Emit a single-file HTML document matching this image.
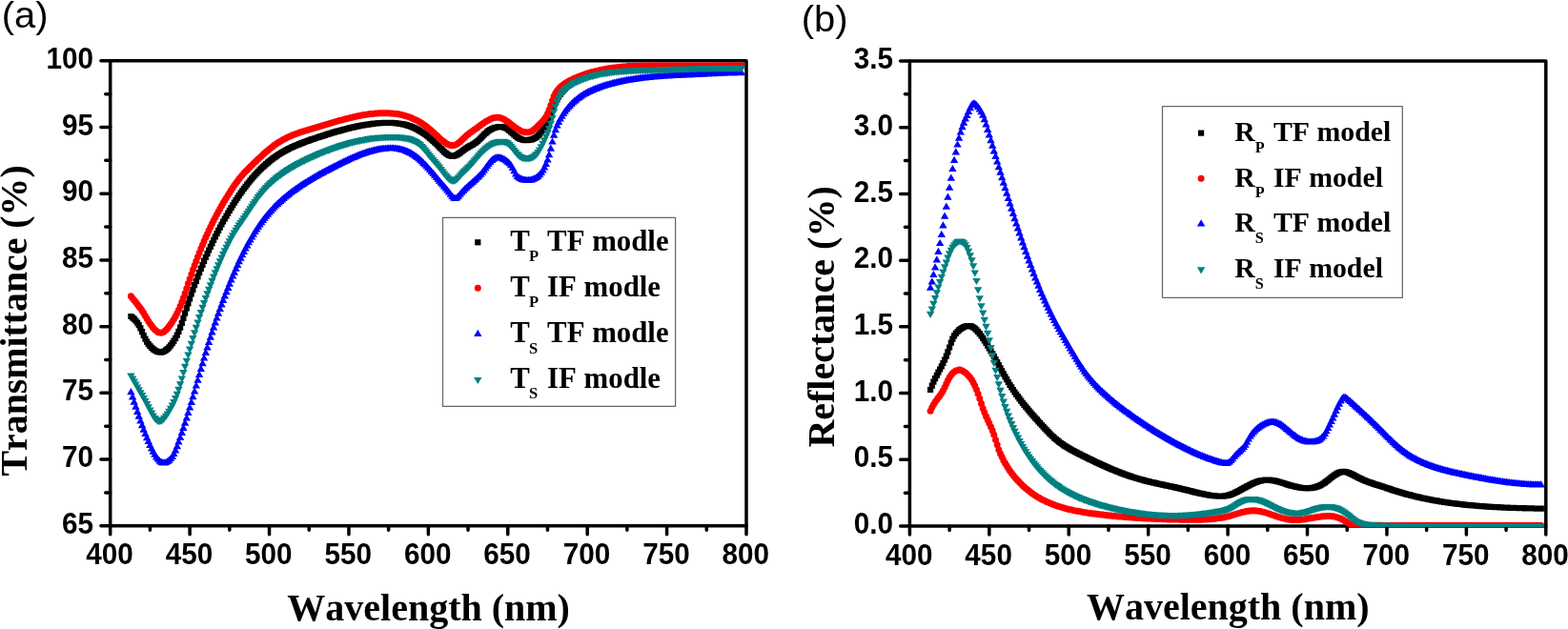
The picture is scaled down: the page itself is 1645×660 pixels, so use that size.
<!DOCTYPE html>
<html><head><meta charset="utf-8"><title>Transmittance and Reflectance spectra</title><style>html,body{margin:0;padding:0;background:#fff;overflow:hidden}svg{display:block;font-kerning:none}.tick text{font-family:"Liberation Sans",Arial,sans-serif;font-weight:bold;font-size:29.7px;fill:#000}.ttl{font-family:"Liberation Serif","Times New Roman",serif;font-weight:bold;font-size:40px;fill:#000}.lg{font-family:"Liberation Serif","Times New Roman",serif;font-weight:bold;font-size:30.8px;fill:#000}.pl{font-family:"Liberation Sans",Arial,sans-serif;font-size:40px;fill:#000}</style></head><body>
<svg width="1645" height="660" viewBox="0 0 1645 660">
<rect width="1645" height="660" fill="#fff"/>
<defs><clipPath id="ca"><rect x="117.45" y="65.55" width="663.8" height="487.99999999999994"/></clipPath><clipPath id="cb"><rect x="956.15" y="65.75" width="663.9" height="487.25"/></clipPath></defs>
<path d="M115.70 551.80V560.70M199.11 551.80V560.70M282.52 551.80V560.70M365.94 551.80V560.70M449.35 551.80V560.70M532.76 551.80V560.70M616.18 551.80V560.70M699.59 551.80V560.70M783.00 551.80V560.70M157.41 551.80V556.20M240.82 551.80V556.20M324.23 551.80V556.20M407.64 551.80V556.20M491.06 551.80V556.20M574.47 551.80V556.20M657.88 551.80V556.20M741.29 551.80V556.20M115.70 551.80H105.90M115.70 482.09H105.90M115.70 412.37H105.90M115.70 342.66H105.90M115.70 272.94H105.90M115.70 203.23H105.90M115.70 133.51H105.90M115.70 63.80H105.90M115.70 516.94H110.70M115.70 447.23H110.70M115.70 377.51H110.70M115.70 307.80H110.70M115.70 238.09H110.70M115.70 168.37H110.70M115.70 98.66H110.70" fill="none" stroke="#000" stroke-width="3.5" stroke-linecap="round"/>
<rect x="115.70" y="63.80" width="667.30" height="488.00" fill="none" stroke="#000" stroke-width="3.5" stroke-linejoin="round"/>
<g class="tick"><text transform="translate(115.00 591.5) scale(1 1.06)" text-anchor="middle">400</text><text transform="translate(198.41 591.5) scale(1 1.06)" text-anchor="middle">450</text><text transform="translate(281.82 591.5) scale(1 1.06)" text-anchor="middle">500</text><text transform="translate(365.24 591.5) scale(1 1.06)" text-anchor="middle">550</text><text transform="translate(448.65 591.5) scale(1 1.06)" text-anchor="middle">600</text><text transform="translate(532.06 591.5) scale(1 1.06)" text-anchor="middle">650</text><text transform="translate(615.48 591.5) scale(1 1.06)" text-anchor="middle">700</text><text transform="translate(698.89 591.5) scale(1 1.06)" text-anchor="middle">750</text><text transform="translate(782.30 591.5) scale(1 1.06)" text-anchor="middle">800</text><text transform="translate(98.1 559.90) scale(1 1.06)" text-anchor="end">65</text><text transform="translate(98.1 490.19) scale(1 1.06)" text-anchor="end">70</text><text transform="translate(98.1 420.47) scale(1 1.06)" text-anchor="end">75</text><text transform="translate(98.1 350.76) scale(1 1.06)" text-anchor="end">80</text><text transform="translate(98.1 281.04) scale(1 1.06)" text-anchor="end">85</text><text transform="translate(98.1 211.33) scale(1 1.06)" text-anchor="end">90</text><text transform="translate(98.1 141.61) scale(1 1.06)" text-anchor="end">95</text><text transform="translate(98.1 71.90) scale(1 1.06)" text-anchor="end">100</text></g>
<path d="M954.40 552.00V560.90M1037.83 552.00V560.90M1121.25 552.00V560.90M1204.67 552.00V560.90M1288.10 552.00V560.90M1371.53 552.00V560.90M1454.95 552.00V560.90M1538.38 552.00V560.90M1621.80 552.00V560.90M996.11 552.00V556.40M1079.54 552.00V556.40M1162.96 552.00V556.40M1246.39 552.00V556.40M1329.81 552.00V556.40M1413.24 552.00V556.40M1496.66 552.00V556.40M1580.09 552.00V556.40M954.40 552.00H944.60M954.40 482.29H944.60M954.40 412.57H944.60M954.40 342.86H944.60M954.40 273.14H944.60M954.40 203.43H944.60M954.40 133.71H944.60M954.40 64.00H944.60M954.40 517.14H949.40M954.40 447.43H949.40M954.40 377.71H949.40M954.40 308.00H949.40M954.40 238.29H949.40M954.40 168.57H949.40M954.40 98.86H949.40" fill="none" stroke="#000" stroke-width="3.5" stroke-linecap="round"/>
<rect x="954.40" y="64.00" width="667.40" height="488.00" fill="none" stroke="#000" stroke-width="3.5" stroke-linejoin="round"/>
<g class="tick"><text transform="translate(953.70 593.0) scale(1 1.06)" text-anchor="middle">400</text><text transform="translate(1037.12 593.0) scale(1 1.06)" text-anchor="middle">450</text><text transform="translate(1120.55 593.0) scale(1 1.06)" text-anchor="middle">500</text><text transform="translate(1203.97 593.0) scale(1 1.06)" text-anchor="middle">550</text><text transform="translate(1287.40 593.0) scale(1 1.06)" text-anchor="middle">600</text><text transform="translate(1370.83 593.0) scale(1 1.06)" text-anchor="middle">650</text><text transform="translate(1454.25 593.0) scale(1 1.06)" text-anchor="middle">700</text><text transform="translate(1537.67 593.0) scale(1 1.06)" text-anchor="middle">750</text><text transform="translate(1621.10 593.0) scale(1 1.06)" text-anchor="middle">800</text><text transform="translate(936.9 560.10) scale(1 1.06)" text-anchor="end">0.0</text><text transform="translate(936.9 490.39) scale(1 1.06)" text-anchor="end">0.5</text><text transform="translate(936.9 420.67) scale(1 1.06)" text-anchor="end">1.0</text><text transform="translate(936.9 350.96) scale(1 1.06)" text-anchor="end">1.5</text><text transform="translate(936.9 281.24) scale(1 1.06)" text-anchor="end">2.0</text><text transform="translate(936.9 211.53) scale(1 1.06)" text-anchor="end">2.5</text><text transform="translate(936.9 141.81) scale(1 1.06)" text-anchor="end">3.0</text><text transform="translate(936.9 72.10) scale(1 1.06)" text-anchor="end">3.5</text></g>
<g clip-path="url(#ca)"><path fill="#000000" d="M134.3 328.9h6.2v6.2h-6.2zM136.0 330.2h6.2v6.2h-6.2zM137.6 331.6h6.2v6.2h-6.2zM139.3 333.4h6.2v6.2h-6.2zM141.0 335.5h6.2v6.2h-6.2zM142.6 338.1h6.2v6.2h-6.2zM144.3 341.3h6.2v6.2h-6.2zM146.0 345.1h6.2v6.2h-6.2zM147.6 348.9h6.2v6.2h-6.2zM149.3 352.5h6.2v6.2h-6.2zM151.0 355.5h6.2v6.2h-6.2zM152.6 358.0h6.2v6.2h-6.2zM154.3 360.0h6.2v6.2h-6.2zM156.0 361.8h6.2v6.2h-6.2zM157.6 363.2h6.2v6.2h-6.2zM159.3 364.4h6.2v6.2h-6.2zM161.0 365.4h6.2v6.2h-6.2zM162.6 366.1h6.2v6.2h-6.2zM164.3 366.4h6.2v6.2h-6.2zM166.0 366.5h6.2v6.2h-6.2zM167.7 366.1h6.2v6.2h-6.2zM169.3 365.4h6.2v6.2h-6.2zM171.0 364.3h6.2v6.2h-6.2zM172.7 363.0h6.2v6.2h-6.2zM174.3 361.3h6.2v6.2h-6.2zM176.0 359.3h6.2v6.2h-6.2zM177.7 357.0h6.2v6.2h-6.2zM179.3 354.5h6.2v6.2h-6.2zM181.0 351.7h6.2v6.2h-6.2zM182.7 348.5h6.2v6.2h-6.2zM184.3 344.8h6.2v6.2h-6.2zM186.0 340.6h6.2v6.2h-6.2zM187.7 335.9h6.2v6.2h-6.2zM189.3 330.8h6.2v6.2h-6.2zM191.0 325.5h6.2v6.2h-6.2zM192.7 320.3h6.2v6.2h-6.2zM194.3 315.2h6.2v6.2h-6.2zM196.0 310.3h6.2v6.2h-6.2zM197.7 305.4h6.2v6.2h-6.2zM199.3 300.7h6.2v6.2h-6.2zM201.0 296.1h6.2v6.2h-6.2zM202.7 291.7h6.2v6.2h-6.2zM204.4 287.3h6.2v6.2h-6.2zM206.0 283.0h6.2v6.2h-6.2zM207.7 278.8h6.2v6.2h-6.2zM209.4 274.8h6.2v6.2h-6.2zM211.0 270.8h6.2v6.2h-6.2zM212.7 266.9h6.2v6.2h-6.2zM214.4 263.1h6.2v6.2h-6.2zM216.0 259.4h6.2v6.2h-6.2zM217.7 255.7h6.2v6.2h-6.2zM219.4 252.2h6.2v6.2h-6.2zM221.0 248.7h6.2v6.2h-6.2zM222.7 245.3h6.2v6.2h-6.2zM224.4 242.0h6.2v6.2h-6.2zM226.0 238.7h6.2v6.2h-6.2zM227.7 235.6h6.2v6.2h-6.2zM229.4 232.4h6.2v6.2h-6.2zM231.0 229.4h6.2v6.2h-6.2zM232.7 226.4h6.2v6.2h-6.2zM234.4 223.5h6.2v6.2h-6.2zM236.1 220.6h6.2v6.2h-6.2zM237.7 217.8h6.2v6.2h-6.2zM239.4 215.0h6.2v6.2h-6.2zM241.1 212.3h6.2v6.2h-6.2zM242.7 209.6h6.2v6.2h-6.2zM244.4 207.0h6.2v6.2h-6.2zM246.1 204.5h6.2v6.2h-6.2zM247.7 202.0h6.2v6.2h-6.2zM249.4 199.6h6.2v6.2h-6.2zM251.1 197.2h6.2v6.2h-6.2zM252.7 194.9h6.2v6.2h-6.2zM254.4 192.7h6.2v6.2h-6.2zM256.1 190.5h6.2v6.2h-6.2zM257.7 188.4h6.2v6.2h-6.2zM259.4 186.3h6.2v6.2h-6.2zM261.1 184.3h6.2v6.2h-6.2zM262.7 182.4h6.2v6.2h-6.2zM264.4 180.5h6.2v6.2h-6.2zM266.1 178.7h6.2v6.2h-6.2zM267.7 176.9h6.2v6.2h-6.2zM269.4 175.2h6.2v6.2h-6.2zM271.1 173.6h6.2v6.2h-6.2zM272.8 172.0h6.2v6.2h-6.2zM274.4 170.5h6.2v6.2h-6.2zM276.1 169.0h6.2v6.2h-6.2zM277.8 167.6h6.2v6.2h-6.2zM279.4 166.2h6.2v6.2h-6.2zM281.1 164.8h6.2v6.2h-6.2zM282.8 163.6h6.2v6.2h-6.2zM284.4 162.3h6.2v6.2h-6.2zM286.1 161.2h6.2v6.2h-6.2zM287.8 160.0h6.2v6.2h-6.2zM289.4 158.9h6.2v6.2h-6.2zM291.1 157.9h6.2v6.2h-6.2zM292.8 156.9h6.2v6.2h-6.2zM294.4 155.9h6.2v6.2h-6.2zM296.1 155.0h6.2v6.2h-6.2zM297.8 154.1h6.2v6.2h-6.2zM299.4 153.3h6.2v6.2h-6.2zM301.1 152.4h6.2v6.2h-6.2zM302.8 151.6h6.2v6.2h-6.2zM304.4 150.9h6.2v6.2h-6.2zM306.1 150.1h6.2v6.2h-6.2zM307.8 149.4h6.2v6.2h-6.2zM309.5 148.7h6.2v6.2h-6.2zM311.1 148.0h6.2v6.2h-6.2zM312.8 147.3h6.2v6.2h-6.2zM314.5 146.7h6.2v6.2h-6.2zM316.1 146.1h6.2v6.2h-6.2zM317.8 145.4h6.2v6.2h-6.2zM319.5 144.8h6.2v6.2h-6.2zM321.1 144.2h6.2v6.2h-6.2zM322.8 143.6h6.2v6.2h-6.2zM324.5 143.1h6.2v6.2h-6.2zM326.1 142.5h6.2v6.2h-6.2zM327.8 141.9h6.2v6.2h-6.2zM329.5 141.4h6.2v6.2h-6.2zM331.1 140.8h6.2v6.2h-6.2zM332.8 140.3h6.2v6.2h-6.2zM334.5 139.7h6.2v6.2h-6.2zM336.1 139.2h6.2v6.2h-6.2zM337.8 138.7h6.2v6.2h-6.2zM339.5 138.1h6.2v6.2h-6.2zM341.2 137.6h6.2v6.2h-6.2zM342.8 137.1h6.2v6.2h-6.2zM344.5 136.6h6.2v6.2h-6.2zM346.2 136.1h6.2v6.2h-6.2zM347.8 135.6h6.2v6.2h-6.2zM349.5 135.1h6.2v6.2h-6.2zM351.2 134.6h6.2v6.2h-6.2zM352.8 134.2h6.2v6.2h-6.2zM354.5 133.7h6.2v6.2h-6.2zM356.2 133.2h6.2v6.2h-6.2zM357.8 132.8h6.2v6.2h-6.2zM359.5 132.4h6.2v6.2h-6.2zM361.2 131.9h6.2v6.2h-6.2zM362.8 131.5h6.2v6.2h-6.2zM364.5 131.1h6.2v6.2h-6.2zM366.2 130.7h6.2v6.2h-6.2zM367.8 130.3h6.2v6.2h-6.2zM369.5 130.0h6.2v6.2h-6.2zM371.2 129.6h6.2v6.2h-6.2zM372.8 129.3h6.2v6.2h-6.2zM374.5 128.9h6.2v6.2h-6.2zM376.2 128.6h6.2v6.2h-6.2zM377.9 128.3h6.2v6.2h-6.2zM379.5 128.0h6.2v6.2h-6.2zM381.2 127.7h6.2v6.2h-6.2zM382.9 127.5h6.2v6.2h-6.2zM384.5 127.2h6.2v6.2h-6.2zM386.2 127.0h6.2v6.2h-6.2zM387.9 126.8h6.2v6.2h-6.2zM389.5 126.6h6.2v6.2h-6.2zM391.2 126.4h6.2v6.2h-6.2zM392.9 126.2h6.2v6.2h-6.2zM394.5 126.1h6.2v6.2h-6.2zM396.2 126.0h6.2v6.2h-6.2zM397.9 125.9h6.2v6.2h-6.2zM399.5 125.8h6.2v6.2h-6.2zM401.2 125.7h6.2v6.2h-6.2zM402.9 125.7h6.2v6.2h-6.2zM404.5 125.7h6.2v6.2h-6.2zM406.2 125.8h6.2v6.2h-6.2zM407.9 125.8h6.2v6.2h-6.2zM409.5 125.9h6.2v6.2h-6.2zM411.2 126.1h6.2v6.2h-6.2zM412.9 126.2h6.2v6.2h-6.2zM414.6 126.4h6.2v6.2h-6.2zM416.2 126.7h6.2v6.2h-6.2zM417.9 126.9h6.2v6.2h-6.2zM419.6 127.3h6.2v6.2h-6.2zM421.2 127.6h6.2v6.2h-6.2zM422.9 128.0h6.2v6.2h-6.2zM424.6 128.5h6.2v6.2h-6.2zM426.2 129.0h6.2v6.2h-6.2zM427.9 129.6h6.2v6.2h-6.2zM429.6 130.2h6.2v6.2h-6.2zM431.2 131.0h6.2v6.2h-6.2zM432.9 131.7h6.2v6.2h-6.2zM434.6 132.6h6.2v6.2h-6.2zM436.2 133.5h6.2v6.2h-6.2zM437.9 134.5h6.2v6.2h-6.2zM439.6 135.5h6.2v6.2h-6.2zM441.2 136.6h6.2v6.2h-6.2zM442.9 137.8h6.2v6.2h-6.2zM444.6 139.1h6.2v6.2h-6.2zM446.2 140.4h6.2v6.2h-6.2zM447.9 141.8h6.2v6.2h-6.2zM449.6 143.2h6.2v6.2h-6.2zM451.3 144.7h6.2v6.2h-6.2zM452.9 146.3h6.2v6.2h-6.2zM454.6 147.9h6.2v6.2h-6.2zM456.3 149.6h6.2v6.2h-6.2zM457.9 151.2h6.2v6.2h-6.2zM459.6 152.9h6.2v6.2h-6.2zM461.3 154.6h6.2v6.2h-6.2zM462.9 156.2h6.2v6.2h-6.2zM464.6 157.6h6.2v6.2h-6.2zM466.3 158.8h6.2v6.2h-6.2zM467.9 159.8h6.2v6.2h-6.2zM469.6 160.4h6.2v6.2h-6.2zM471.3 160.7h6.2v6.2h-6.2zM472.9 160.6h6.2v6.2h-6.2zM474.6 160.1h6.2v6.2h-6.2zM476.3 159.3h6.2v6.2h-6.2zM477.9 158.3h6.2v6.2h-6.2zM479.6 157.2h6.2v6.2h-6.2zM481.3 155.9h6.2v6.2h-6.2zM483.0 154.6h6.2v6.2h-6.2zM484.6 153.4h6.2v6.2h-6.2zM486.3 152.3h6.2v6.2h-6.2zM488.0 151.3h6.2v6.2h-6.2zM489.6 150.3h6.2v6.2h-6.2zM491.3 149.4h6.2v6.2h-6.2zM493.0 148.5h6.2v6.2h-6.2zM494.6 147.4h6.2v6.2h-6.2zM496.3 146.3h6.2v6.2h-6.2zM498.0 145.0h6.2v6.2h-6.2zM499.6 143.4h6.2v6.2h-6.2zM501.3 141.8h6.2v6.2h-6.2zM503.0 140.0h6.2v6.2h-6.2zM504.6 138.3h6.2v6.2h-6.2zM506.3 136.7h6.2v6.2h-6.2zM508.0 135.3h6.2v6.2h-6.2zM509.6 134.1h6.2v6.2h-6.2zM511.3 133.0h6.2v6.2h-6.2zM513.0 132.1h6.2v6.2h-6.2zM514.6 131.4h6.2v6.2h-6.2zM516.3 130.8h6.2v6.2h-6.2zM518.0 130.4h6.2v6.2h-6.2zM519.7 130.1h6.2v6.2h-6.2zM521.3 129.9h6.2v6.2h-6.2zM523.0 130.0h6.2v6.2h-6.2zM524.7 130.2h6.2v6.2h-6.2zM526.3 130.7h6.2v6.2h-6.2zM528.0 131.4h6.2v6.2h-6.2zM529.7 132.5h6.2v6.2h-6.2zM531.3 133.7h6.2v6.2h-6.2zM533.0 135.2h6.2v6.2h-6.2zM534.7 136.7h6.2v6.2h-6.2zM536.3 138.3h6.2v6.2h-6.2zM538.0 139.7h6.2v6.2h-6.2zM539.7 141.0h6.2v6.2h-6.2zM541.3 142.0h6.2v6.2h-6.2zM543.0 142.8h6.2v6.2h-6.2zM544.7 143.4h6.2v6.2h-6.2zM546.3 143.8h6.2v6.2h-6.2zM548.0 144.0h6.2v6.2h-6.2zM549.7 144.0h6.2v6.2h-6.2zM551.3 143.9h6.2v6.2h-6.2zM553.0 143.6h6.2v6.2h-6.2zM554.7 143.2h6.2v6.2h-6.2zM556.4 142.6h6.2v6.2h-6.2zM558.0 141.8h6.2v6.2h-6.2zM559.7 140.7h6.2v6.2h-6.2zM561.4 139.3h6.2v6.2h-6.2zM563.0 137.6h6.2v6.2h-6.2zM564.7 135.6h6.2v6.2h-6.2zM566.4 133.2h6.2v6.2h-6.2zM568.0 130.4h6.2v6.2h-6.2zM569.7 127.3h6.2v6.2h-6.2zM571.4 123.8h6.2v6.2h-6.2zM573.0 120.0h6.2v6.2h-6.2zM574.7 116.0h6.2v6.2h-6.2zM576.4 112.0h6.2v6.2h-6.2zM578.0 108.2h6.2v6.2h-6.2zM579.7 104.6h6.2v6.2h-6.2zM581.4 101.3h6.2v6.2h-6.2zM583.0 98.4h6.2v6.2h-6.2zM584.7 95.8h6.2v6.2h-6.2zM586.4 93.5h6.2v6.2h-6.2zM588.1 91.5h6.2v6.2h-6.2zM589.7 89.7h6.2v6.2h-6.2zM591.4 88.0h6.2v6.2h-6.2zM593.1 86.6h6.2v6.2h-6.2zM594.7 85.2h6.2v6.2h-6.2zM596.4 84.0h6.2v6.2h-6.2zM598.1 82.8h6.2v6.2h-6.2zM599.7 81.8h6.2v6.2h-6.2zM601.4 80.8h6.2v6.2h-6.2zM603.1 79.9h6.2v6.2h-6.2zM604.7 79.1h6.2v6.2h-6.2zM606.4 78.3h6.2v6.2h-6.2zM608.1 77.6h6.2v6.2h-6.2zM609.7 76.9h6.2v6.2h-6.2zM611.4 76.3h6.2v6.2h-6.2zM613.1 75.7h6.2v6.2h-6.2zM614.7 75.2h6.2v6.2h-6.2zM616.4 74.7h6.2v6.2h-6.2zM618.1 74.2h6.2v6.2h-6.2zM619.7 73.8h6.2v6.2h-6.2zM621.4 73.4h6.2v6.2h-6.2zM623.1 73.0h6.2v6.2h-6.2zM624.8 72.7h6.2v6.2h-6.2zM626.4 72.3h6.2v6.2h-6.2zM628.1 72.0h6.2v6.2h-6.2zM629.8 71.7h6.2v6.2h-6.2zM631.4 71.4h6.2v6.2h-6.2zM633.1 71.2h6.2v6.2h-6.2zM634.8 70.9h6.2v6.2h-6.2zM636.4 70.7h6.2v6.2h-6.2zM638.1 70.5h6.2v6.2h-6.2zM639.8 70.3h6.2v6.2h-6.2zM641.4 70.1h6.2v6.2h-6.2zM643.1 69.9h6.2v6.2h-6.2zM644.8 69.7h6.2v6.2h-6.2zM646.4 69.5h6.2v6.2h-6.2zM648.1 69.4h6.2v6.2h-6.2zM649.8 69.2h6.2v6.2h-6.2zM651.4 69.1h6.2v6.2h-6.2zM653.1 68.9h6.2v6.2h-6.2zM654.8 68.8h6.2v6.2h-6.2zM656.4 68.7h6.2v6.2h-6.2zM658.1 68.6h6.2v6.2h-6.2zM659.8 68.5h6.2v6.2h-6.2zM661.5 68.4h6.2v6.2h-6.2zM663.1 68.3h6.2v6.2h-6.2zM664.8 68.2h6.2v6.2h-6.2zM666.5 68.1h6.2v6.2h-6.2zM668.1 68.0h6.2v6.2h-6.2zM669.8 67.9h6.2v6.2h-6.2zM671.5 67.9h6.2v6.2h-6.2zM673.1 67.8h6.2v6.2h-6.2zM674.8 67.7h6.2v6.2h-6.2zM676.5 67.7h6.2v6.2h-6.2zM678.1 67.6h6.2v6.2h-6.2zM679.8 67.5h6.2v6.2h-6.2zM681.5 67.5h6.2v6.2h-6.2zM683.1 67.4h6.2v6.2h-6.2zM684.8 67.4h6.2v6.2h-6.2zM686.5 67.3h6.2v6.2h-6.2zM688.1 67.3h6.2v6.2h-6.2zM689.8 67.2h6.2v6.2h-6.2zM691.5 67.2h6.2v6.2h-6.2zM693.2 67.1h6.2v6.2h-6.2zM694.8 67.1h6.2v6.2h-6.2zM696.5 67.0h6.2v6.2h-6.2zM698.2 67.0h6.2v6.2h-6.2zM699.8 66.9h6.2v6.2h-6.2zM701.5 66.9h6.2v6.2h-6.2zM703.2 66.8h6.2v6.2h-6.2zM704.8 66.8h6.2v6.2h-6.2zM706.5 66.7h6.2v6.2h-6.2zM708.2 66.7h6.2v6.2h-6.2zM709.8 66.6h6.2v6.2h-6.2zM711.5 66.6h6.2v6.2h-6.2zM713.2 66.5h6.2v6.2h-6.2zM714.8 66.5h6.2v6.2h-6.2zM716.5 66.5h6.2v6.2h-6.2zM718.2 66.4h6.2v6.2h-6.2zM719.8 66.4h6.2v6.2h-6.2zM721.5 66.3h6.2v6.2h-6.2zM723.2 66.3h6.2v6.2h-6.2zM724.8 66.3h6.2v6.2h-6.2zM726.5 66.2h6.2v6.2h-6.2zM728.2 66.2h6.2v6.2h-6.2zM729.9 66.1h6.2v6.2h-6.2zM731.5 66.1h6.2v6.2h-6.2zM733.2 66.1h6.2v6.2h-6.2zM734.9 66.0h6.2v6.2h-6.2zM736.5 66.0h6.2v6.2h-6.2zM738.2 66.0h6.2v6.2h-6.2zM739.9 65.9h6.2v6.2h-6.2zM741.5 65.9h6.2v6.2h-6.2zM743.2 65.9h6.2v6.2h-6.2zM744.9 65.9h6.2v6.2h-6.2zM746.5 65.8h6.2v6.2h-6.2zM748.2 65.8h6.2v6.2h-6.2zM749.9 65.8h6.2v6.2h-6.2zM751.5 65.8h6.2v6.2h-6.2zM753.2 65.7h6.2v6.2h-6.2zM754.9 65.7h6.2v6.2h-6.2zM756.5 65.7h6.2v6.2h-6.2zM758.2 65.7h6.2v6.2h-6.2zM759.9 65.6h6.2v6.2h-6.2zM761.5 65.6h6.2v6.2h-6.2zM763.2 65.6h6.2v6.2h-6.2zM764.9 65.6h6.2v6.2h-6.2zM766.6 65.6h6.2v6.2h-6.2zM768.2 65.6h6.2v6.2h-6.2zM769.9 65.5h6.2v6.2h-6.2zM771.6 65.5h6.2v6.2h-6.2zM773.2 65.5h6.2v6.2h-6.2zM774.9 65.5h6.2v6.2h-6.2z"/><path fill="#ff0000" d="M133.9 310.7a3.5 3.5 0 1 0 7.0 0a3.5 3.5 0 1 0 -7.0 0zM135.6 313.0a3.5 3.5 0 1 0 7.0 0a3.5 3.5 0 1 0 -7.0 0zM137.2 315.1a3.5 3.5 0 1 0 7.0 0a3.5 3.5 0 1 0 -7.0 0zM138.9 317.1a3.5 3.5 0 1 0 7.0 0a3.5 3.5 0 1 0 -7.0 0zM140.6 319.2a3.5 3.5 0 1 0 7.0 0a3.5 3.5 0 1 0 -7.0 0zM142.2 321.4a3.5 3.5 0 1 0 7.0 0a3.5 3.5 0 1 0 -7.0 0zM143.9 323.6a3.5 3.5 0 1 0 7.0 0a3.5 3.5 0 1 0 -7.0 0zM145.6 326.0a3.5 3.5 0 1 0 7.0 0a3.5 3.5 0 1 0 -7.0 0zM147.2 328.6a3.5 3.5 0 1 0 7.0 0a3.5 3.5 0 1 0 -7.0 0zM148.9 331.4a3.5 3.5 0 1 0 7.0 0a3.5 3.5 0 1 0 -7.0 0zM150.6 334.2a3.5 3.5 0 1 0 7.0 0a3.5 3.5 0 1 0 -7.0 0zM152.2 337.0a3.5 3.5 0 1 0 7.0 0a3.5 3.5 0 1 0 -7.0 0zM153.9 339.5a3.5 3.5 0 1 0 7.0 0a3.5 3.5 0 1 0 -7.0 0zM155.6 341.8a3.5 3.5 0 1 0 7.0 0a3.5 3.5 0 1 0 -7.0 0zM157.2 343.9a3.5 3.5 0 1 0 7.0 0a3.5 3.5 0 1 0 -7.0 0zM158.9 345.7a3.5 3.5 0 1 0 7.0 0a3.5 3.5 0 1 0 -7.0 0zM160.6 347.3a3.5 3.5 0 1 0 7.0 0a3.5 3.5 0 1 0 -7.0 0zM162.2 348.4a3.5 3.5 0 1 0 7.0 0a3.5 3.5 0 1 0 -7.0 0zM163.9 349.1a3.5 3.5 0 1 0 7.0 0a3.5 3.5 0 1 0 -7.0 0zM165.6 349.3a3.5 3.5 0 1 0 7.0 0a3.5 3.5 0 1 0 -7.0 0zM167.3 348.8a3.5 3.5 0 1 0 7.0 0a3.5 3.5 0 1 0 -7.0 0zM168.9 347.8a3.5 3.5 0 1 0 7.0 0a3.5 3.5 0 1 0 -7.0 0zM170.6 346.3a3.5 3.5 0 1 0 7.0 0a3.5 3.5 0 1 0 -7.0 0zM172.3 344.4a3.5 3.5 0 1 0 7.0 0a3.5 3.5 0 1 0 -7.0 0zM173.9 342.3a3.5 3.5 0 1 0 7.0 0a3.5 3.5 0 1 0 -7.0 0zM175.6 340.1a3.5 3.5 0 1 0 7.0 0a3.5 3.5 0 1 0 -7.0 0zM177.3 337.6a3.5 3.5 0 1 0 7.0 0a3.5 3.5 0 1 0 -7.0 0zM178.9 334.9a3.5 3.5 0 1 0 7.0 0a3.5 3.5 0 1 0 -7.0 0zM180.6 332.0a3.5 3.5 0 1 0 7.0 0a3.5 3.5 0 1 0 -7.0 0zM182.3 328.7a3.5 3.5 0 1 0 7.0 0a3.5 3.5 0 1 0 -7.0 0zM183.9 325.2a3.5 3.5 0 1 0 7.0 0a3.5 3.5 0 1 0 -7.0 0zM185.6 321.3a3.5 3.5 0 1 0 7.0 0a3.5 3.5 0 1 0 -7.0 0zM187.3 317.1a3.5 3.5 0 1 0 7.0 0a3.5 3.5 0 1 0 -7.0 0zM188.9 312.5a3.5 3.5 0 1 0 7.0 0a3.5 3.5 0 1 0 -7.0 0zM190.6 307.7a3.5 3.5 0 1 0 7.0 0a3.5 3.5 0 1 0 -7.0 0zM192.3 302.7a3.5 3.5 0 1 0 7.0 0a3.5 3.5 0 1 0 -7.0 0zM193.9 297.6a3.5 3.5 0 1 0 7.0 0a3.5 3.5 0 1 0 -7.0 0zM195.6 292.7a3.5 3.5 0 1 0 7.0 0a3.5 3.5 0 1 0 -7.0 0zM197.3 287.9a3.5 3.5 0 1 0 7.0 0a3.5 3.5 0 1 0 -7.0 0zM198.9 283.1a3.5 3.5 0 1 0 7.0 0a3.5 3.5 0 1 0 -7.0 0zM200.6 278.5a3.5 3.5 0 1 0 7.0 0a3.5 3.5 0 1 0 -7.0 0zM202.3 274.0a3.5 3.5 0 1 0 7.0 0a3.5 3.5 0 1 0 -7.0 0zM204.0 269.5a3.5 3.5 0 1 0 7.0 0a3.5 3.5 0 1 0 -7.0 0zM205.6 265.2a3.5 3.5 0 1 0 7.0 0a3.5 3.5 0 1 0 -7.0 0zM207.3 261.0a3.5 3.5 0 1 0 7.0 0a3.5 3.5 0 1 0 -7.0 0zM209.0 256.9a3.5 3.5 0 1 0 7.0 0a3.5 3.5 0 1 0 -7.0 0zM210.6 253.0a3.5 3.5 0 1 0 7.0 0a3.5 3.5 0 1 0 -7.0 0zM212.3 249.1a3.5 3.5 0 1 0 7.0 0a3.5 3.5 0 1 0 -7.0 0zM214.0 245.4a3.5 3.5 0 1 0 7.0 0a3.5 3.5 0 1 0 -7.0 0zM215.6 241.7a3.5 3.5 0 1 0 7.0 0a3.5 3.5 0 1 0 -7.0 0zM217.3 238.2a3.5 3.5 0 1 0 7.0 0a3.5 3.5 0 1 0 -7.0 0zM219.0 234.8a3.5 3.5 0 1 0 7.0 0a3.5 3.5 0 1 0 -7.0 0zM220.6 231.4a3.5 3.5 0 1 0 7.0 0a3.5 3.5 0 1 0 -7.0 0zM222.3 228.2a3.5 3.5 0 1 0 7.0 0a3.5 3.5 0 1 0 -7.0 0zM224.0 225.0a3.5 3.5 0 1 0 7.0 0a3.5 3.5 0 1 0 -7.0 0zM225.6 221.9a3.5 3.5 0 1 0 7.0 0a3.5 3.5 0 1 0 -7.0 0zM227.3 218.9a3.5 3.5 0 1 0 7.0 0a3.5 3.5 0 1 0 -7.0 0zM229.0 216.0a3.5 3.5 0 1 0 7.0 0a3.5 3.5 0 1 0 -7.0 0zM230.6 213.1a3.5 3.5 0 1 0 7.0 0a3.5 3.5 0 1 0 -7.0 0zM232.3 210.3a3.5 3.5 0 1 0 7.0 0a3.5 3.5 0 1 0 -7.0 0zM234.0 207.5a3.5 3.5 0 1 0 7.0 0a3.5 3.5 0 1 0 -7.0 0zM235.7 204.8a3.5 3.5 0 1 0 7.0 0a3.5 3.5 0 1 0 -7.0 0zM237.3 202.2a3.5 3.5 0 1 0 7.0 0a3.5 3.5 0 1 0 -7.0 0zM239.0 199.6a3.5 3.5 0 1 0 7.0 0a3.5 3.5 0 1 0 -7.0 0zM240.7 197.1a3.5 3.5 0 1 0 7.0 0a3.5 3.5 0 1 0 -7.0 0zM242.3 194.6a3.5 3.5 0 1 0 7.0 0a3.5 3.5 0 1 0 -7.0 0zM244.0 192.2a3.5 3.5 0 1 0 7.0 0a3.5 3.5 0 1 0 -7.0 0zM245.7 189.9a3.5 3.5 0 1 0 7.0 0a3.5 3.5 0 1 0 -7.0 0zM247.3 187.7a3.5 3.5 0 1 0 7.0 0a3.5 3.5 0 1 0 -7.0 0zM249.0 185.7a3.5 3.5 0 1 0 7.0 0a3.5 3.5 0 1 0 -7.0 0zM250.7 183.7a3.5 3.5 0 1 0 7.0 0a3.5 3.5 0 1 0 -7.0 0zM252.3 181.8a3.5 3.5 0 1 0 7.0 0a3.5 3.5 0 1 0 -7.0 0zM254.0 180.1a3.5 3.5 0 1 0 7.0 0a3.5 3.5 0 1 0 -7.0 0zM255.7 178.4a3.5 3.5 0 1 0 7.0 0a3.5 3.5 0 1 0 -7.0 0zM257.3 176.7a3.5 3.5 0 1 0 7.0 0a3.5 3.5 0 1 0 -7.0 0zM259.0 175.0a3.5 3.5 0 1 0 7.0 0a3.5 3.5 0 1 0 -7.0 0zM260.7 173.4a3.5 3.5 0 1 0 7.0 0a3.5 3.5 0 1 0 -7.0 0zM262.3 171.8a3.5 3.5 0 1 0 7.0 0a3.5 3.5 0 1 0 -7.0 0zM264.0 170.2a3.5 3.5 0 1 0 7.0 0a3.5 3.5 0 1 0 -7.0 0zM265.7 168.6a3.5 3.5 0 1 0 7.0 0a3.5 3.5 0 1 0 -7.0 0zM267.3 167.0a3.5 3.5 0 1 0 7.0 0a3.5 3.5 0 1 0 -7.0 0zM269.0 165.4a3.5 3.5 0 1 0 7.0 0a3.5 3.5 0 1 0 -7.0 0zM270.7 163.9a3.5 3.5 0 1 0 7.0 0a3.5 3.5 0 1 0 -7.0 0zM272.4 162.3a3.5 3.5 0 1 0 7.0 0a3.5 3.5 0 1 0 -7.0 0zM274.0 160.8a3.5 3.5 0 1 0 7.0 0a3.5 3.5 0 1 0 -7.0 0zM275.7 159.3a3.5 3.5 0 1 0 7.0 0a3.5 3.5 0 1 0 -7.0 0zM277.4 157.9a3.5 3.5 0 1 0 7.0 0a3.5 3.5 0 1 0 -7.0 0zM279.0 156.5a3.5 3.5 0 1 0 7.0 0a3.5 3.5 0 1 0 -7.0 0zM280.7 155.2a3.5 3.5 0 1 0 7.0 0a3.5 3.5 0 1 0 -7.0 0zM282.4 153.9a3.5 3.5 0 1 0 7.0 0a3.5 3.5 0 1 0 -7.0 0zM284.0 152.6a3.5 3.5 0 1 0 7.0 0a3.5 3.5 0 1 0 -7.0 0zM285.7 151.4a3.5 3.5 0 1 0 7.0 0a3.5 3.5 0 1 0 -7.0 0zM287.4 150.3a3.5 3.5 0 1 0 7.0 0a3.5 3.5 0 1 0 -7.0 0zM289.0 149.2a3.5 3.5 0 1 0 7.0 0a3.5 3.5 0 1 0 -7.0 0zM290.7 148.2a3.5 3.5 0 1 0 7.0 0a3.5 3.5 0 1 0 -7.0 0zM292.4 147.2a3.5 3.5 0 1 0 7.0 0a3.5 3.5 0 1 0 -7.0 0zM294.0 146.3a3.5 3.5 0 1 0 7.0 0a3.5 3.5 0 1 0 -7.0 0zM295.7 145.4a3.5 3.5 0 1 0 7.0 0a3.5 3.5 0 1 0 -7.0 0zM297.4 144.6a3.5 3.5 0 1 0 7.0 0a3.5 3.5 0 1 0 -7.0 0zM299.0 143.8a3.5 3.5 0 1 0 7.0 0a3.5 3.5 0 1 0 -7.0 0zM300.7 143.0a3.5 3.5 0 1 0 7.0 0a3.5 3.5 0 1 0 -7.0 0zM302.4 142.3a3.5 3.5 0 1 0 7.0 0a3.5 3.5 0 1 0 -7.0 0zM304.0 141.6a3.5 3.5 0 1 0 7.0 0a3.5 3.5 0 1 0 -7.0 0zM305.7 141.0a3.5 3.5 0 1 0 7.0 0a3.5 3.5 0 1 0 -7.0 0zM307.4 140.3a3.5 3.5 0 1 0 7.0 0a3.5 3.5 0 1 0 -7.0 0zM309.1 139.7a3.5 3.5 0 1 0 7.0 0a3.5 3.5 0 1 0 -7.0 0zM310.7 139.1a3.5 3.5 0 1 0 7.0 0a3.5 3.5 0 1 0 -7.0 0zM312.4 138.5a3.5 3.5 0 1 0 7.0 0a3.5 3.5 0 1 0 -7.0 0zM314.1 138.0a3.5 3.5 0 1 0 7.0 0a3.5 3.5 0 1 0 -7.0 0zM315.7 137.5a3.5 3.5 0 1 0 7.0 0a3.5 3.5 0 1 0 -7.0 0zM317.4 136.9a3.5 3.5 0 1 0 7.0 0a3.5 3.5 0 1 0 -7.0 0zM319.1 136.4a3.5 3.5 0 1 0 7.0 0a3.5 3.5 0 1 0 -7.0 0zM320.7 135.9a3.5 3.5 0 1 0 7.0 0a3.5 3.5 0 1 0 -7.0 0zM322.4 135.4a3.5 3.5 0 1 0 7.0 0a3.5 3.5 0 1 0 -7.0 0zM324.1 134.9a3.5 3.5 0 1 0 7.0 0a3.5 3.5 0 1 0 -7.0 0zM325.7 134.4a3.5 3.5 0 1 0 7.0 0a3.5 3.5 0 1 0 -7.0 0zM327.4 134.0a3.5 3.5 0 1 0 7.0 0a3.5 3.5 0 1 0 -7.0 0zM329.1 133.5a3.5 3.5 0 1 0 7.0 0a3.5 3.5 0 1 0 -7.0 0zM330.7 133.0a3.5 3.5 0 1 0 7.0 0a3.5 3.5 0 1 0 -7.0 0zM332.4 132.5a3.5 3.5 0 1 0 7.0 0a3.5 3.5 0 1 0 -7.0 0zM334.1 132.0a3.5 3.5 0 1 0 7.0 0a3.5 3.5 0 1 0 -7.0 0zM335.7 131.5a3.5 3.5 0 1 0 7.0 0a3.5 3.5 0 1 0 -7.0 0zM337.4 131.0a3.5 3.5 0 1 0 7.0 0a3.5 3.5 0 1 0 -7.0 0zM339.1 130.5a3.5 3.5 0 1 0 7.0 0a3.5 3.5 0 1 0 -7.0 0zM340.8 130.0a3.5 3.5 0 1 0 7.0 0a3.5 3.5 0 1 0 -7.0 0zM342.4 129.5a3.5 3.5 0 1 0 7.0 0a3.5 3.5 0 1 0 -7.0 0zM344.1 129.1a3.5 3.5 0 1 0 7.0 0a3.5 3.5 0 1 0 -7.0 0zM345.8 128.6a3.5 3.5 0 1 0 7.0 0a3.5 3.5 0 1 0 -7.0 0zM347.4 128.1a3.5 3.5 0 1 0 7.0 0a3.5 3.5 0 1 0 -7.0 0zM349.1 127.6a3.5 3.5 0 1 0 7.0 0a3.5 3.5 0 1 0 -7.0 0zM350.8 127.1a3.5 3.5 0 1 0 7.0 0a3.5 3.5 0 1 0 -7.0 0zM352.4 126.6a3.5 3.5 0 1 0 7.0 0a3.5 3.5 0 1 0 -7.0 0zM354.1 126.2a3.5 3.5 0 1 0 7.0 0a3.5 3.5 0 1 0 -7.0 0zM355.8 125.7a3.5 3.5 0 1 0 7.0 0a3.5 3.5 0 1 0 -7.0 0zM357.4 125.3a3.5 3.5 0 1 0 7.0 0a3.5 3.5 0 1 0 -7.0 0zM359.1 124.8a3.5 3.5 0 1 0 7.0 0a3.5 3.5 0 1 0 -7.0 0zM360.8 124.4a3.5 3.5 0 1 0 7.0 0a3.5 3.5 0 1 0 -7.0 0zM362.4 124.0a3.5 3.5 0 1 0 7.0 0a3.5 3.5 0 1 0 -7.0 0zM364.1 123.6a3.5 3.5 0 1 0 7.0 0a3.5 3.5 0 1 0 -7.0 0zM365.8 123.2a3.5 3.5 0 1 0 7.0 0a3.5 3.5 0 1 0 -7.0 0zM367.4 122.8a3.5 3.5 0 1 0 7.0 0a3.5 3.5 0 1 0 -7.0 0zM369.1 122.4a3.5 3.5 0 1 0 7.0 0a3.5 3.5 0 1 0 -7.0 0zM370.8 122.0a3.5 3.5 0 1 0 7.0 0a3.5 3.5 0 1 0 -7.0 0zM372.4 121.7a3.5 3.5 0 1 0 7.0 0a3.5 3.5 0 1 0 -7.0 0zM374.1 121.4a3.5 3.5 0 1 0 7.0 0a3.5 3.5 0 1 0 -7.0 0zM375.8 121.1a3.5 3.5 0 1 0 7.0 0a3.5 3.5 0 1 0 -7.0 0zM377.5 120.8a3.5 3.5 0 1 0 7.0 0a3.5 3.5 0 1 0 -7.0 0zM379.1 120.5a3.5 3.5 0 1 0 7.0 0a3.5 3.5 0 1 0 -7.0 0zM380.8 120.2a3.5 3.5 0 1 0 7.0 0a3.5 3.5 0 1 0 -7.0 0zM382.5 120.0a3.5 3.5 0 1 0 7.0 0a3.5 3.5 0 1 0 -7.0 0zM384.1 119.8a3.5 3.5 0 1 0 7.0 0a3.5 3.5 0 1 0 -7.0 0zM385.8 119.6a3.5 3.5 0 1 0 7.0 0a3.5 3.5 0 1 0 -7.0 0zM387.5 119.4a3.5 3.5 0 1 0 7.0 0a3.5 3.5 0 1 0 -7.0 0zM389.1 119.2a3.5 3.5 0 1 0 7.0 0a3.5 3.5 0 1 0 -7.0 0zM390.8 119.1a3.5 3.5 0 1 0 7.0 0a3.5 3.5 0 1 0 -7.0 0zM392.5 118.9a3.5 3.5 0 1 0 7.0 0a3.5 3.5 0 1 0 -7.0 0zM394.1 118.8a3.5 3.5 0 1 0 7.0 0a3.5 3.5 0 1 0 -7.0 0zM395.8 118.8a3.5 3.5 0 1 0 7.0 0a3.5 3.5 0 1 0 -7.0 0zM397.5 118.7a3.5 3.5 0 1 0 7.0 0a3.5 3.5 0 1 0 -7.0 0zM399.1 118.7a3.5 3.5 0 1 0 7.0 0a3.5 3.5 0 1 0 -7.0 0zM400.8 118.7a3.5 3.5 0 1 0 7.0 0a3.5 3.5 0 1 0 -7.0 0zM402.5 118.7a3.5 3.5 0 1 0 7.0 0a3.5 3.5 0 1 0 -7.0 0zM404.1 118.8a3.5 3.5 0 1 0 7.0 0a3.5 3.5 0 1 0 -7.0 0zM405.8 118.9a3.5 3.5 0 1 0 7.0 0a3.5 3.5 0 1 0 -7.0 0zM407.5 119.0a3.5 3.5 0 1 0 7.0 0a3.5 3.5 0 1 0 -7.0 0zM409.1 119.2a3.5 3.5 0 1 0 7.0 0a3.5 3.5 0 1 0 -7.0 0zM410.8 119.3a3.5 3.5 0 1 0 7.0 0a3.5 3.5 0 1 0 -7.0 0zM412.5 119.6a3.5 3.5 0 1 0 7.0 0a3.5 3.5 0 1 0 -7.0 0zM414.2 119.8a3.5 3.5 0 1 0 7.0 0a3.5 3.5 0 1 0 -7.0 0zM415.8 120.1a3.5 3.5 0 1 0 7.0 0a3.5 3.5 0 1 0 -7.0 0zM417.5 120.5a3.5 3.5 0 1 0 7.0 0a3.5 3.5 0 1 0 -7.0 0zM419.2 120.8a3.5 3.5 0 1 0 7.0 0a3.5 3.5 0 1 0 -7.0 0zM420.8 121.3a3.5 3.5 0 1 0 7.0 0a3.5 3.5 0 1 0 -7.0 0zM422.5 121.7a3.5 3.5 0 1 0 7.0 0a3.5 3.5 0 1 0 -7.0 0zM424.2 122.3a3.5 3.5 0 1 0 7.0 0a3.5 3.5 0 1 0 -7.0 0zM425.8 122.8a3.5 3.5 0 1 0 7.0 0a3.5 3.5 0 1 0 -7.0 0zM427.5 123.5a3.5 3.5 0 1 0 7.0 0a3.5 3.5 0 1 0 -7.0 0zM429.2 124.2a3.5 3.5 0 1 0 7.0 0a3.5 3.5 0 1 0 -7.0 0zM430.8 124.9a3.5 3.5 0 1 0 7.0 0a3.5 3.5 0 1 0 -7.0 0zM432.5 125.7a3.5 3.5 0 1 0 7.0 0a3.5 3.5 0 1 0 -7.0 0zM434.2 126.6a3.5 3.5 0 1 0 7.0 0a3.5 3.5 0 1 0 -7.0 0zM435.8 127.5a3.5 3.5 0 1 0 7.0 0a3.5 3.5 0 1 0 -7.0 0zM437.5 128.5a3.5 3.5 0 1 0 7.0 0a3.5 3.5 0 1 0 -7.0 0zM439.2 129.6a3.5 3.5 0 1 0 7.0 0a3.5 3.5 0 1 0 -7.0 0zM440.8 130.7a3.5 3.5 0 1 0 7.0 0a3.5 3.5 0 1 0 -7.0 0zM442.5 131.8a3.5 3.5 0 1 0 7.0 0a3.5 3.5 0 1 0 -7.0 0zM444.2 133.1a3.5 3.5 0 1 0 7.0 0a3.5 3.5 0 1 0 -7.0 0zM445.8 134.4a3.5 3.5 0 1 0 7.0 0a3.5 3.5 0 1 0 -7.0 0zM447.5 135.8a3.5 3.5 0 1 0 7.0 0a3.5 3.5 0 1 0 -7.0 0zM449.2 137.2a3.5 3.5 0 1 0 7.0 0a3.5 3.5 0 1 0 -7.0 0zM450.9 138.7a3.5 3.5 0 1 0 7.0 0a3.5 3.5 0 1 0 -7.0 0zM452.5 140.2a3.5 3.5 0 1 0 7.0 0a3.5 3.5 0 1 0 -7.0 0zM454.2 141.8a3.5 3.5 0 1 0 7.0 0a3.5 3.5 0 1 0 -7.0 0zM455.9 143.3a3.5 3.5 0 1 0 7.0 0a3.5 3.5 0 1 0 -7.0 0zM457.5 144.9a3.5 3.5 0 1 0 7.0 0a3.5 3.5 0 1 0 -7.0 0zM459.2 146.4a3.5 3.5 0 1 0 7.0 0a3.5 3.5 0 1 0 -7.0 0zM460.9 147.8a3.5 3.5 0 1 0 7.0 0a3.5 3.5 0 1 0 -7.0 0zM462.5 149.1a3.5 3.5 0 1 0 7.0 0a3.5 3.5 0 1 0 -7.0 0zM464.2 150.3a3.5 3.5 0 1 0 7.0 0a3.5 3.5 0 1 0 -7.0 0zM465.9 151.2a3.5 3.5 0 1 0 7.0 0a3.5 3.5 0 1 0 -7.0 0zM467.5 152.0a3.5 3.5 0 1 0 7.0 0a3.5 3.5 0 1 0 -7.0 0zM469.2 152.5a3.5 3.5 0 1 0 7.0 0a3.5 3.5 0 1 0 -7.0 0zM470.9 152.8a3.5 3.5 0 1 0 7.0 0a3.5 3.5 0 1 0 -7.0 0zM472.5 152.6a3.5 3.5 0 1 0 7.0 0a3.5 3.5 0 1 0 -7.0 0zM474.2 152.1a3.5 3.5 0 1 0 7.0 0a3.5 3.5 0 1 0 -7.0 0zM475.9 151.3a3.5 3.5 0 1 0 7.0 0a3.5 3.5 0 1 0 -7.0 0zM477.5 150.1a3.5 3.5 0 1 0 7.0 0a3.5 3.5 0 1 0 -7.0 0zM479.2 148.7a3.5 3.5 0 1 0 7.0 0a3.5 3.5 0 1 0 -7.0 0zM480.9 147.1a3.5 3.5 0 1 0 7.0 0a3.5 3.5 0 1 0 -7.0 0zM482.6 145.5a3.5 3.5 0 1 0 7.0 0a3.5 3.5 0 1 0 -7.0 0zM484.2 143.9a3.5 3.5 0 1 0 7.0 0a3.5 3.5 0 1 0 -7.0 0zM485.9 142.3a3.5 3.5 0 1 0 7.0 0a3.5 3.5 0 1 0 -7.0 0zM487.6 140.9a3.5 3.5 0 1 0 7.0 0a3.5 3.5 0 1 0 -7.0 0zM489.2 139.6a3.5 3.5 0 1 0 7.0 0a3.5 3.5 0 1 0 -7.0 0zM490.9 138.4a3.5 3.5 0 1 0 7.0 0a3.5 3.5 0 1 0 -7.0 0zM492.6 137.3a3.5 3.5 0 1 0 7.0 0a3.5 3.5 0 1 0 -7.0 0zM494.2 136.1a3.5 3.5 0 1 0 7.0 0a3.5 3.5 0 1 0 -7.0 0zM495.9 134.9a3.5 3.5 0 1 0 7.0 0a3.5 3.5 0 1 0 -7.0 0zM497.6 133.7a3.5 3.5 0 1 0 7.0 0a3.5 3.5 0 1 0 -7.0 0zM499.2 132.5a3.5 3.5 0 1 0 7.0 0a3.5 3.5 0 1 0 -7.0 0zM500.9 131.3a3.5 3.5 0 1 0 7.0 0a3.5 3.5 0 1 0 -7.0 0zM502.6 130.1a3.5 3.5 0 1 0 7.0 0a3.5 3.5 0 1 0 -7.0 0zM504.2 128.9a3.5 3.5 0 1 0 7.0 0a3.5 3.5 0 1 0 -7.0 0zM505.9 127.8a3.5 3.5 0 1 0 7.0 0a3.5 3.5 0 1 0 -7.0 0zM507.6 126.8a3.5 3.5 0 1 0 7.0 0a3.5 3.5 0 1 0 -7.0 0zM509.2 125.9a3.5 3.5 0 1 0 7.0 0a3.5 3.5 0 1 0 -7.0 0zM510.9 125.0a3.5 3.5 0 1 0 7.0 0a3.5 3.5 0 1 0 -7.0 0zM512.6 124.3a3.5 3.5 0 1 0 7.0 0a3.5 3.5 0 1 0 -7.0 0zM514.2 123.8a3.5 3.5 0 1 0 7.0 0a3.5 3.5 0 1 0 -7.0 0zM515.9 123.4a3.5 3.5 0 1 0 7.0 0a3.5 3.5 0 1 0 -7.0 0zM517.6 123.2a3.5 3.5 0 1 0 7.0 0a3.5 3.5 0 1 0 -7.0 0zM519.3 123.2a3.5 3.5 0 1 0 7.0 0a3.5 3.5 0 1 0 -7.0 0zM520.9 123.5a3.5 3.5 0 1 0 7.0 0a3.5 3.5 0 1 0 -7.0 0zM522.6 124.0a3.5 3.5 0 1 0 7.0 0a3.5 3.5 0 1 0 -7.0 0zM524.3 124.7a3.5 3.5 0 1 0 7.0 0a3.5 3.5 0 1 0 -7.0 0zM525.9 125.6a3.5 3.5 0 1 0 7.0 0a3.5 3.5 0 1 0 -7.0 0zM527.6 126.7a3.5 3.5 0 1 0 7.0 0a3.5 3.5 0 1 0 -7.0 0zM529.3 127.8a3.5 3.5 0 1 0 7.0 0a3.5 3.5 0 1 0 -7.0 0zM530.9 129.1a3.5 3.5 0 1 0 7.0 0a3.5 3.5 0 1 0 -7.0 0zM532.6 130.4a3.5 3.5 0 1 0 7.0 0a3.5 3.5 0 1 0 -7.0 0zM534.3 131.7a3.5 3.5 0 1 0 7.0 0a3.5 3.5 0 1 0 -7.0 0zM535.9 133.0a3.5 3.5 0 1 0 7.0 0a3.5 3.5 0 1 0 -7.0 0zM537.6 134.2a3.5 3.5 0 1 0 7.0 0a3.5 3.5 0 1 0 -7.0 0zM539.3 135.3a3.5 3.5 0 1 0 7.0 0a3.5 3.5 0 1 0 -7.0 0zM540.9 136.3a3.5 3.5 0 1 0 7.0 0a3.5 3.5 0 1 0 -7.0 0zM542.6 137.2a3.5 3.5 0 1 0 7.0 0a3.5 3.5 0 1 0 -7.0 0zM544.3 137.9a3.5 3.5 0 1 0 7.0 0a3.5 3.5 0 1 0 -7.0 0zM545.9 138.4a3.5 3.5 0 1 0 7.0 0a3.5 3.5 0 1 0 -7.0 0zM547.6 138.7a3.5 3.5 0 1 0 7.0 0a3.5 3.5 0 1 0 -7.0 0zM549.3 138.8a3.5 3.5 0 1 0 7.0 0a3.5 3.5 0 1 0 -7.0 0zM550.9 138.7a3.5 3.5 0 1 0 7.0 0a3.5 3.5 0 1 0 -7.0 0zM552.6 138.3a3.5 3.5 0 1 0 7.0 0a3.5 3.5 0 1 0 -7.0 0zM554.3 137.7a3.5 3.5 0 1 0 7.0 0a3.5 3.5 0 1 0 -7.0 0zM556.0 136.6a3.5 3.5 0 1 0 7.0 0a3.5 3.5 0 1 0 -7.0 0zM557.6 135.3a3.5 3.5 0 1 0 7.0 0a3.5 3.5 0 1 0 -7.0 0zM559.3 133.7a3.5 3.5 0 1 0 7.0 0a3.5 3.5 0 1 0 -7.0 0zM561.0 132.1a3.5 3.5 0 1 0 7.0 0a3.5 3.5 0 1 0 -7.0 0zM562.6 130.4a3.5 3.5 0 1 0 7.0 0a3.5 3.5 0 1 0 -7.0 0zM564.3 128.7a3.5 3.5 0 1 0 7.0 0a3.5 3.5 0 1 0 -7.0 0zM566.0 126.9a3.5 3.5 0 1 0 7.0 0a3.5 3.5 0 1 0 -7.0 0zM567.6 124.9a3.5 3.5 0 1 0 7.0 0a3.5 3.5 0 1 0 -7.0 0zM569.3 122.4a3.5 3.5 0 1 0 7.0 0a3.5 3.5 0 1 0 -7.0 0zM571.0 119.3a3.5 3.5 0 1 0 7.0 0a3.5 3.5 0 1 0 -7.0 0zM572.6 115.3a3.5 3.5 0 1 0 7.0 0a3.5 3.5 0 1 0 -7.0 0zM574.3 110.4a3.5 3.5 0 1 0 7.0 0a3.5 3.5 0 1 0 -7.0 0zM576.0 105.4a3.5 3.5 0 1 0 7.0 0a3.5 3.5 0 1 0 -7.0 0zM577.6 101.1a3.5 3.5 0 1 0 7.0 0a3.5 3.5 0 1 0 -7.0 0zM579.3 97.8a3.5 3.5 0 1 0 7.0 0a3.5 3.5 0 1 0 -7.0 0zM581.0 95.3a3.5 3.5 0 1 0 7.0 0a3.5 3.5 0 1 0 -7.0 0zM582.6 93.2a3.5 3.5 0 1 0 7.0 0a3.5 3.5 0 1 0 -7.0 0zM584.3 91.5a3.5 3.5 0 1 0 7.0 0a3.5 3.5 0 1 0 -7.0 0zM586.0 90.0a3.5 3.5 0 1 0 7.0 0a3.5 3.5 0 1 0 -7.0 0zM587.7 88.7a3.5 3.5 0 1 0 7.0 0a3.5 3.5 0 1 0 -7.0 0zM589.3 87.5a3.5 3.5 0 1 0 7.0 0a3.5 3.5 0 1 0 -7.0 0zM591.0 86.4a3.5 3.5 0 1 0 7.0 0a3.5 3.5 0 1 0 -7.0 0zM592.7 85.5a3.5 3.5 0 1 0 7.0 0a3.5 3.5 0 1 0 -7.0 0zM594.3 84.5a3.5 3.5 0 1 0 7.0 0a3.5 3.5 0 1 0 -7.0 0zM596.0 83.7a3.5 3.5 0 1 0 7.0 0a3.5 3.5 0 1 0 -7.0 0zM597.7 82.9a3.5 3.5 0 1 0 7.0 0a3.5 3.5 0 1 0 -7.0 0zM599.3 82.1a3.5 3.5 0 1 0 7.0 0a3.5 3.5 0 1 0 -7.0 0zM601.0 81.4a3.5 3.5 0 1 0 7.0 0a3.5 3.5 0 1 0 -7.0 0zM602.7 80.7a3.5 3.5 0 1 0 7.0 0a3.5 3.5 0 1 0 -7.0 0zM604.3 80.0a3.5 3.5 0 1 0 7.0 0a3.5 3.5 0 1 0 -7.0 0zM606.0 79.4a3.5 3.5 0 1 0 7.0 0a3.5 3.5 0 1 0 -7.0 0zM607.7 78.8a3.5 3.5 0 1 0 7.0 0a3.5 3.5 0 1 0 -7.0 0zM609.3 78.2a3.5 3.5 0 1 0 7.0 0a3.5 3.5 0 1 0 -7.0 0zM611.0 77.6a3.5 3.5 0 1 0 7.0 0a3.5 3.5 0 1 0 -7.0 0zM612.7 77.1a3.5 3.5 0 1 0 7.0 0a3.5 3.5 0 1 0 -7.0 0zM614.3 76.6a3.5 3.5 0 1 0 7.0 0a3.5 3.5 0 1 0 -7.0 0zM616.0 76.1a3.5 3.5 0 1 0 7.0 0a3.5 3.5 0 1 0 -7.0 0zM617.7 75.6a3.5 3.5 0 1 0 7.0 0a3.5 3.5 0 1 0 -7.0 0zM619.3 75.2a3.5 3.5 0 1 0 7.0 0a3.5 3.5 0 1 0 -7.0 0zM621.0 74.8a3.5 3.5 0 1 0 7.0 0a3.5 3.5 0 1 0 -7.0 0zM622.7 74.4a3.5 3.5 0 1 0 7.0 0a3.5 3.5 0 1 0 -7.0 0zM624.4 74.0a3.5 3.5 0 1 0 7.0 0a3.5 3.5 0 1 0 -7.0 0zM626.0 73.6a3.5 3.5 0 1 0 7.0 0a3.5 3.5 0 1 0 -7.0 0zM627.7 73.3a3.5 3.5 0 1 0 7.0 0a3.5 3.5 0 1 0 -7.0 0zM629.4 72.9a3.5 3.5 0 1 0 7.0 0a3.5 3.5 0 1 0 -7.0 0zM631.0 72.6a3.5 3.5 0 1 0 7.0 0a3.5 3.5 0 1 0 -7.0 0zM632.7 72.3a3.5 3.5 0 1 0 7.0 0a3.5 3.5 0 1 0 -7.0 0zM634.4 72.1a3.5 3.5 0 1 0 7.0 0a3.5 3.5 0 1 0 -7.0 0zM636.0 71.8a3.5 3.5 0 1 0 7.0 0a3.5 3.5 0 1 0 -7.0 0zM637.7 71.6a3.5 3.5 0 1 0 7.0 0a3.5 3.5 0 1 0 -7.0 0zM639.4 71.3a3.5 3.5 0 1 0 7.0 0a3.5 3.5 0 1 0 -7.0 0zM641.0 71.1a3.5 3.5 0 1 0 7.0 0a3.5 3.5 0 1 0 -7.0 0zM642.7 70.9a3.5 3.5 0 1 0 7.0 0a3.5 3.5 0 1 0 -7.0 0zM644.4 70.7a3.5 3.5 0 1 0 7.0 0a3.5 3.5 0 1 0 -7.0 0zM646.0 70.5a3.5 3.5 0 1 0 7.0 0a3.5 3.5 0 1 0 -7.0 0zM647.7 70.3a3.5 3.5 0 1 0 7.0 0a3.5 3.5 0 1 0 -7.0 0zM649.4 70.2a3.5 3.5 0 1 0 7.0 0a3.5 3.5 0 1 0 -7.0 0zM651.0 70.0a3.5 3.5 0 1 0 7.0 0a3.5 3.5 0 1 0 -7.0 0zM652.7 69.9a3.5 3.5 0 1 0 7.0 0a3.5 3.5 0 1 0 -7.0 0zM654.4 69.7a3.5 3.5 0 1 0 7.0 0a3.5 3.5 0 1 0 -7.0 0zM656.0 69.6a3.5 3.5 0 1 0 7.0 0a3.5 3.5 0 1 0 -7.0 0zM657.7 69.5a3.5 3.5 0 1 0 7.0 0a3.5 3.5 0 1 0 -7.0 0zM659.4 69.4a3.5 3.5 0 1 0 7.0 0a3.5 3.5 0 1 0 -7.0 0zM661.1 69.3a3.5 3.5 0 1 0 7.0 0a3.5 3.5 0 1 0 -7.0 0zM662.7 69.2a3.5 3.5 0 1 0 7.0 0a3.5 3.5 0 1 0 -7.0 0zM664.4 69.1a3.5 3.5 0 1 0 7.0 0a3.5 3.5 0 1 0 -7.0 0zM666.1 69.0a3.5 3.5 0 1 0 7.0 0a3.5 3.5 0 1 0 -7.0 0zM667.7 68.9a3.5 3.5 0 1 0 7.0 0a3.5 3.5 0 1 0 -7.0 0zM669.4 68.9a3.5 3.5 0 1 0 7.0 0a3.5 3.5 0 1 0 -7.0 0zM671.1 68.8a3.5 3.5 0 1 0 7.0 0a3.5 3.5 0 1 0 -7.0 0zM672.7 68.7a3.5 3.5 0 1 0 7.0 0a3.5 3.5 0 1 0 -7.0 0zM674.4 68.7a3.5 3.5 0 1 0 7.0 0a3.5 3.5 0 1 0 -7.0 0zM676.1 68.6a3.5 3.5 0 1 0 7.0 0a3.5 3.5 0 1 0 -7.0 0zM677.7 68.5a3.5 3.5 0 1 0 7.0 0a3.5 3.5 0 1 0 -7.0 0zM679.4 68.5a3.5 3.5 0 1 0 7.0 0a3.5 3.5 0 1 0 -7.0 0zM681.1 68.4a3.5 3.5 0 1 0 7.0 0a3.5 3.5 0 1 0 -7.0 0zM682.7 68.4a3.5 3.5 0 1 0 7.0 0a3.5 3.5 0 1 0 -7.0 0zM684.4 68.3a3.5 3.5 0 1 0 7.0 0a3.5 3.5 0 1 0 -7.0 0zM686.1 68.3a3.5 3.5 0 1 0 7.0 0a3.5 3.5 0 1 0 -7.0 0zM687.7 68.2a3.5 3.5 0 1 0 7.0 0a3.5 3.5 0 1 0 -7.0 0zM689.4 68.2a3.5 3.5 0 1 0 7.0 0a3.5 3.5 0 1 0 -7.0 0zM691.1 68.1a3.5 3.5 0 1 0 7.0 0a3.5 3.5 0 1 0 -7.0 0zM692.8 68.1a3.5 3.5 0 1 0 7.0 0a3.5 3.5 0 1 0 -7.0 0zM694.4 68.0a3.5 3.5 0 1 0 7.0 0a3.5 3.5 0 1 0 -7.0 0zM696.1 68.0a3.5 3.5 0 1 0 7.0 0a3.5 3.5 0 1 0 -7.0 0zM697.8 67.9a3.5 3.5 0 1 0 7.0 0a3.5 3.5 0 1 0 -7.0 0zM699.4 67.9a3.5 3.5 0 1 0 7.0 0a3.5 3.5 0 1 0 -7.0 0zM701.1 67.8a3.5 3.5 0 1 0 7.0 0a3.5 3.5 0 1 0 -7.0 0zM702.8 67.8a3.5 3.5 0 1 0 7.0 0a3.5 3.5 0 1 0 -7.0 0zM704.4 67.7a3.5 3.5 0 1 0 7.0 0a3.5 3.5 0 1 0 -7.0 0zM706.1 67.7a3.5 3.5 0 1 0 7.0 0a3.5 3.5 0 1 0 -7.0 0zM707.8 67.6a3.5 3.5 0 1 0 7.0 0a3.5 3.5 0 1 0 -7.0 0zM709.4 67.6a3.5 3.5 0 1 0 7.0 0a3.5 3.5 0 1 0 -7.0 0zM711.1 67.5a3.5 3.5 0 1 0 7.0 0a3.5 3.5 0 1 0 -7.0 0zM712.8 67.5a3.5 3.5 0 1 0 7.0 0a3.5 3.5 0 1 0 -7.0 0zM714.4 67.4a3.5 3.5 0 1 0 7.0 0a3.5 3.5 0 1 0 -7.0 0zM716.1 67.4a3.5 3.5 0 1 0 7.0 0a3.5 3.5 0 1 0 -7.0 0zM717.8 67.3a3.5 3.5 0 1 0 7.0 0a3.5 3.5 0 1 0 -7.0 0zM719.4 67.3a3.5 3.5 0 1 0 7.0 0a3.5 3.5 0 1 0 -7.0 0zM721.1 67.2a3.5 3.5 0 1 0 7.0 0a3.5 3.5 0 1 0 -7.0 0zM722.8 67.2a3.5 3.5 0 1 0 7.0 0a3.5 3.5 0 1 0 -7.0 0zM724.4 67.1a3.5 3.5 0 1 0 7.0 0a3.5 3.5 0 1 0 -7.0 0zM726.1 67.1a3.5 3.5 0 1 0 7.0 0a3.5 3.5 0 1 0 -7.0 0zM727.8 67.0a3.5 3.5 0 1 0 7.0 0a3.5 3.5 0 1 0 -7.0 0zM729.5 67.0a3.5 3.5 0 1 0 7.0 0a3.5 3.5 0 1 0 -7.0 0zM731.1 67.0a3.5 3.5 0 1 0 7.0 0a3.5 3.5 0 1 0 -7.0 0zM732.8 66.9a3.5 3.5 0 1 0 7.0 0a3.5 3.5 0 1 0 -7.0 0zM734.5 66.9a3.5 3.5 0 1 0 7.0 0a3.5 3.5 0 1 0 -7.0 0zM736.1 66.9a3.5 3.5 0 1 0 7.0 0a3.5 3.5 0 1 0 -7.0 0zM737.8 66.8a3.5 3.5 0 1 0 7.0 0a3.5 3.5 0 1 0 -7.0 0zM739.5 66.8a3.5 3.5 0 1 0 7.0 0a3.5 3.5 0 1 0 -7.0 0zM741.1 66.8a3.5 3.5 0 1 0 7.0 0a3.5 3.5 0 1 0 -7.0 0zM742.8 66.7a3.5 3.5 0 1 0 7.0 0a3.5 3.5 0 1 0 -7.0 0zM744.5 66.7a3.5 3.5 0 1 0 7.0 0a3.5 3.5 0 1 0 -7.0 0zM746.1 66.7a3.5 3.5 0 1 0 7.0 0a3.5 3.5 0 1 0 -7.0 0zM747.8 66.7a3.5 3.5 0 1 0 7.0 0a3.5 3.5 0 1 0 -7.0 0zM749.5 66.6a3.5 3.5 0 1 0 7.0 0a3.5 3.5 0 1 0 -7.0 0zM751.1 66.6a3.5 3.5 0 1 0 7.0 0a3.5 3.5 0 1 0 -7.0 0zM752.8 66.6a3.5 3.5 0 1 0 7.0 0a3.5 3.5 0 1 0 -7.0 0zM754.5 66.6a3.5 3.5 0 1 0 7.0 0a3.5 3.5 0 1 0 -7.0 0zM756.1 66.6a3.5 3.5 0 1 0 7.0 0a3.5 3.5 0 1 0 -7.0 0zM757.8 66.6a3.5 3.5 0 1 0 7.0 0a3.5 3.5 0 1 0 -7.0 0zM759.5 66.5a3.5 3.5 0 1 0 7.0 0a3.5 3.5 0 1 0 -7.0 0zM761.1 66.5a3.5 3.5 0 1 0 7.0 0a3.5 3.5 0 1 0 -7.0 0zM762.8 66.5a3.5 3.5 0 1 0 7.0 0a3.5 3.5 0 1 0 -7.0 0zM764.5 66.5a3.5 3.5 0 1 0 7.0 0a3.5 3.5 0 1 0 -7.0 0zM766.2 66.5a3.5 3.5 0 1 0 7.0 0a3.5 3.5 0 1 0 -7.0 0zM767.8 66.5a3.5 3.5 0 1 0 7.0 0a3.5 3.5 0 1 0 -7.0 0zM769.5 66.5a3.5 3.5 0 1 0 7.0 0a3.5 3.5 0 1 0 -7.0 0zM771.2 66.5a3.5 3.5 0 1 0 7.0 0a3.5 3.5 0 1 0 -7.0 0zM772.8 66.6a3.5 3.5 0 1 0 7.0 0a3.5 3.5 0 1 0 -7.0 0zM774.5 66.6a3.5 3.5 0 1 0 7.0 0a3.5 3.5 0 1 0 -7.0 0z"/><path fill="#0000ff" d="M137.4 407.1l4.2 7.2h-8.4zM139.1 412.3l4.2 7.2h-8.4zM140.7 417.5l4.2 7.2h-8.4zM142.4 422.6l4.2 7.2h-8.4zM144.1 427.7l4.2 7.2h-8.4zM145.7 432.6l4.2 7.2h-8.4zM147.4 437.4l4.2 7.2h-8.4zM149.1 442.1l4.2 7.2h-8.4zM150.7 446.6l4.2 7.2h-8.4zM152.4 450.9l4.2 7.2h-8.4zM154.1 455.0l4.2 7.2h-8.4zM155.7 458.9l4.2 7.2h-8.4zM157.4 462.7l4.2 7.2h-8.4zM159.1 466.3l4.2 7.2h-8.4zM160.7 469.6l4.2 7.2h-8.4zM162.4 472.6l4.2 7.2h-8.4zM164.1 475.2l4.2 7.2h-8.4zM165.7 477.4l4.2 7.2h-8.4zM167.4 479.2l4.2 7.2h-8.4zM169.1 480.5l4.2 7.2h-8.4zM170.8 481.2l4.2 7.2h-8.4zM172.4 481.3l4.2 7.2h-8.4zM174.1 480.9l4.2 7.2h-8.4zM175.8 479.9l4.2 7.2h-8.4zM177.4 478.6l4.2 7.2h-8.4zM179.1 476.9l4.2 7.2h-8.4zM180.8 474.7l4.2 7.2h-8.4zM182.4 471.9l4.2 7.2h-8.4zM184.1 468.3l4.2 7.2h-8.4zM185.8 464.0l4.2 7.2h-8.4zM187.4 459.4l4.2 7.2h-8.4zM189.1 454.7l4.2 7.2h-8.4zM190.8 449.8l4.2 7.2h-8.4zM192.4 444.8l4.2 7.2h-8.4zM194.1 439.6l4.2 7.2h-8.4zM195.8 434.3l4.2 7.2h-8.4zM197.4 428.9l4.2 7.2h-8.4zM199.1 423.4l4.2 7.2h-8.4zM200.8 417.7l4.2 7.2h-8.4zM202.4 412.0l4.2 7.2h-8.4zM204.1 406.2l4.2 7.2h-8.4zM205.8 400.4l4.2 7.2h-8.4zM207.5 394.5l4.2 7.2h-8.4zM209.1 388.7l4.2 7.2h-8.4zM210.8 382.8l4.2 7.2h-8.4zM212.5 377.1l4.2 7.2h-8.4zM214.1 371.4l4.2 7.2h-8.4zM215.8 365.8l4.2 7.2h-8.4zM217.5 360.3l4.2 7.2h-8.4zM219.1 354.9l4.2 7.2h-8.4zM220.8 349.6l4.2 7.2h-8.4zM222.5 344.4l4.2 7.2h-8.4zM224.1 339.3l4.2 7.2h-8.4zM225.8 334.3l4.2 7.2h-8.4zM227.5 329.4l4.2 7.2h-8.4zM229.1 324.6l4.2 7.2h-8.4zM230.8 319.9l4.2 7.2h-8.4zM232.5 315.3l4.2 7.2h-8.4zM234.1 310.7l4.2 7.2h-8.4zM235.8 306.3l4.2 7.2h-8.4zM237.5 302.0l4.2 7.2h-8.4zM239.2 297.7l4.2 7.2h-8.4zM240.8 293.5l4.2 7.2h-8.4zM242.5 289.4l4.2 7.2h-8.4zM244.2 285.4l4.2 7.2h-8.4zM245.8 281.5l4.2 7.2h-8.4zM247.5 277.6l4.2 7.2h-8.4zM249.2 273.8l4.2 7.2h-8.4zM250.8 270.1l4.2 7.2h-8.4zM252.5 266.5l4.2 7.2h-8.4zM254.2 263.1l4.2 7.2h-8.4zM255.8 259.7l4.2 7.2h-8.4zM257.5 256.4l4.2 7.2h-8.4zM259.2 253.2l4.2 7.2h-8.4zM260.8 250.1l4.2 7.2h-8.4zM262.5 247.2l4.2 7.2h-8.4zM264.2 244.3l4.2 7.2h-8.4zM265.8 241.5l4.2 7.2h-8.4zM267.5 238.8l4.2 7.2h-8.4zM269.2 236.2l4.2 7.2h-8.4zM270.8 233.7l4.2 7.2h-8.4zM272.5 231.3l4.2 7.2h-8.4zM274.2 229.0l4.2 7.2h-8.4zM275.9 226.8l4.2 7.2h-8.4zM277.5 224.6l4.2 7.2h-8.4zM279.2 222.5l4.2 7.2h-8.4zM280.9 220.5l4.2 7.2h-8.4zM282.5 218.5l4.2 7.2h-8.4zM284.2 216.7l4.2 7.2h-8.4zM285.9 214.9l4.2 7.2h-8.4zM287.5 213.1l4.2 7.2h-8.4zM289.2 211.4l4.2 7.2h-8.4zM290.9 209.8l4.2 7.2h-8.4zM292.5 208.2l4.2 7.2h-8.4zM294.2 206.7l4.2 7.2h-8.4zM295.9 205.2l4.2 7.2h-8.4zM297.5 203.8l4.2 7.2h-8.4zM299.2 202.4l4.2 7.2h-8.4zM300.9 201.0l4.2 7.2h-8.4zM302.5 199.7l4.2 7.2h-8.4zM304.2 198.4l4.2 7.2h-8.4zM305.9 197.1l4.2 7.2h-8.4zM307.5 195.9l4.2 7.2h-8.4zM309.2 194.7l4.2 7.2h-8.4zM310.9 193.5l4.2 7.2h-8.4zM312.6 192.4l4.2 7.2h-8.4zM314.2 191.2l4.2 7.2h-8.4zM315.9 190.1l4.2 7.2h-8.4zM317.6 189.0l4.2 7.2h-8.4zM319.2 188.0l4.2 7.2h-8.4zM320.9 186.9l4.2 7.2h-8.4zM322.6 185.9l4.2 7.2h-8.4zM324.2 184.9l4.2 7.2h-8.4zM325.9 183.9l4.2 7.2h-8.4zM327.6 182.9l4.2 7.2h-8.4zM329.2 181.9l4.2 7.2h-8.4zM330.9 180.9l4.2 7.2h-8.4zM332.6 180.0l4.2 7.2h-8.4zM334.2 179.1l4.2 7.2h-8.4zM335.9 178.1l4.2 7.2h-8.4zM337.6 177.2l4.2 7.2h-8.4zM339.2 176.3l4.2 7.2h-8.4zM340.9 175.4l4.2 7.2h-8.4zM342.6 174.6l4.2 7.2h-8.4zM344.3 173.7l4.2 7.2h-8.4zM345.9 172.8l4.2 7.2h-8.4zM347.6 172.0l4.2 7.2h-8.4zM349.3 171.1l4.2 7.2h-8.4zM350.9 170.2l4.2 7.2h-8.4zM352.6 169.4l4.2 7.2h-8.4zM354.3 168.6l4.2 7.2h-8.4zM355.9 167.7l4.2 7.2h-8.4zM357.6 166.9l4.2 7.2h-8.4zM359.3 166.1l4.2 7.2h-8.4zM360.9 165.3l4.2 7.2h-8.4zM362.6 164.5l4.2 7.2h-8.4zM364.3 163.7l4.2 7.2h-8.4zM365.9 162.9l4.2 7.2h-8.4zM367.6 162.1l4.2 7.2h-8.4zM369.3 161.4l4.2 7.2h-8.4zM370.9 160.7l4.2 7.2h-8.4zM372.6 160.0l4.2 7.2h-8.4zM374.3 159.3l4.2 7.2h-8.4zM375.9 158.6l4.2 7.2h-8.4zM377.6 157.9l4.2 7.2h-8.4zM379.3 157.3l4.2 7.2h-8.4zM381.0 156.7l4.2 7.2h-8.4zM382.6 156.2l4.2 7.2h-8.4zM384.3 155.6l4.2 7.2h-8.4zM386.0 155.1l4.2 7.2h-8.4zM387.6 154.6l4.2 7.2h-8.4zM389.3 154.2l4.2 7.2h-8.4zM391.0 153.7l4.2 7.2h-8.4zM392.6 153.3l4.2 7.2h-8.4zM394.3 153.0l4.2 7.2h-8.4zM396.0 152.6l4.2 7.2h-8.4zM397.6 152.3l4.2 7.2h-8.4zM399.3 152.1l4.2 7.2h-8.4zM401.0 151.8l4.2 7.2h-8.4zM402.6 151.7l4.2 7.2h-8.4zM404.3 151.5l4.2 7.2h-8.4zM406.0 151.4l4.2 7.2h-8.4zM407.6 151.3l4.2 7.2h-8.4zM409.3 151.3l4.2 7.2h-8.4zM411.0 151.3l4.2 7.2h-8.4zM412.6 151.3l4.2 7.2h-8.4zM414.3 151.4l4.2 7.2h-8.4zM416.0 151.6l4.2 7.2h-8.4zM417.7 151.8l4.2 7.2h-8.4zM419.3 152.1l4.2 7.2h-8.4zM421.0 152.5l4.2 7.2h-8.4zM422.7 152.9l4.2 7.2h-8.4zM424.3 153.4l4.2 7.2h-8.4zM426.0 154.0l4.2 7.2h-8.4zM427.7 154.7l4.2 7.2h-8.4zM429.3 155.5l4.2 7.2h-8.4zM431.0 156.3l4.2 7.2h-8.4zM432.7 157.3l4.2 7.2h-8.4zM434.3 158.4l4.2 7.2h-8.4zM436.0 159.5l4.2 7.2h-8.4zM437.7 160.8l4.2 7.2h-8.4zM439.3 162.1l4.2 7.2h-8.4zM441.0 163.6l4.2 7.2h-8.4zM442.7 165.1l4.2 7.2h-8.4zM444.3 166.7l4.2 7.2h-8.4zM446.0 168.3l4.2 7.2h-8.4zM447.7 170.1l4.2 7.2h-8.4zM449.3 171.9l4.2 7.2h-8.4zM451.0 173.8l4.2 7.2h-8.4zM452.7 175.7l4.2 7.2h-8.4zM454.4 177.6l4.2 7.2h-8.4zM456.0 179.6l4.2 7.2h-8.4zM457.7 181.6l4.2 7.2h-8.4zM459.4 183.6l4.2 7.2h-8.4zM461.0 185.6l4.2 7.2h-8.4zM462.7 187.5l4.2 7.2h-8.4zM464.4 189.4l4.2 7.2h-8.4zM466.0 191.3l4.2 7.2h-8.4zM467.7 193.2l4.2 7.2h-8.4zM469.4 195.2l4.2 7.2h-8.4zM471.0 197.3l4.2 7.2h-8.4zM472.7 199.6l4.2 7.2h-8.4zM474.4 201.7l4.2 7.2h-8.4zM476.0 203.2l4.2 7.2h-8.4zM477.7 203.8l4.2 7.2h-8.4zM479.4 203.1l4.2 7.2h-8.4zM481.0 201.6l4.2 7.2h-8.4zM482.7 199.6l4.2 7.2h-8.4zM484.4 197.6l4.2 7.2h-8.4zM486.1 195.8l4.2 7.2h-8.4zM487.7 194.1l4.2 7.2h-8.4zM489.4 192.5l4.2 7.2h-8.4zM491.1 190.9l4.2 7.2h-8.4zM492.7 189.4l4.2 7.2h-8.4zM494.4 188.0l4.2 7.2h-8.4zM496.1 186.5l4.2 7.2h-8.4zM497.7 185.0l4.2 7.2h-8.4zM499.4 183.5l4.2 7.2h-8.4zM501.1 181.9l4.2 7.2h-8.4zM502.7 180.3l4.2 7.2h-8.4zM504.4 178.5l4.2 7.2h-8.4zM506.1 176.5l4.2 7.2h-8.4zM507.7 174.4l4.2 7.2h-8.4zM509.4 172.1l4.2 7.2h-8.4zM511.1 169.7l4.2 7.2h-8.4zM512.7 167.5l4.2 7.2h-8.4zM514.4 165.5l4.2 7.2h-8.4zM516.1 163.8l4.2 7.2h-8.4zM517.7 162.5l4.2 7.2h-8.4zM519.4 161.6l4.2 7.2h-8.4zM521.1 161.1l4.2 7.2h-8.4zM522.8 160.9l4.2 7.2h-8.4zM524.4 161.1l4.2 7.2h-8.4zM526.1 161.5l4.2 7.2h-8.4zM527.8 162.2l4.2 7.2h-8.4zM529.4 163.0l4.2 7.2h-8.4zM531.1 164.2l4.2 7.2h-8.4zM532.8 165.5l4.2 7.2h-8.4zM534.4 167.1l4.2 7.2h-8.4zM536.1 169.1l4.2 7.2h-8.4zM537.8 171.7l4.2 7.2h-8.4zM539.4 175.1l4.2 7.2h-8.4zM541.1 178.4l4.2 7.2h-8.4zM542.8 180.7l4.2 7.2h-8.4zM544.4 182.1l4.2 7.2h-8.4zM546.1 183.0l4.2 7.2h-8.4zM547.8 183.7l4.2 7.2h-8.4zM549.4 184.2l4.2 7.2h-8.4zM551.1 184.5l4.2 7.2h-8.4zM552.8 184.7l4.2 7.2h-8.4zM554.4 184.7l4.2 7.2h-8.4zM556.1 184.5l4.2 7.2h-8.4zM557.8 184.2l4.2 7.2h-8.4zM559.5 183.6l4.2 7.2h-8.4zM561.1 182.9l4.2 7.2h-8.4zM562.8 181.9l4.2 7.2h-8.4zM564.5 180.5l4.2 7.2h-8.4zM566.1 178.9l4.2 7.2h-8.4zM567.8 176.9l4.2 7.2h-8.4zM569.5 174.4l4.2 7.2h-8.4zM571.1 171.4l4.2 7.2h-8.4zM572.8 167.8l4.2 7.2h-8.4zM574.5 163.4l4.2 7.2h-8.4zM576.1 158.0l4.2 7.2h-8.4zM577.8 151.6l4.2 7.2h-8.4zM579.5 144.4l4.2 7.2h-8.4zM581.1 137.6l4.2 7.2h-8.4zM582.8 132.0l4.2 7.2h-8.4zM584.5 127.4l4.2 7.2h-8.4zM586.1 123.7l4.2 7.2h-8.4zM587.8 120.4l4.2 7.2h-8.4zM589.5 117.5l4.2 7.2h-8.4zM591.2 114.9l4.2 7.2h-8.4zM592.8 112.6l4.2 7.2h-8.4zM594.5 110.4l4.2 7.2h-8.4zM596.2 108.3l4.2 7.2h-8.4zM597.8 106.5l4.2 7.2h-8.4zM599.5 104.7l4.2 7.2h-8.4zM601.2 103.1l4.2 7.2h-8.4zM602.8 101.6l4.2 7.2h-8.4zM604.5 100.2l4.2 7.2h-8.4zM606.2 98.9l4.2 7.2h-8.4zM607.8 97.7l4.2 7.2h-8.4zM609.5 96.5l4.2 7.2h-8.4zM611.2 95.4l4.2 7.2h-8.4zM612.8 94.4l4.2 7.2h-8.4zM614.5 93.5l4.2 7.2h-8.4zM616.2 92.6l4.2 7.2h-8.4zM617.8 91.8l4.2 7.2h-8.4zM619.5 91.0l4.2 7.2h-8.4zM621.2 90.2l4.2 7.2h-8.4zM622.8 89.5l4.2 7.2h-8.4zM624.5 88.8l4.2 7.2h-8.4zM626.2 88.2l4.2 7.2h-8.4zM627.9 87.6l4.2 7.2h-8.4zM629.5 87.0l4.2 7.2h-8.4zM631.2 86.4l4.2 7.2h-8.4zM632.9 85.9l4.2 7.2h-8.4zM634.5 85.3l4.2 7.2h-8.4zM636.2 84.8l4.2 7.2h-8.4zM637.9 84.4l4.2 7.2h-8.4zM639.5 83.9l4.2 7.2h-8.4zM641.2 83.5l4.2 7.2h-8.4zM642.9 83.0l4.2 7.2h-8.4zM644.5 82.6l4.2 7.2h-8.4zM646.2 82.2l4.2 7.2h-8.4zM647.9 81.8l4.2 7.2h-8.4zM649.5 81.5l4.2 7.2h-8.4zM651.2 81.1l4.2 7.2h-8.4zM652.9 80.8l4.2 7.2h-8.4zM654.5 80.4l4.2 7.2h-8.4zM656.2 80.1l4.2 7.2h-8.4zM657.9 79.8l4.2 7.2h-8.4zM659.5 79.5l4.2 7.2h-8.4zM661.2 79.3l4.2 7.2h-8.4zM662.9 79.0l4.2 7.2h-8.4zM664.6 78.7l4.2 7.2h-8.4zM666.2 78.5l4.2 7.2h-8.4zM667.9 78.3l4.2 7.2h-8.4zM669.6 78.0l4.2 7.2h-8.4zM671.2 77.8l4.2 7.2h-8.4zM672.9 77.6l4.2 7.2h-8.4zM674.6 77.4l4.2 7.2h-8.4zM676.2 77.2l4.2 7.2h-8.4zM677.9 77.0l4.2 7.2h-8.4zM679.6 76.9l4.2 7.2h-8.4zM681.2 76.7l4.2 7.2h-8.4zM682.9 76.5l4.2 7.2h-8.4zM684.6 76.4l4.2 7.2h-8.4zM686.2 76.2l4.2 7.2h-8.4zM687.9 76.1l4.2 7.2h-8.4zM689.6 76.0l4.2 7.2h-8.4zM691.2 75.8l4.2 7.2h-8.4zM692.9 75.7l4.2 7.2h-8.4zM694.6 75.6l4.2 7.2h-8.4zM696.3 75.5l4.2 7.2h-8.4zM697.9 75.4l4.2 7.2h-8.4zM699.6 75.3l4.2 7.2h-8.4zM701.3 75.2l4.2 7.2h-8.4zM702.9 75.1l4.2 7.2h-8.4zM704.6 75.0l4.2 7.2h-8.4zM706.3 74.9l4.2 7.2h-8.4zM707.9 74.8l4.2 7.2h-8.4zM709.6 74.8l4.2 7.2h-8.4zM711.3 74.7l4.2 7.2h-8.4zM712.9 74.6l4.2 7.2h-8.4zM714.6 74.5l4.2 7.2h-8.4zM716.3 74.5l4.2 7.2h-8.4zM717.9 74.4l4.2 7.2h-8.4zM719.6 74.3l4.2 7.2h-8.4zM721.3 74.2l4.2 7.2h-8.4zM722.9 74.2l4.2 7.2h-8.4zM724.6 74.1l4.2 7.2h-8.4zM726.3 74.0l4.2 7.2h-8.4zM727.9 73.9l4.2 7.2h-8.4zM729.6 73.9l4.2 7.2h-8.4zM731.3 73.8l4.2 7.2h-8.4zM733.0 73.7l4.2 7.2h-8.4zM734.6 73.6l4.2 7.2h-8.4zM736.3 73.5l4.2 7.2h-8.4zM738.0 73.5l4.2 7.2h-8.4zM739.6 73.4l4.2 7.2h-8.4zM741.3 73.3l4.2 7.2h-8.4zM743.0 73.2l4.2 7.2h-8.4zM744.6 73.1l4.2 7.2h-8.4zM746.3 73.1l4.2 7.2h-8.4zM748.0 73.0l4.2 7.2h-8.4zM749.6 72.9l4.2 7.2h-8.4zM751.3 72.8l4.2 7.2h-8.4zM753.0 72.8l4.2 7.2h-8.4zM754.6 72.7l4.2 7.2h-8.4zM756.3 72.6l4.2 7.2h-8.4zM758.0 72.5l4.2 7.2h-8.4zM759.6 72.5l4.2 7.2h-8.4zM761.3 72.4l4.2 7.2h-8.4zM763.0 72.4l4.2 7.2h-8.4zM764.6 72.3l4.2 7.2h-8.4zM766.3 72.2l4.2 7.2h-8.4zM768.0 72.2l4.2 7.2h-8.4zM769.7 72.2l4.2 7.2h-8.4zM771.3 72.1l4.2 7.2h-8.4zM773.0 72.1l4.2 7.2h-8.4zM774.7 72.0l4.2 7.2h-8.4zM776.3 72.0l4.2 7.2h-8.4zM778.0 72.0l4.2 7.2h-8.4z"/><path fill="#008080" d="M137.4 398.8l4.2 -7.2h-8.4zM139.1 401.8l4.2 -7.2h-8.4zM140.7 404.8l4.2 -7.2h-8.4zM142.4 407.7l4.2 -7.2h-8.4zM144.1 410.6l4.2 -7.2h-8.4zM145.7 413.5l4.2 -7.2h-8.4zM147.4 416.4l4.2 -7.2h-8.4zM149.1 419.3l4.2 -7.2h-8.4zM150.7 422.2l4.2 -7.2h-8.4zM152.4 425.2l4.2 -7.2h-8.4zM154.1 428.3l4.2 -7.2h-8.4zM155.7 431.4l4.2 -7.2h-8.4zM157.4 434.6l4.2 -7.2h-8.4zM159.1 437.8l4.2 -7.2h-8.4zM160.7 440.7l4.2 -7.2h-8.4zM162.4 443.1l4.2 -7.2h-8.4zM164.1 444.8l4.2 -7.2h-8.4zM165.7 445.9l4.2 -7.2h-8.4zM167.4 446.3l4.2 -7.2h-8.4zM169.1 445.9l4.2 -7.2h-8.4zM170.8 444.7l4.2 -7.2h-8.4zM172.4 443.0l4.2 -7.2h-8.4zM174.1 441.0l4.2 -7.2h-8.4zM175.8 438.6l4.2 -7.2h-8.4zM177.4 435.9l4.2 -7.2h-8.4zM179.1 433.0l4.2 -7.2h-8.4zM180.8 429.8l4.2 -7.2h-8.4zM182.4 426.2l4.2 -7.2h-8.4zM184.1 422.3l4.2 -7.2h-8.4zM185.8 417.9l4.2 -7.2h-8.4zM187.4 413.0l4.2 -7.2h-8.4zM189.1 407.5l4.2 -7.2h-8.4zM190.8 401.6l4.2 -7.2h-8.4zM192.4 395.3l4.2 -7.2h-8.4zM194.1 389.0l4.2 -7.2h-8.4zM195.8 382.9l4.2 -7.2h-8.4zM197.4 376.8l4.2 -7.2h-8.4zM199.1 370.8l4.2 -7.2h-8.4zM200.8 364.9l4.2 -7.2h-8.4zM202.4 359.2l4.2 -7.2h-8.4zM204.1 353.5l4.2 -7.2h-8.4zM205.8 348.0l4.2 -7.2h-8.4zM207.5 342.6l4.2 -7.2h-8.4zM209.1 337.3l4.2 -7.2h-8.4zM210.8 332.1l4.2 -7.2h-8.4zM212.5 327.0l4.2 -7.2h-8.4zM214.1 322.1l4.2 -7.2h-8.4zM215.8 317.3l4.2 -7.2h-8.4zM217.5 312.5l4.2 -7.2h-8.4zM219.1 307.9l4.2 -7.2h-8.4zM220.8 303.4l4.2 -7.2h-8.4zM222.5 299.0l4.2 -7.2h-8.4zM224.1 294.7l4.2 -7.2h-8.4zM225.8 290.5l4.2 -7.2h-8.4zM227.5 286.4l4.2 -7.2h-8.4zM229.1 282.4l4.2 -7.2h-8.4zM230.8 278.5l4.2 -7.2h-8.4zM232.5 274.7l4.2 -7.2h-8.4zM234.1 271.0l4.2 -7.2h-8.4zM235.8 267.5l4.2 -7.2h-8.4zM237.5 264.0l4.2 -7.2h-8.4zM239.2 260.7l4.2 -7.2h-8.4zM240.8 257.5l4.2 -7.2h-8.4zM242.5 254.4l4.2 -7.2h-8.4zM244.2 251.5l4.2 -7.2h-8.4zM245.8 248.7l4.2 -7.2h-8.4zM247.5 245.9l4.2 -7.2h-8.4zM249.2 243.3l4.2 -7.2h-8.4zM250.8 240.8l4.2 -7.2h-8.4zM252.5 238.3l4.2 -7.2h-8.4zM254.2 235.9l4.2 -7.2h-8.4zM255.8 233.4l4.2 -7.2h-8.4zM257.5 231.0l4.2 -7.2h-8.4zM259.2 228.5l4.2 -7.2h-8.4zM260.8 226.0l4.2 -7.2h-8.4zM262.5 223.5l4.2 -7.2h-8.4zM264.2 221.0l4.2 -7.2h-8.4zM265.8 218.5l4.2 -7.2h-8.4zM267.5 216.1l4.2 -7.2h-8.4zM269.2 213.7l4.2 -7.2h-8.4zM270.8 211.3l4.2 -7.2h-8.4zM272.5 209.1l4.2 -7.2h-8.4zM274.2 207.0l4.2 -7.2h-8.4zM275.9 205.0l4.2 -7.2h-8.4zM277.5 203.0l4.2 -7.2h-8.4zM279.2 201.2l4.2 -7.2h-8.4zM280.9 199.5l4.2 -7.2h-8.4zM282.5 197.8l4.2 -7.2h-8.4zM284.2 196.2l4.2 -7.2h-8.4zM285.9 194.7l4.2 -7.2h-8.4zM287.5 193.2l4.2 -7.2h-8.4zM289.2 191.8l4.2 -7.2h-8.4zM290.9 190.5l4.2 -7.2h-8.4zM292.5 189.2l4.2 -7.2h-8.4zM294.2 187.9l4.2 -7.2h-8.4zM295.9 186.7l4.2 -7.2h-8.4zM297.5 185.5l4.2 -7.2h-8.4zM299.2 184.4l4.2 -7.2h-8.4zM300.9 183.3l4.2 -7.2h-8.4zM302.5 182.2l4.2 -7.2h-8.4zM304.2 181.2l4.2 -7.2h-8.4zM305.9 180.1l4.2 -7.2h-8.4zM307.5 179.2l4.2 -7.2h-8.4zM309.2 178.2l4.2 -7.2h-8.4zM310.9 177.3l4.2 -7.2h-8.4zM312.6 176.3l4.2 -7.2h-8.4zM314.2 175.4l4.2 -7.2h-8.4zM315.9 174.6l4.2 -7.2h-8.4zM317.6 173.7l4.2 -7.2h-8.4zM319.2 172.9l4.2 -7.2h-8.4zM320.9 172.1l4.2 -7.2h-8.4zM322.6 171.3l4.2 -7.2h-8.4zM324.2 170.5l4.2 -7.2h-8.4zM325.9 169.7l4.2 -7.2h-8.4zM327.6 168.9l4.2 -7.2h-8.4zM329.2 168.2l4.2 -7.2h-8.4zM330.9 167.5l4.2 -7.2h-8.4zM332.6 166.7l4.2 -7.2h-8.4zM334.2 166.0l4.2 -7.2h-8.4zM335.9 165.3l4.2 -7.2h-8.4zM337.6 164.6l4.2 -7.2h-8.4zM339.2 164.0l4.2 -7.2h-8.4zM340.9 163.3l4.2 -7.2h-8.4zM342.6 162.6l4.2 -7.2h-8.4zM344.3 162.0l4.2 -7.2h-8.4zM345.9 161.4l4.2 -7.2h-8.4zM347.6 160.7l4.2 -7.2h-8.4zM349.3 160.1l4.2 -7.2h-8.4zM350.9 159.5l4.2 -7.2h-8.4zM352.6 158.9l4.2 -7.2h-8.4zM354.3 158.4l4.2 -7.2h-8.4zM355.9 157.8l4.2 -7.2h-8.4zM357.6 157.3l4.2 -7.2h-8.4zM359.3 156.7l4.2 -7.2h-8.4zM360.9 156.2l4.2 -7.2h-8.4zM362.6 155.7l4.2 -7.2h-8.4zM364.3 155.2l4.2 -7.2h-8.4zM365.9 154.7l4.2 -7.2h-8.4zM367.6 154.3l4.2 -7.2h-8.4zM369.3 153.8l4.2 -7.2h-8.4zM370.9 153.4l4.2 -7.2h-8.4zM372.6 153.0l4.2 -7.2h-8.4zM374.3 152.6l4.2 -7.2h-8.4zM375.9 152.2l4.2 -7.2h-8.4zM377.6 151.9l4.2 -7.2h-8.4zM379.3 151.5l4.2 -7.2h-8.4zM381.0 151.2l4.2 -7.2h-8.4zM382.6 150.9l4.2 -7.2h-8.4zM384.3 150.6l4.2 -7.2h-8.4zM386.0 150.3l4.2 -7.2h-8.4zM387.6 150.0l4.2 -7.2h-8.4zM389.3 149.8l4.2 -7.2h-8.4zM391.0 149.5l4.2 -7.2h-8.4zM392.6 149.3l4.2 -7.2h-8.4zM394.3 149.1l4.2 -7.2h-8.4zM396.0 149.0l4.2 -7.2h-8.4zM397.6 148.8l4.2 -7.2h-8.4zM399.3 148.7l4.2 -7.2h-8.4zM401.0 148.6l4.2 -7.2h-8.4zM402.6 148.5l4.2 -7.2h-8.4zM404.3 148.4l4.2 -7.2h-8.4zM406.0 148.3l4.2 -7.2h-8.4zM407.6 148.3l4.2 -7.2h-8.4zM409.3 148.2l4.2 -7.2h-8.4zM411.0 148.2l4.2 -7.2h-8.4zM412.6 148.2l4.2 -7.2h-8.4zM414.3 148.3l4.2 -7.2h-8.4zM416.0 148.3l4.2 -7.2h-8.4zM417.7 148.4l4.2 -7.2h-8.4zM419.3 148.5l4.2 -7.2h-8.4zM421.0 148.7l4.2 -7.2h-8.4zM422.7 148.9l4.2 -7.2h-8.4zM424.3 149.2l4.2 -7.2h-8.4zM426.0 149.5l4.2 -7.2h-8.4zM427.7 149.8l4.2 -7.2h-8.4zM429.3 150.3l4.2 -7.2h-8.4zM431.0 150.8l4.2 -7.2h-8.4zM432.7 151.4l4.2 -7.2h-8.4zM434.3 152.1l4.2 -7.2h-8.4zM436.0 153.0l4.2 -7.2h-8.4zM437.7 154.0l4.2 -7.2h-8.4zM439.3 155.1l4.2 -7.2h-8.4zM441.0 156.5l4.2 -7.2h-8.4zM442.7 158.2l4.2 -7.2h-8.4zM444.3 160.0l4.2 -7.2h-8.4zM446.0 162.0l4.2 -7.2h-8.4zM447.7 164.0l4.2 -7.2h-8.4zM449.3 166.2l4.2 -7.2h-8.4zM451.0 168.2l4.2 -7.2h-8.4zM452.7 170.2l4.2 -7.2h-8.4zM454.4 172.1l4.2 -7.2h-8.4zM456.0 174.1l4.2 -7.2h-8.4zM457.7 176.0l4.2 -7.2h-8.4zM459.4 178.0l4.2 -7.2h-8.4zM461.0 180.0l4.2 -7.2h-8.4zM462.7 182.2l4.2 -7.2h-8.4zM464.4 184.4l4.2 -7.2h-8.4zM466.0 186.6l4.2 -7.2h-8.4zM467.7 188.6l4.2 -7.2h-8.4zM469.4 190.5l4.2 -7.2h-8.4zM471.0 192.1l4.2 -7.2h-8.4zM472.7 193.3l4.2 -7.2h-8.4zM474.4 194.0l4.2 -7.2h-8.4zM476.0 194.1l4.2 -7.2h-8.4zM477.7 193.6l4.2 -7.2h-8.4zM479.4 192.3l4.2 -7.2h-8.4zM481.0 190.6l4.2 -7.2h-8.4zM482.7 188.7l4.2 -7.2h-8.4zM484.4 186.8l4.2 -7.2h-8.4zM486.1 185.0l4.2 -7.2h-8.4zM487.7 183.4l4.2 -7.2h-8.4zM489.4 181.9l4.2 -7.2h-8.4zM491.1 180.3l4.2 -7.2h-8.4zM492.7 178.6l4.2 -7.2h-8.4zM494.4 176.8l4.2 -7.2h-8.4zM496.1 175.0l4.2 -7.2h-8.4zM497.7 173.0l4.2 -7.2h-8.4zM499.4 171.1l4.2 -7.2h-8.4zM501.1 169.1l4.2 -7.2h-8.4zM502.7 167.2l4.2 -7.2h-8.4zM504.4 165.3l4.2 -7.2h-8.4zM506.1 163.5l4.2 -7.2h-8.4zM507.7 161.9l4.2 -7.2h-8.4zM509.4 160.3l4.2 -7.2h-8.4zM511.1 158.9l4.2 -7.2h-8.4zM512.7 157.7l4.2 -7.2h-8.4zM514.4 156.6l4.2 -7.2h-8.4zM516.1 155.6l4.2 -7.2h-8.4zM517.7 154.8l4.2 -7.2h-8.4zM519.4 154.1l4.2 -7.2h-8.4zM521.1 153.6l4.2 -7.2h-8.4zM522.8 153.2l4.2 -7.2h-8.4zM524.4 153.0l4.2 -7.2h-8.4zM526.1 152.9l4.2 -7.2h-8.4zM527.8 153.0l4.2 -7.2h-8.4zM529.4 153.3l4.2 -7.2h-8.4zM531.1 153.9l4.2 -7.2h-8.4zM532.8 154.8l4.2 -7.2h-8.4zM534.4 156.2l4.2 -7.2h-8.4zM536.1 157.9l4.2 -7.2h-8.4zM537.8 160.0l4.2 -7.2h-8.4zM539.4 162.2l4.2 -7.2h-8.4zM541.1 164.3l4.2 -7.2h-8.4zM542.8 166.2l4.2 -7.2h-8.4zM544.4 167.7l4.2 -7.2h-8.4zM546.1 168.9l4.2 -7.2h-8.4zM547.8 169.7l4.2 -7.2h-8.4zM549.4 170.2l4.2 -7.2h-8.4zM551.1 170.5l4.2 -7.2h-8.4zM552.8 170.6l4.2 -7.2h-8.4zM554.4 170.5l4.2 -7.2h-8.4zM556.1 170.2l4.2 -7.2h-8.4zM557.8 169.7l4.2 -7.2h-8.4zM559.5 168.9l4.2 -7.2h-8.4zM561.1 167.8l4.2 -7.2h-8.4zM562.8 166.3l4.2 -7.2h-8.4zM564.5 164.2l4.2 -7.2h-8.4zM566.1 161.6l4.2 -7.2h-8.4zM567.8 158.4l4.2 -7.2h-8.4zM569.5 155.0l4.2 -7.2h-8.4zM571.1 151.4l4.2 -7.2h-8.4zM572.8 147.6l4.2 -7.2h-8.4zM574.5 143.6l4.2 -7.2h-8.4zM576.1 139.1l4.2 -7.2h-8.4zM577.8 134.0l4.2 -7.2h-8.4zM579.5 128.1l4.2 -7.2h-8.4zM581.1 121.6l4.2 -7.2h-8.4zM582.8 115.7l4.2 -7.2h-8.4zM584.5 110.9l4.2 -7.2h-8.4zM586.1 107.2l4.2 -7.2h-8.4zM587.8 104.3l4.2 -7.2h-8.4zM589.5 102.0l4.2 -7.2h-8.4zM591.2 100.0l4.2 -7.2h-8.4zM592.8 98.3l4.2 -7.2h-8.4zM594.5 96.9l4.2 -7.2h-8.4zM596.2 95.5l4.2 -7.2h-8.4zM597.8 94.3l4.2 -7.2h-8.4zM599.5 93.2l4.2 -7.2h-8.4zM601.2 92.2l4.2 -7.2h-8.4zM602.8 91.3l4.2 -7.2h-8.4zM604.5 90.4l4.2 -7.2h-8.4zM606.2 89.6l4.2 -7.2h-8.4zM607.8 88.9l4.2 -7.2h-8.4zM609.5 88.2l4.2 -7.2h-8.4zM611.2 87.5l4.2 -7.2h-8.4zM612.8 86.9l4.2 -7.2h-8.4zM614.5 86.3l4.2 -7.2h-8.4zM616.2 85.7l4.2 -7.2h-8.4zM617.8 85.1l4.2 -7.2h-8.4zM619.5 84.6l4.2 -7.2h-8.4zM621.2 84.2l4.2 -7.2h-8.4zM622.8 83.7l4.2 -7.2h-8.4zM624.5 83.3l4.2 -7.2h-8.4zM626.2 82.9l4.2 -7.2h-8.4zM627.9 82.5l4.2 -7.2h-8.4zM629.5 82.1l4.2 -7.2h-8.4zM631.2 81.8l4.2 -7.2h-8.4zM632.9 81.5l4.2 -7.2h-8.4zM634.5 81.2l4.2 -7.2h-8.4zM636.2 80.9l4.2 -7.2h-8.4zM637.9 80.7l4.2 -7.2h-8.4zM639.5 80.4l4.2 -7.2h-8.4zM641.2 80.2l4.2 -7.2h-8.4zM642.9 80.0l4.2 -7.2h-8.4zM644.5 79.8l4.2 -7.2h-8.4zM646.2 79.6l4.2 -7.2h-8.4zM647.9 79.5l4.2 -7.2h-8.4zM649.5 79.3l4.2 -7.2h-8.4zM651.2 79.2l4.2 -7.2h-8.4zM652.9 79.0l4.2 -7.2h-8.4zM654.5 78.9l4.2 -7.2h-8.4zM656.2 78.8l4.2 -7.2h-8.4zM657.9 78.7l4.2 -7.2h-8.4zM659.5 78.6l4.2 -7.2h-8.4zM661.2 78.5l4.2 -7.2h-8.4zM662.9 78.4l4.2 -7.2h-8.4zM664.6 78.3l4.2 -7.2h-8.4zM666.2 78.3l4.2 -7.2h-8.4zM667.9 78.2l4.2 -7.2h-8.4zM669.6 78.1l4.2 -7.2h-8.4zM671.2 78.1l4.2 -7.2h-8.4zM672.9 78.0l4.2 -7.2h-8.4zM674.6 78.0l4.2 -7.2h-8.4zM676.2 77.9l4.2 -7.2h-8.4zM677.9 77.9l4.2 -7.2h-8.4zM679.6 77.8l4.2 -7.2h-8.4zM681.2 77.8l4.2 -7.2h-8.4zM682.9 77.7l4.2 -7.2h-8.4zM684.6 77.7l4.2 -7.2h-8.4zM686.2 77.6l4.2 -7.2h-8.4zM687.9 77.5l4.2 -7.2h-8.4zM689.6 77.5l4.2 -7.2h-8.4zM691.2 77.4l4.2 -7.2h-8.4zM692.9 77.4l4.2 -7.2h-8.4zM694.6 77.3l4.2 -7.2h-8.4zM696.3 77.3l4.2 -7.2h-8.4zM697.9 77.2l4.2 -7.2h-8.4zM699.6 77.2l4.2 -7.2h-8.4zM701.3 77.1l4.2 -7.2h-8.4zM702.9 77.1l4.2 -7.2h-8.4zM704.6 77.0l4.2 -7.2h-8.4zM706.3 77.0l4.2 -7.2h-8.4zM707.9 76.9l4.2 -7.2h-8.4zM709.6 76.9l4.2 -7.2h-8.4zM711.3 76.8l4.2 -7.2h-8.4zM712.9 76.8l4.2 -7.2h-8.4zM714.6 76.8l4.2 -7.2h-8.4zM716.3 76.7l4.2 -7.2h-8.4zM717.9 76.7l4.2 -7.2h-8.4zM719.6 76.6l4.2 -7.2h-8.4zM721.3 76.6l4.2 -7.2h-8.4zM722.9 76.6l4.2 -7.2h-8.4zM724.6 76.5l4.2 -7.2h-8.4zM726.3 76.5l4.2 -7.2h-8.4zM727.9 76.4l4.2 -7.2h-8.4zM729.6 76.4l4.2 -7.2h-8.4zM731.3 76.4l4.2 -7.2h-8.4zM733.0 76.3l4.2 -7.2h-8.4zM734.6 76.3l4.2 -7.2h-8.4zM736.3 76.3l4.2 -7.2h-8.4zM738.0 76.3l4.2 -7.2h-8.4zM739.6 76.2l4.2 -7.2h-8.4zM741.3 76.2l4.2 -7.2h-8.4zM743.0 76.2l4.2 -7.2h-8.4zM744.6 76.2l4.2 -7.2h-8.4zM746.3 76.1l4.2 -7.2h-8.4zM748.0 76.1l4.2 -7.2h-8.4zM749.6 76.1l4.2 -7.2h-8.4zM751.3 76.1l4.2 -7.2h-8.4zM753.0 76.1l4.2 -7.2h-8.4zM754.6 76.1l4.2 -7.2h-8.4zM756.3 76.0l4.2 -7.2h-8.4zM758.0 76.0l4.2 -7.2h-8.4zM759.6 76.0l4.2 -7.2h-8.4zM761.3 76.0l4.2 -7.2h-8.4zM763.0 76.0l4.2 -7.2h-8.4zM764.6 76.0l4.2 -7.2h-8.4zM766.3 76.0l4.2 -7.2h-8.4zM768.0 76.0l4.2 -7.2h-8.4zM769.7 76.0l4.2 -7.2h-8.4zM771.3 76.0l4.2 -7.2h-8.4zM773.0 76.0l4.2 -7.2h-8.4zM774.7 76.1l4.2 -7.2h-8.4zM776.3 76.1l4.2 -7.2h-8.4zM778.0 76.1l4.2 -7.2h-8.4z"/></g>
<g clip-path="url(#cb)"><path fill="#000000" d="M973.0 405.9h6.2v6.2h-6.2zM974.7 401.5h6.2v6.2h-6.2zM976.3 397.6h6.2v6.2h-6.2zM978.0 394.1h6.2v6.2h-6.2zM979.7 390.8h6.2v6.2h-6.2zM981.3 387.5h6.2v6.2h-6.2zM983.0 384.4h6.2v6.2h-6.2zM984.7 381.2h6.2v6.2h-6.2zM986.3 377.9h6.2v6.2h-6.2zM988.0 374.4h6.2v6.2h-6.2zM989.7 370.6h6.2v6.2h-6.2zM991.3 366.3h6.2v6.2h-6.2zM993.0 361.4h6.2v6.2h-6.2zM994.7 356.6h6.2v6.2h-6.2zM996.3 352.5h6.2v6.2h-6.2zM998.0 349.3h6.2v6.2h-6.2zM999.7 346.8h6.2v6.2h-6.2zM1001.4 344.9h6.2v6.2h-6.2zM1003.0 343.3h6.2v6.2h-6.2zM1004.7 342.0h6.2v6.2h-6.2zM1006.4 340.9h6.2v6.2h-6.2zM1008.0 340.1h6.2v6.2h-6.2zM1009.7 339.4h6.2v6.2h-6.2zM1011.4 339.0h6.2v6.2h-6.2zM1013.0 338.9h6.2v6.2h-6.2zM1014.7 339.1h6.2v6.2h-6.2zM1016.4 339.6h6.2v6.2h-6.2zM1018.0 340.4h6.2v6.2h-6.2zM1019.7 341.6h6.2v6.2h-6.2zM1021.4 343.2h6.2v6.2h-6.2zM1023.0 345.0h6.2v6.2h-6.2zM1024.7 347.1h6.2v6.2h-6.2zM1026.4 349.4h6.2v6.2h-6.2zM1028.1 351.8h6.2v6.2h-6.2zM1029.7 354.3h6.2v6.2h-6.2zM1031.4 356.9h6.2v6.2h-6.2zM1033.1 359.6h6.2v6.2h-6.2zM1034.7 362.3h6.2v6.2h-6.2zM1036.4 365.2h6.2v6.2h-6.2zM1038.1 368.1h6.2v6.2h-6.2zM1039.7 371.0h6.2v6.2h-6.2zM1041.4 374.0h6.2v6.2h-6.2zM1043.1 377.1h6.2v6.2h-6.2zM1044.7 380.1h6.2v6.2h-6.2zM1046.4 383.2h6.2v6.2h-6.2zM1048.1 386.2h6.2v6.2h-6.2zM1049.7 389.2h6.2v6.2h-6.2zM1051.4 392.2h6.2v6.2h-6.2zM1053.1 395.1h6.2v6.2h-6.2zM1054.7 397.9h6.2v6.2h-6.2zM1056.4 400.7h6.2v6.2h-6.2zM1058.1 403.3h6.2v6.2h-6.2zM1059.8 405.9h6.2v6.2h-6.2zM1061.4 408.4h6.2v6.2h-6.2zM1063.1 410.8h6.2v6.2h-6.2zM1064.8 413.1h6.2v6.2h-6.2zM1066.4 415.3h6.2v6.2h-6.2zM1068.1 417.5h6.2v6.2h-6.2zM1069.8 419.7h6.2v6.2h-6.2zM1071.4 421.7h6.2v6.2h-6.2zM1073.1 423.8h6.2v6.2h-6.2zM1074.8 425.8h6.2v6.2h-6.2zM1076.4 427.8h6.2v6.2h-6.2zM1078.1 429.7h6.2v6.2h-6.2zM1079.8 431.7h6.2v6.2h-6.2zM1081.4 433.6h6.2v6.2h-6.2zM1083.1 435.5h6.2v6.2h-6.2zM1084.8 437.3h6.2v6.2h-6.2zM1086.4 439.2h6.2v6.2h-6.2zM1088.1 441.0h6.2v6.2h-6.2zM1089.8 442.9h6.2v6.2h-6.2zM1091.5 444.7h6.2v6.2h-6.2zM1093.1 446.5h6.2v6.2h-6.2zM1094.8 448.3h6.2v6.2h-6.2zM1096.5 450.0h6.2v6.2h-6.2zM1098.1 451.7h6.2v6.2h-6.2zM1099.8 453.4h6.2v6.2h-6.2zM1101.5 454.9h6.2v6.2h-6.2zM1103.1 456.5h6.2v6.2h-6.2zM1104.8 457.9h6.2v6.2h-6.2zM1106.5 459.3h6.2v6.2h-6.2zM1108.1 460.6h6.2v6.2h-6.2zM1109.8 461.9h6.2v6.2h-6.2zM1111.5 463.1h6.2v6.2h-6.2zM1113.1 464.2h6.2v6.2h-6.2zM1114.8 465.3h6.2v6.2h-6.2zM1116.5 466.3h6.2v6.2h-6.2zM1118.2 467.3h6.2v6.2h-6.2zM1119.8 468.3h6.2v6.2h-6.2zM1121.5 469.2h6.2v6.2h-6.2zM1123.2 470.1h6.2v6.2h-6.2zM1124.8 471.0h6.2v6.2h-6.2zM1126.5 471.8h6.2v6.2h-6.2zM1128.2 472.7h6.2v6.2h-6.2zM1129.8 473.5h6.2v6.2h-6.2zM1131.5 474.4h6.2v6.2h-6.2zM1133.2 475.2h6.2v6.2h-6.2zM1134.8 476.0h6.2v6.2h-6.2zM1136.5 476.8h6.2v6.2h-6.2zM1138.2 477.7h6.2v6.2h-6.2zM1139.8 478.5h6.2v6.2h-6.2zM1141.5 479.3h6.2v6.2h-6.2zM1143.2 480.1h6.2v6.2h-6.2zM1144.8 480.9h6.2v6.2h-6.2zM1146.5 481.7h6.2v6.2h-6.2zM1148.2 482.5h6.2v6.2h-6.2zM1149.9 483.2h6.2v6.2h-6.2zM1151.5 484.0h6.2v6.2h-6.2zM1153.2 484.8h6.2v6.2h-6.2zM1154.9 485.5h6.2v6.2h-6.2zM1156.5 486.3h6.2v6.2h-6.2zM1158.2 487.0h6.2v6.2h-6.2zM1159.9 487.8h6.2v6.2h-6.2zM1161.5 488.5h6.2v6.2h-6.2zM1163.2 489.2h6.2v6.2h-6.2zM1164.9 489.9h6.2v6.2h-6.2zM1166.5 490.6h6.2v6.2h-6.2zM1168.2 491.3h6.2v6.2h-6.2zM1169.9 491.9h6.2v6.2h-6.2zM1171.5 492.6h6.2v6.2h-6.2zM1173.2 493.2h6.2v6.2h-6.2zM1174.9 493.8h6.2v6.2h-6.2zM1176.5 494.5h6.2v6.2h-6.2zM1178.2 495.1h6.2v6.2h-6.2zM1179.9 495.7h6.2v6.2h-6.2zM1181.6 496.2h6.2v6.2h-6.2zM1183.2 496.8h6.2v6.2h-6.2zM1184.9 497.4h6.2v6.2h-6.2zM1186.6 497.9h6.2v6.2h-6.2zM1188.2 498.4h6.2v6.2h-6.2zM1189.9 498.9h6.2v6.2h-6.2zM1191.6 499.4h6.2v6.2h-6.2zM1193.2 499.9h6.2v6.2h-6.2zM1194.9 500.3h6.2v6.2h-6.2zM1196.6 500.8h6.2v6.2h-6.2zM1198.2 501.2h6.2v6.2h-6.2zM1199.9 501.7h6.2v6.2h-6.2zM1201.6 502.1h6.2v6.2h-6.2zM1203.2 502.5h6.2v6.2h-6.2zM1204.9 502.9h6.2v6.2h-6.2zM1206.6 503.3h6.2v6.2h-6.2zM1208.2 503.6h6.2v6.2h-6.2zM1209.9 504.0h6.2v6.2h-6.2zM1211.6 504.4h6.2v6.2h-6.2zM1213.3 504.7h6.2v6.2h-6.2zM1214.9 505.1h6.2v6.2h-6.2zM1216.6 505.5h6.2v6.2h-6.2zM1218.3 505.8h6.2v6.2h-6.2zM1219.9 506.2h6.2v6.2h-6.2zM1221.6 506.5h6.2v6.2h-6.2zM1223.3 506.9h6.2v6.2h-6.2zM1224.9 507.2h6.2v6.2h-6.2zM1226.6 507.6h6.2v6.2h-6.2zM1228.3 508.0h6.2v6.2h-6.2zM1229.9 508.3h6.2v6.2h-6.2zM1231.6 508.7h6.2v6.2h-6.2zM1233.3 509.1h6.2v6.2h-6.2zM1234.9 509.5h6.2v6.2h-6.2zM1236.6 509.9h6.2v6.2h-6.2zM1238.3 510.3h6.2v6.2h-6.2zM1240.0 510.7h6.2v6.2h-6.2zM1241.6 511.1h6.2v6.2h-6.2zM1243.3 511.5h6.2v6.2h-6.2zM1245.0 511.9h6.2v6.2h-6.2zM1246.6 512.3h6.2v6.2h-6.2zM1248.3 512.8h6.2v6.2h-6.2zM1250.0 513.2h6.2v6.2h-6.2zM1251.6 513.6h6.2v6.2h-6.2zM1253.3 514.0h6.2v6.2h-6.2zM1255.0 514.4h6.2v6.2h-6.2zM1256.6 514.7h6.2v6.2h-6.2zM1258.3 515.1h6.2v6.2h-6.2zM1260.0 515.4h6.2v6.2h-6.2zM1261.6 515.8h6.2v6.2h-6.2zM1263.3 516.1h6.2v6.2h-6.2zM1265.0 516.4h6.2v6.2h-6.2zM1266.6 516.7h6.2v6.2h-6.2zM1268.3 516.9h6.2v6.2h-6.2zM1270.0 517.1h6.2v6.2h-6.2zM1271.7 517.3h6.2v6.2h-6.2zM1273.3 517.4h6.2v6.2h-6.2zM1275.0 517.5h6.2v6.2h-6.2zM1276.7 517.6h6.2v6.2h-6.2zM1278.3 517.5h6.2v6.2h-6.2zM1280.0 517.5h6.2v6.2h-6.2zM1281.7 517.3h6.2v6.2h-6.2zM1283.3 517.1h6.2v6.2h-6.2zM1285.0 516.7h6.2v6.2h-6.2zM1286.7 516.3h6.2v6.2h-6.2zM1288.3 515.7h6.2v6.2h-6.2zM1290.0 515.1h6.2v6.2h-6.2zM1291.7 514.4h6.2v6.2h-6.2zM1293.3 513.6h6.2v6.2h-6.2zM1295.0 512.8h6.2v6.2h-6.2zM1296.7 511.9h6.2v6.2h-6.2zM1298.3 511.0h6.2v6.2h-6.2zM1300.0 510.1h6.2v6.2h-6.2zM1301.7 509.1h6.2v6.2h-6.2zM1303.4 508.2h6.2v6.2h-6.2zM1305.0 507.3h6.2v6.2h-6.2zM1306.7 506.5h6.2v6.2h-6.2zM1308.4 505.6h6.2v6.2h-6.2zM1310.0 504.8h6.2v6.2h-6.2zM1311.7 504.0h6.2v6.2h-6.2zM1313.4 503.3h6.2v6.2h-6.2zM1315.0 502.7h6.2v6.2h-6.2zM1316.7 502.1h6.2v6.2h-6.2zM1318.4 501.6h6.2v6.2h-6.2zM1320.0 501.2h6.2v6.2h-6.2zM1321.7 500.9h6.2v6.2h-6.2zM1323.4 500.7h6.2v6.2h-6.2zM1325.0 500.5h6.2v6.2h-6.2zM1326.7 500.5h6.2v6.2h-6.2zM1328.4 500.6h6.2v6.2h-6.2zM1330.0 500.7h6.2v6.2h-6.2zM1331.7 501.0h6.2v6.2h-6.2zM1333.4 501.2h6.2v6.2h-6.2zM1335.1 501.6h6.2v6.2h-6.2zM1336.7 502.0h6.2v6.2h-6.2zM1338.4 502.4h6.2v6.2h-6.2zM1340.1 502.9h6.2v6.2h-6.2zM1341.7 503.4h6.2v6.2h-6.2zM1343.4 503.9h6.2v6.2h-6.2zM1345.1 504.4h6.2v6.2h-6.2zM1346.7 505.0h6.2v6.2h-6.2zM1348.4 505.5h6.2v6.2h-6.2zM1350.1 506.0h6.2v6.2h-6.2zM1351.7 506.5h6.2v6.2h-6.2zM1353.4 506.9h6.2v6.2h-6.2zM1355.1 507.3h6.2v6.2h-6.2zM1356.7 507.7h6.2v6.2h-6.2zM1358.4 508.1h6.2v6.2h-6.2zM1360.1 508.4h6.2v6.2h-6.2zM1361.8 508.7h6.2v6.2h-6.2zM1363.4 508.9h6.2v6.2h-6.2zM1365.1 509.0h6.2v6.2h-6.2zM1366.8 509.1h6.2v6.2h-6.2zM1368.4 509.2h6.2v6.2h-6.2zM1370.1 509.1h6.2v6.2h-6.2zM1371.8 509.0h6.2v6.2h-6.2zM1373.4 508.8h6.2v6.2h-6.2zM1375.1 508.5h6.2v6.2h-6.2zM1376.8 508.1h6.2v6.2h-6.2zM1378.4 507.6h6.2v6.2h-6.2zM1380.1 507.0h6.2v6.2h-6.2zM1381.8 506.3h6.2v6.2h-6.2zM1383.4 505.4h6.2v6.2h-6.2zM1385.1 504.4h6.2v6.2h-6.2zM1386.8 503.3h6.2v6.2h-6.2zM1388.4 502.0h6.2v6.2h-6.2zM1390.1 500.7h6.2v6.2h-6.2zM1391.8 499.4h6.2v6.2h-6.2zM1393.5 498.1h6.2v6.2h-6.2zM1395.1 496.8h6.2v6.2h-6.2zM1396.8 495.6h6.2v6.2h-6.2zM1398.5 494.5h6.2v6.2h-6.2zM1400.1 493.6h6.2v6.2h-6.2zM1401.8 492.8h6.2v6.2h-6.2zM1403.5 492.2h6.2v6.2h-6.2zM1405.1 491.9h6.2v6.2h-6.2zM1406.8 491.8h6.2v6.2h-6.2zM1408.5 492.0h6.2v6.2h-6.2zM1410.1 492.4h6.2v6.2h-6.2zM1411.8 493.0h6.2v6.2h-6.2zM1413.5 493.7h6.2v6.2h-6.2zM1415.1 494.5h6.2v6.2h-6.2zM1416.8 495.3h6.2v6.2h-6.2zM1418.5 496.2h6.2v6.2h-6.2zM1420.1 497.1h6.2v6.2h-6.2zM1421.8 498.0h6.2v6.2h-6.2zM1423.5 498.8h6.2v6.2h-6.2zM1425.2 499.6h6.2v6.2h-6.2zM1426.8 500.4h6.2v6.2h-6.2zM1428.5 501.1h6.2v6.2h-6.2zM1430.2 501.7h6.2v6.2h-6.2zM1431.8 502.4h6.2v6.2h-6.2zM1433.5 503.0h6.2v6.2h-6.2zM1435.2 503.6h6.2v6.2h-6.2zM1436.8 504.1h6.2v6.2h-6.2zM1438.5 504.7h6.2v6.2h-6.2zM1440.2 505.2h6.2v6.2h-6.2zM1441.8 505.8h6.2v6.2h-6.2zM1443.5 506.3h6.2v6.2h-6.2zM1445.2 506.8h6.2v6.2h-6.2zM1446.8 507.3h6.2v6.2h-6.2zM1448.5 507.9h6.2v6.2h-6.2zM1450.2 508.4h6.2v6.2h-6.2zM1451.9 509.0h6.2v6.2h-6.2zM1453.5 509.5h6.2v6.2h-6.2zM1455.2 510.1h6.2v6.2h-6.2zM1456.9 510.7h6.2v6.2h-6.2zM1458.5 511.2h6.2v6.2h-6.2zM1460.2 511.7h6.2v6.2h-6.2zM1461.9 512.3h6.2v6.2h-6.2zM1463.5 512.8h6.2v6.2h-6.2zM1465.2 513.3h6.2v6.2h-6.2zM1466.9 513.8h6.2v6.2h-6.2zM1468.5 514.3h6.2v6.2h-6.2zM1470.2 514.8h6.2v6.2h-6.2zM1471.9 515.2h6.2v6.2h-6.2zM1473.5 515.7h6.2v6.2h-6.2zM1475.2 516.1h6.2v6.2h-6.2zM1476.9 516.6h6.2v6.2h-6.2zM1478.5 517.0h6.2v6.2h-6.2zM1480.2 517.4h6.2v6.2h-6.2zM1481.9 517.8h6.2v6.2h-6.2zM1483.6 518.2h6.2v6.2h-6.2zM1485.2 518.6h6.2v6.2h-6.2zM1486.9 519.0h6.2v6.2h-6.2zM1488.6 519.4h6.2v6.2h-6.2zM1490.2 519.7h6.2v6.2h-6.2zM1491.9 520.1h6.2v6.2h-6.2zM1493.6 520.4h6.2v6.2h-6.2zM1495.2 520.8h6.2v6.2h-6.2zM1496.9 521.1h6.2v6.2h-6.2zM1498.6 521.4h6.2v6.2h-6.2zM1500.2 521.7h6.2v6.2h-6.2zM1501.9 522.0h6.2v6.2h-6.2zM1503.6 522.3h6.2v6.2h-6.2zM1505.2 522.6h6.2v6.2h-6.2zM1506.9 522.9h6.2v6.2h-6.2zM1508.6 523.2h6.2v6.2h-6.2zM1510.2 523.4h6.2v6.2h-6.2zM1511.9 523.7h6.2v6.2h-6.2zM1513.6 523.9h6.2v6.2h-6.2zM1515.3 524.2h6.2v6.2h-6.2zM1516.9 524.4h6.2v6.2h-6.2zM1518.6 524.7h6.2v6.2h-6.2zM1520.3 524.9h6.2v6.2h-6.2zM1521.9 525.1h6.2v6.2h-6.2zM1523.6 525.3h6.2v6.2h-6.2zM1525.3 525.5h6.2v6.2h-6.2zM1526.9 525.7h6.2v6.2h-6.2zM1528.6 525.9h6.2v6.2h-6.2zM1530.3 526.1h6.2v6.2h-6.2zM1531.9 526.3h6.2v6.2h-6.2zM1533.6 526.5h6.2v6.2h-6.2zM1535.3 526.7h6.2v6.2h-6.2zM1536.9 526.8h6.2v6.2h-6.2zM1538.6 527.0h6.2v6.2h-6.2zM1540.3 527.1h6.2v6.2h-6.2zM1541.9 527.3h6.2v6.2h-6.2zM1543.6 527.4h6.2v6.2h-6.2zM1545.3 527.6h6.2v6.2h-6.2zM1547.0 527.7h6.2v6.2h-6.2zM1548.6 527.9h6.2v6.2h-6.2zM1550.3 528.0h6.2v6.2h-6.2zM1552.0 528.1h6.2v6.2h-6.2zM1553.6 528.2h6.2v6.2h-6.2zM1555.3 528.3h6.2v6.2h-6.2zM1557.0 528.5h6.2v6.2h-6.2zM1558.6 528.6h6.2v6.2h-6.2zM1560.3 528.7h6.2v6.2h-6.2zM1562.0 528.8h6.2v6.2h-6.2zM1563.6 528.9h6.2v6.2h-6.2zM1565.3 529.0h6.2v6.2h-6.2zM1567.0 529.1h6.2v6.2h-6.2zM1568.6 529.1h6.2v6.2h-6.2zM1570.3 529.2h6.2v6.2h-6.2zM1572.0 529.3h6.2v6.2h-6.2zM1573.7 529.4h6.2v6.2h-6.2zM1575.3 529.5h6.2v6.2h-6.2zM1577.0 529.5h6.2v6.2h-6.2zM1578.7 529.6h6.2v6.2h-6.2zM1580.3 529.7h6.2v6.2h-6.2zM1582.0 529.7h6.2v6.2h-6.2zM1583.7 529.8h6.2v6.2h-6.2zM1585.3 529.8h6.2v6.2h-6.2zM1587.0 529.9h6.2v6.2h-6.2zM1588.7 529.9h6.2v6.2h-6.2zM1590.3 530.0h6.2v6.2h-6.2zM1592.0 530.0h6.2v6.2h-6.2zM1593.7 530.1h6.2v6.2h-6.2zM1595.3 530.1h6.2v6.2h-6.2zM1597.0 530.2h6.2v6.2h-6.2zM1598.7 530.2h6.2v6.2h-6.2zM1600.3 530.3h6.2v6.2h-6.2zM1602.0 530.3h6.2v6.2h-6.2zM1603.7 530.3h6.2v6.2h-6.2zM1605.4 530.4h6.2v6.2h-6.2zM1607.0 530.4h6.2v6.2h-6.2zM1608.7 530.5h6.2v6.2h-6.2zM1610.4 530.5h6.2v6.2h-6.2zM1612.0 530.5h6.2v6.2h-6.2zM1613.7 530.5h6.2v6.2h-6.2z"/><path fill="#ff0000" d="M972.6 431.2a3.5 3.5 0 1 0 7.0 0a3.5 3.5 0 1 0 -7.0 0zM974.3 427.4a3.5 3.5 0 1 0 7.0 0a3.5 3.5 0 1 0 -7.0 0zM975.9 424.4a3.5 3.5 0 1 0 7.0 0a3.5 3.5 0 1 0 -7.0 0zM977.6 421.8a3.5 3.5 0 1 0 7.0 0a3.5 3.5 0 1 0 -7.0 0zM979.3 419.5a3.5 3.5 0 1 0 7.0 0a3.5 3.5 0 1 0 -7.0 0zM980.9 417.3a3.5 3.5 0 1 0 7.0 0a3.5 3.5 0 1 0 -7.0 0zM982.6 415.0a3.5 3.5 0 1 0 7.0 0a3.5 3.5 0 1 0 -7.0 0zM984.3 412.5a3.5 3.5 0 1 0 7.0 0a3.5 3.5 0 1 0 -7.0 0zM985.9 409.7a3.5 3.5 0 1 0 7.0 0a3.5 3.5 0 1 0 -7.0 0zM987.6 406.4a3.5 3.5 0 1 0 7.0 0a3.5 3.5 0 1 0 -7.0 0zM989.3 402.8a3.5 3.5 0 1 0 7.0 0a3.5 3.5 0 1 0 -7.0 0zM990.9 399.2a3.5 3.5 0 1 0 7.0 0a3.5 3.5 0 1 0 -7.0 0zM992.6 396.1a3.5 3.5 0 1 0 7.0 0a3.5 3.5 0 1 0 -7.0 0zM994.3 393.6a3.5 3.5 0 1 0 7.0 0a3.5 3.5 0 1 0 -7.0 0zM995.9 391.6a3.5 3.5 0 1 0 7.0 0a3.5 3.5 0 1 0 -7.0 0zM997.6 390.2a3.5 3.5 0 1 0 7.0 0a3.5 3.5 0 1 0 -7.0 0zM999.3 389.1a3.5 3.5 0 1 0 7.0 0a3.5 3.5 0 1 0 -7.0 0zM1001.0 388.4a3.5 3.5 0 1 0 7.0 0a3.5 3.5 0 1 0 -7.0 0zM1002.6 388.1a3.5 3.5 0 1 0 7.0 0a3.5 3.5 0 1 0 -7.0 0zM1004.3 388.3a3.5 3.5 0 1 0 7.0 0a3.5 3.5 0 1 0 -7.0 0zM1006.0 388.9a3.5 3.5 0 1 0 7.0 0a3.5 3.5 0 1 0 -7.0 0zM1007.6 389.9a3.5 3.5 0 1 0 7.0 0a3.5 3.5 0 1 0 -7.0 0zM1009.3 391.1a3.5 3.5 0 1 0 7.0 0a3.5 3.5 0 1 0 -7.0 0zM1011.0 392.5a3.5 3.5 0 1 0 7.0 0a3.5 3.5 0 1 0 -7.0 0zM1012.6 394.2a3.5 3.5 0 1 0 7.0 0a3.5 3.5 0 1 0 -7.0 0zM1014.3 396.2a3.5 3.5 0 1 0 7.0 0a3.5 3.5 0 1 0 -7.0 0zM1016.0 398.6a3.5 3.5 0 1 0 7.0 0a3.5 3.5 0 1 0 -7.0 0zM1017.6 401.4a3.5 3.5 0 1 0 7.0 0a3.5 3.5 0 1 0 -7.0 0zM1019.3 404.7a3.5 3.5 0 1 0 7.0 0a3.5 3.5 0 1 0 -7.0 0zM1021.0 408.7a3.5 3.5 0 1 0 7.0 0a3.5 3.5 0 1 0 -7.0 0zM1022.6 413.3a3.5 3.5 0 1 0 7.0 0a3.5 3.5 0 1 0 -7.0 0zM1024.3 418.3a3.5 3.5 0 1 0 7.0 0a3.5 3.5 0 1 0 -7.0 0zM1026.0 423.5a3.5 3.5 0 1 0 7.0 0a3.5 3.5 0 1 0 -7.0 0zM1027.7 428.4a3.5 3.5 0 1 0 7.0 0a3.5 3.5 0 1 0 -7.0 0zM1029.3 432.8a3.5 3.5 0 1 0 7.0 0a3.5 3.5 0 1 0 -7.0 0zM1031.0 436.7a3.5 3.5 0 1 0 7.0 0a3.5 3.5 0 1 0 -7.0 0zM1032.7 440.5a3.5 3.5 0 1 0 7.0 0a3.5 3.5 0 1 0 -7.0 0zM1034.3 444.1a3.5 3.5 0 1 0 7.0 0a3.5 3.5 0 1 0 -7.0 0zM1036.0 447.8a3.5 3.5 0 1 0 7.0 0a3.5 3.5 0 1 0 -7.0 0zM1037.7 451.8a3.5 3.5 0 1 0 7.0 0a3.5 3.5 0 1 0 -7.0 0zM1039.3 456.2a3.5 3.5 0 1 0 7.0 0a3.5 3.5 0 1 0 -7.0 0zM1041.0 461.4a3.5 3.5 0 1 0 7.0 0a3.5 3.5 0 1 0 -7.0 0zM1042.7 466.8a3.5 3.5 0 1 0 7.0 0a3.5 3.5 0 1 0 -7.0 0zM1044.3 471.7a3.5 3.5 0 1 0 7.0 0a3.5 3.5 0 1 0 -7.0 0zM1046.0 475.9a3.5 3.5 0 1 0 7.0 0a3.5 3.5 0 1 0 -7.0 0zM1047.7 479.6a3.5 3.5 0 1 0 7.0 0a3.5 3.5 0 1 0 -7.0 0zM1049.3 482.9a3.5 3.5 0 1 0 7.0 0a3.5 3.5 0 1 0 -7.0 0zM1051.0 486.0a3.5 3.5 0 1 0 7.0 0a3.5 3.5 0 1 0 -7.0 0zM1052.7 488.8a3.5 3.5 0 1 0 7.0 0a3.5 3.5 0 1 0 -7.0 0zM1054.3 491.4a3.5 3.5 0 1 0 7.0 0a3.5 3.5 0 1 0 -7.0 0zM1056.0 493.9a3.5 3.5 0 1 0 7.0 0a3.5 3.5 0 1 0 -7.0 0zM1057.7 496.2a3.5 3.5 0 1 0 7.0 0a3.5 3.5 0 1 0 -7.0 0zM1059.4 498.4a3.5 3.5 0 1 0 7.0 0a3.5 3.5 0 1 0 -7.0 0zM1061.0 500.4a3.5 3.5 0 1 0 7.0 0a3.5 3.5 0 1 0 -7.0 0zM1062.7 502.4a3.5 3.5 0 1 0 7.0 0a3.5 3.5 0 1 0 -7.0 0zM1064.4 504.3a3.5 3.5 0 1 0 7.0 0a3.5 3.5 0 1 0 -7.0 0zM1066.0 506.1a3.5 3.5 0 1 0 7.0 0a3.5 3.5 0 1 0 -7.0 0zM1067.7 507.8a3.5 3.5 0 1 0 7.0 0a3.5 3.5 0 1 0 -7.0 0zM1069.4 509.4a3.5 3.5 0 1 0 7.0 0a3.5 3.5 0 1 0 -7.0 0zM1071.0 510.9a3.5 3.5 0 1 0 7.0 0a3.5 3.5 0 1 0 -7.0 0zM1072.7 512.4a3.5 3.5 0 1 0 7.0 0a3.5 3.5 0 1 0 -7.0 0zM1074.4 513.8a3.5 3.5 0 1 0 7.0 0a3.5 3.5 0 1 0 -7.0 0zM1076.0 515.1a3.5 3.5 0 1 0 7.0 0a3.5 3.5 0 1 0 -7.0 0zM1077.7 516.4a3.5 3.5 0 1 0 7.0 0a3.5 3.5 0 1 0 -7.0 0zM1079.4 517.7a3.5 3.5 0 1 0 7.0 0a3.5 3.5 0 1 0 -7.0 0zM1081.0 518.8a3.5 3.5 0 1 0 7.0 0a3.5 3.5 0 1 0 -7.0 0zM1082.7 519.9a3.5 3.5 0 1 0 7.0 0a3.5 3.5 0 1 0 -7.0 0zM1084.4 521.0a3.5 3.5 0 1 0 7.0 0a3.5 3.5 0 1 0 -7.0 0zM1086.0 522.0a3.5 3.5 0 1 0 7.0 0a3.5 3.5 0 1 0 -7.0 0zM1087.7 523.0a3.5 3.5 0 1 0 7.0 0a3.5 3.5 0 1 0 -7.0 0zM1089.4 523.9a3.5 3.5 0 1 0 7.0 0a3.5 3.5 0 1 0 -7.0 0zM1091.1 524.7a3.5 3.5 0 1 0 7.0 0a3.5 3.5 0 1 0 -7.0 0zM1092.7 525.6a3.5 3.5 0 1 0 7.0 0a3.5 3.5 0 1 0 -7.0 0zM1094.4 526.4a3.5 3.5 0 1 0 7.0 0a3.5 3.5 0 1 0 -7.0 0zM1096.1 527.1a3.5 3.5 0 1 0 7.0 0a3.5 3.5 0 1 0 -7.0 0zM1097.7 527.8a3.5 3.5 0 1 0 7.0 0a3.5 3.5 0 1 0 -7.0 0zM1099.4 528.5a3.5 3.5 0 1 0 7.0 0a3.5 3.5 0 1 0 -7.0 0zM1101.1 529.2a3.5 3.5 0 1 0 7.0 0a3.5 3.5 0 1 0 -7.0 0zM1102.7 529.8a3.5 3.5 0 1 0 7.0 0a3.5 3.5 0 1 0 -7.0 0zM1104.4 530.4a3.5 3.5 0 1 0 7.0 0a3.5 3.5 0 1 0 -7.0 0zM1106.1 531.0a3.5 3.5 0 1 0 7.0 0a3.5 3.5 0 1 0 -7.0 0zM1107.7 531.5a3.5 3.5 0 1 0 7.0 0a3.5 3.5 0 1 0 -7.0 0zM1109.4 532.1a3.5 3.5 0 1 0 7.0 0a3.5 3.5 0 1 0 -7.0 0zM1111.1 532.6a3.5 3.5 0 1 0 7.0 0a3.5 3.5 0 1 0 -7.0 0zM1112.7 533.0a3.5 3.5 0 1 0 7.0 0a3.5 3.5 0 1 0 -7.0 0zM1114.4 533.5a3.5 3.5 0 1 0 7.0 0a3.5 3.5 0 1 0 -7.0 0zM1116.1 533.9a3.5 3.5 0 1 0 7.0 0a3.5 3.5 0 1 0 -7.0 0zM1117.8 534.4a3.5 3.5 0 1 0 7.0 0a3.5 3.5 0 1 0 -7.0 0zM1119.4 534.8a3.5 3.5 0 1 0 7.0 0a3.5 3.5 0 1 0 -7.0 0zM1121.1 535.1a3.5 3.5 0 1 0 7.0 0a3.5 3.5 0 1 0 -7.0 0zM1122.8 535.5a3.5 3.5 0 1 0 7.0 0a3.5 3.5 0 1 0 -7.0 0zM1124.4 535.9a3.5 3.5 0 1 0 7.0 0a3.5 3.5 0 1 0 -7.0 0zM1126.1 536.2a3.5 3.5 0 1 0 7.0 0a3.5 3.5 0 1 0 -7.0 0zM1127.8 536.5a3.5 3.5 0 1 0 7.0 0a3.5 3.5 0 1 0 -7.0 0zM1129.4 536.8a3.5 3.5 0 1 0 7.0 0a3.5 3.5 0 1 0 -7.0 0zM1131.1 537.1a3.5 3.5 0 1 0 7.0 0a3.5 3.5 0 1 0 -7.0 0zM1132.8 537.4a3.5 3.5 0 1 0 7.0 0a3.5 3.5 0 1 0 -7.0 0zM1134.4 537.7a3.5 3.5 0 1 0 7.0 0a3.5 3.5 0 1 0 -7.0 0zM1136.1 538.0a3.5 3.5 0 1 0 7.0 0a3.5 3.5 0 1 0 -7.0 0zM1137.8 538.2a3.5 3.5 0 1 0 7.0 0a3.5 3.5 0 1 0 -7.0 0zM1139.4 538.5a3.5 3.5 0 1 0 7.0 0a3.5 3.5 0 1 0 -7.0 0zM1141.1 538.7a3.5 3.5 0 1 0 7.0 0a3.5 3.5 0 1 0 -7.0 0zM1142.8 538.9a3.5 3.5 0 1 0 7.0 0a3.5 3.5 0 1 0 -7.0 0zM1144.4 539.1a3.5 3.5 0 1 0 7.0 0a3.5 3.5 0 1 0 -7.0 0zM1146.1 539.3a3.5 3.5 0 1 0 7.0 0a3.5 3.5 0 1 0 -7.0 0zM1147.8 539.6a3.5 3.5 0 1 0 7.0 0a3.5 3.5 0 1 0 -7.0 0zM1149.5 539.8a3.5 3.5 0 1 0 7.0 0a3.5 3.5 0 1 0 -7.0 0zM1151.1 540.0a3.5 3.5 0 1 0 7.0 0a3.5 3.5 0 1 0 -7.0 0zM1152.8 540.1a3.5 3.5 0 1 0 7.0 0a3.5 3.5 0 1 0 -7.0 0zM1154.5 540.3a3.5 3.5 0 1 0 7.0 0a3.5 3.5 0 1 0 -7.0 0zM1156.1 540.5a3.5 3.5 0 1 0 7.0 0a3.5 3.5 0 1 0 -7.0 0zM1157.8 540.7a3.5 3.5 0 1 0 7.0 0a3.5 3.5 0 1 0 -7.0 0zM1159.5 540.9a3.5 3.5 0 1 0 7.0 0a3.5 3.5 0 1 0 -7.0 0zM1161.1 541.0a3.5 3.5 0 1 0 7.0 0a3.5 3.5 0 1 0 -7.0 0zM1162.8 541.2a3.5 3.5 0 1 0 7.0 0a3.5 3.5 0 1 0 -7.0 0zM1164.5 541.4a3.5 3.5 0 1 0 7.0 0a3.5 3.5 0 1 0 -7.0 0zM1166.1 541.5a3.5 3.5 0 1 0 7.0 0a3.5 3.5 0 1 0 -7.0 0zM1167.8 541.7a3.5 3.5 0 1 0 7.0 0a3.5 3.5 0 1 0 -7.0 0zM1169.5 541.9a3.5 3.5 0 1 0 7.0 0a3.5 3.5 0 1 0 -7.0 0zM1171.1 542.0a3.5 3.5 0 1 0 7.0 0a3.5 3.5 0 1 0 -7.0 0zM1172.8 542.1a3.5 3.5 0 1 0 7.0 0a3.5 3.5 0 1 0 -7.0 0zM1174.5 542.3a3.5 3.5 0 1 0 7.0 0a3.5 3.5 0 1 0 -7.0 0zM1176.1 542.4a3.5 3.5 0 1 0 7.0 0a3.5 3.5 0 1 0 -7.0 0zM1177.8 542.6a3.5 3.5 0 1 0 7.0 0a3.5 3.5 0 1 0 -7.0 0zM1179.5 542.7a3.5 3.5 0 1 0 7.0 0a3.5 3.5 0 1 0 -7.0 0zM1181.2 542.8a3.5 3.5 0 1 0 7.0 0a3.5 3.5 0 1 0 -7.0 0zM1182.8 542.9a3.5 3.5 0 1 0 7.0 0a3.5 3.5 0 1 0 -7.0 0zM1184.5 543.1a3.5 3.5 0 1 0 7.0 0a3.5 3.5 0 1 0 -7.0 0zM1186.2 543.2a3.5 3.5 0 1 0 7.0 0a3.5 3.5 0 1 0 -7.0 0zM1187.8 543.3a3.5 3.5 0 1 0 7.0 0a3.5 3.5 0 1 0 -7.0 0zM1189.5 543.4a3.5 3.5 0 1 0 7.0 0a3.5 3.5 0 1 0 -7.0 0zM1191.2 543.5a3.5 3.5 0 1 0 7.0 0a3.5 3.5 0 1 0 -7.0 0zM1192.8 543.6a3.5 3.5 0 1 0 7.0 0a3.5 3.5 0 1 0 -7.0 0zM1194.5 543.7a3.5 3.5 0 1 0 7.0 0a3.5 3.5 0 1 0 -7.0 0zM1196.2 543.8a3.5 3.5 0 1 0 7.0 0a3.5 3.5 0 1 0 -7.0 0zM1197.8 543.9a3.5 3.5 0 1 0 7.0 0a3.5 3.5 0 1 0 -7.0 0zM1199.5 544.0a3.5 3.5 0 1 0 7.0 0a3.5 3.5 0 1 0 -7.0 0zM1201.2 544.1a3.5 3.5 0 1 0 7.0 0a3.5 3.5 0 1 0 -7.0 0zM1202.8 544.1a3.5 3.5 0 1 0 7.0 0a3.5 3.5 0 1 0 -7.0 0zM1204.5 544.2a3.5 3.5 0 1 0 7.0 0a3.5 3.5 0 1 0 -7.0 0zM1206.2 544.3a3.5 3.5 0 1 0 7.0 0a3.5 3.5 0 1 0 -7.0 0zM1207.8 544.4a3.5 3.5 0 1 0 7.0 0a3.5 3.5 0 1 0 -7.0 0zM1209.5 544.4a3.5 3.5 0 1 0 7.0 0a3.5 3.5 0 1 0 -7.0 0zM1211.2 544.5a3.5 3.5 0 1 0 7.0 0a3.5 3.5 0 1 0 -7.0 0zM1212.9 544.6a3.5 3.5 0 1 0 7.0 0a3.5 3.5 0 1 0 -7.0 0zM1214.5 544.6a3.5 3.5 0 1 0 7.0 0a3.5 3.5 0 1 0 -7.0 0zM1216.2 544.7a3.5 3.5 0 1 0 7.0 0a3.5 3.5 0 1 0 -7.0 0zM1217.9 544.8a3.5 3.5 0 1 0 7.0 0a3.5 3.5 0 1 0 -7.0 0zM1219.5 544.8a3.5 3.5 0 1 0 7.0 0a3.5 3.5 0 1 0 -7.0 0zM1221.2 544.9a3.5 3.5 0 1 0 7.0 0a3.5 3.5 0 1 0 -7.0 0zM1222.9 544.9a3.5 3.5 0 1 0 7.0 0a3.5 3.5 0 1 0 -7.0 0zM1224.5 544.9a3.5 3.5 0 1 0 7.0 0a3.5 3.5 0 1 0 -7.0 0zM1226.2 545.0a3.5 3.5 0 1 0 7.0 0a3.5 3.5 0 1 0 -7.0 0zM1227.9 545.0a3.5 3.5 0 1 0 7.0 0a3.5 3.5 0 1 0 -7.0 0zM1229.5 545.1a3.5 3.5 0 1 0 7.0 0a3.5 3.5 0 1 0 -7.0 0zM1231.2 545.1a3.5 3.5 0 1 0 7.0 0a3.5 3.5 0 1 0 -7.0 0zM1232.9 545.1a3.5 3.5 0 1 0 7.0 0a3.5 3.5 0 1 0 -7.0 0zM1234.5 545.2a3.5 3.5 0 1 0 7.0 0a3.5 3.5 0 1 0 -7.0 0zM1236.2 545.2a3.5 3.5 0 1 0 7.0 0a3.5 3.5 0 1 0 -7.0 0zM1237.9 545.2a3.5 3.5 0 1 0 7.0 0a3.5 3.5 0 1 0 -7.0 0zM1239.6 545.2a3.5 3.5 0 1 0 7.0 0a3.5 3.5 0 1 0 -7.0 0zM1241.2 545.2a3.5 3.5 0 1 0 7.0 0a3.5 3.5 0 1 0 -7.0 0zM1242.9 545.3a3.5 3.5 0 1 0 7.0 0a3.5 3.5 0 1 0 -7.0 0zM1244.6 545.3a3.5 3.5 0 1 0 7.0 0a3.5 3.5 0 1 0 -7.0 0zM1246.2 545.3a3.5 3.5 0 1 0 7.0 0a3.5 3.5 0 1 0 -7.0 0zM1247.9 545.3a3.5 3.5 0 1 0 7.0 0a3.5 3.5 0 1 0 -7.0 0zM1249.6 545.3a3.5 3.5 0 1 0 7.0 0a3.5 3.5 0 1 0 -7.0 0zM1251.2 545.3a3.5 3.5 0 1 0 7.0 0a3.5 3.5 0 1 0 -7.0 0zM1252.9 545.3a3.5 3.5 0 1 0 7.0 0a3.5 3.5 0 1 0 -7.0 0zM1254.6 545.2a3.5 3.5 0 1 0 7.0 0a3.5 3.5 0 1 0 -7.0 0zM1256.2 545.2a3.5 3.5 0 1 0 7.0 0a3.5 3.5 0 1 0 -7.0 0zM1257.9 545.2a3.5 3.5 0 1 0 7.0 0a3.5 3.5 0 1 0 -7.0 0zM1259.6 545.1a3.5 3.5 0 1 0 7.0 0a3.5 3.5 0 1 0 -7.0 0zM1261.2 545.0a3.5 3.5 0 1 0 7.0 0a3.5 3.5 0 1 0 -7.0 0zM1262.9 544.9a3.5 3.5 0 1 0 7.0 0a3.5 3.5 0 1 0 -7.0 0zM1264.6 544.8a3.5 3.5 0 1 0 7.0 0a3.5 3.5 0 1 0 -7.0 0zM1266.2 544.7a3.5 3.5 0 1 0 7.0 0a3.5 3.5 0 1 0 -7.0 0zM1267.9 544.6a3.5 3.5 0 1 0 7.0 0a3.5 3.5 0 1 0 -7.0 0zM1269.6 544.4a3.5 3.5 0 1 0 7.0 0a3.5 3.5 0 1 0 -7.0 0zM1271.3 544.3a3.5 3.5 0 1 0 7.0 0a3.5 3.5 0 1 0 -7.0 0zM1272.9 544.1a3.5 3.5 0 1 0 7.0 0a3.5 3.5 0 1 0 -7.0 0zM1274.6 543.8a3.5 3.5 0 1 0 7.0 0a3.5 3.5 0 1 0 -7.0 0zM1276.3 543.6a3.5 3.5 0 1 0 7.0 0a3.5 3.5 0 1 0 -7.0 0zM1277.9 543.3a3.5 3.5 0 1 0 7.0 0a3.5 3.5 0 1 0 -7.0 0zM1279.6 543.0a3.5 3.5 0 1 0 7.0 0a3.5 3.5 0 1 0 -7.0 0zM1281.3 542.7a3.5 3.5 0 1 0 7.0 0a3.5 3.5 0 1 0 -7.0 0zM1282.9 542.3a3.5 3.5 0 1 0 7.0 0a3.5 3.5 0 1 0 -7.0 0zM1284.6 542.0a3.5 3.5 0 1 0 7.0 0a3.5 3.5 0 1 0 -7.0 0zM1286.3 541.5a3.5 3.5 0 1 0 7.0 0a3.5 3.5 0 1 0 -7.0 0zM1287.9 541.1a3.5 3.5 0 1 0 7.0 0a3.5 3.5 0 1 0 -7.0 0zM1289.6 540.6a3.5 3.5 0 1 0 7.0 0a3.5 3.5 0 1 0 -7.0 0zM1291.3 540.1a3.5 3.5 0 1 0 7.0 0a3.5 3.5 0 1 0 -7.0 0zM1292.9 539.6a3.5 3.5 0 1 0 7.0 0a3.5 3.5 0 1 0 -7.0 0zM1294.6 539.1a3.5 3.5 0 1 0 7.0 0a3.5 3.5 0 1 0 -7.0 0zM1296.3 538.6a3.5 3.5 0 1 0 7.0 0a3.5 3.5 0 1 0 -7.0 0zM1297.9 538.1a3.5 3.5 0 1 0 7.0 0a3.5 3.5 0 1 0 -7.0 0zM1299.6 537.6a3.5 3.5 0 1 0 7.0 0a3.5 3.5 0 1 0 -7.0 0zM1301.3 537.2a3.5 3.5 0 1 0 7.0 0a3.5 3.5 0 1 0 -7.0 0zM1303.0 536.8a3.5 3.5 0 1 0 7.0 0a3.5 3.5 0 1 0 -7.0 0zM1304.6 536.5a3.5 3.5 0 1 0 7.0 0a3.5 3.5 0 1 0 -7.0 0zM1306.3 536.2a3.5 3.5 0 1 0 7.0 0a3.5 3.5 0 1 0 -7.0 0zM1308.0 536.0a3.5 3.5 0 1 0 7.0 0a3.5 3.5 0 1 0 -7.0 0zM1309.6 535.9a3.5 3.5 0 1 0 7.0 0a3.5 3.5 0 1 0 -7.0 0zM1311.3 535.8a3.5 3.5 0 1 0 7.0 0a3.5 3.5 0 1 0 -7.0 0zM1313.0 535.9a3.5 3.5 0 1 0 7.0 0a3.5 3.5 0 1 0 -7.0 0zM1314.6 536.0a3.5 3.5 0 1 0 7.0 0a3.5 3.5 0 1 0 -7.0 0zM1316.3 536.2a3.5 3.5 0 1 0 7.0 0a3.5 3.5 0 1 0 -7.0 0zM1318.0 536.5a3.5 3.5 0 1 0 7.0 0a3.5 3.5 0 1 0 -7.0 0zM1319.6 536.8a3.5 3.5 0 1 0 7.0 0a3.5 3.5 0 1 0 -7.0 0zM1321.3 537.2a3.5 3.5 0 1 0 7.0 0a3.5 3.5 0 1 0 -7.0 0zM1323.0 537.6a3.5 3.5 0 1 0 7.0 0a3.5 3.5 0 1 0 -7.0 0zM1324.6 538.1a3.5 3.5 0 1 0 7.0 0a3.5 3.5 0 1 0 -7.0 0zM1326.3 538.6a3.5 3.5 0 1 0 7.0 0a3.5 3.5 0 1 0 -7.0 0zM1328.0 539.1a3.5 3.5 0 1 0 7.0 0a3.5 3.5 0 1 0 -7.0 0zM1329.6 539.7a3.5 3.5 0 1 0 7.0 0a3.5 3.5 0 1 0 -7.0 0zM1331.3 540.2a3.5 3.5 0 1 0 7.0 0a3.5 3.5 0 1 0 -7.0 0zM1333.0 540.8a3.5 3.5 0 1 0 7.0 0a3.5 3.5 0 1 0 -7.0 0zM1334.7 541.4a3.5 3.5 0 1 0 7.0 0a3.5 3.5 0 1 0 -7.0 0zM1336.3 541.9a3.5 3.5 0 1 0 7.0 0a3.5 3.5 0 1 0 -7.0 0zM1338.0 542.5a3.5 3.5 0 1 0 7.0 0a3.5 3.5 0 1 0 -7.0 0zM1339.7 543.0a3.5 3.5 0 1 0 7.0 0a3.5 3.5 0 1 0 -7.0 0zM1341.3 543.5a3.5 3.5 0 1 0 7.0 0a3.5 3.5 0 1 0 -7.0 0zM1343.0 543.9a3.5 3.5 0 1 0 7.0 0a3.5 3.5 0 1 0 -7.0 0zM1344.7 544.3a3.5 3.5 0 1 0 7.0 0a3.5 3.5 0 1 0 -7.0 0zM1346.3 544.7a3.5 3.5 0 1 0 7.0 0a3.5 3.5 0 1 0 -7.0 0zM1348.0 545.0a3.5 3.5 0 1 0 7.0 0a3.5 3.5 0 1 0 -7.0 0zM1349.7 545.3a3.5 3.5 0 1 0 7.0 0a3.5 3.5 0 1 0 -7.0 0zM1351.3 545.4a3.5 3.5 0 1 0 7.0 0a3.5 3.5 0 1 0 -7.0 0zM1353.0 545.6a3.5 3.5 0 1 0 7.0 0a3.5 3.5 0 1 0 -7.0 0zM1354.7 545.6a3.5 3.5 0 1 0 7.0 0a3.5 3.5 0 1 0 -7.0 0zM1356.3 545.6a3.5 3.5 0 1 0 7.0 0a3.5 3.5 0 1 0 -7.0 0zM1358.0 545.5a3.5 3.5 0 1 0 7.0 0a3.5 3.5 0 1 0 -7.0 0zM1359.7 545.4a3.5 3.5 0 1 0 7.0 0a3.5 3.5 0 1 0 -7.0 0zM1361.4 545.3a3.5 3.5 0 1 0 7.0 0a3.5 3.5 0 1 0 -7.0 0zM1363.0 545.1a3.5 3.5 0 1 0 7.0 0a3.5 3.5 0 1 0 -7.0 0zM1364.7 544.9a3.5 3.5 0 1 0 7.0 0a3.5 3.5 0 1 0 -7.0 0zM1366.4 544.6a3.5 3.5 0 1 0 7.0 0a3.5 3.5 0 1 0 -7.0 0zM1368.0 544.3a3.5 3.5 0 1 0 7.0 0a3.5 3.5 0 1 0 -7.0 0zM1369.7 544.1a3.5 3.5 0 1 0 7.0 0a3.5 3.5 0 1 0 -7.0 0zM1371.4 543.8a3.5 3.5 0 1 0 7.0 0a3.5 3.5 0 1 0 -7.0 0zM1373.0 543.5a3.5 3.5 0 1 0 7.0 0a3.5 3.5 0 1 0 -7.0 0zM1374.7 543.2a3.5 3.5 0 1 0 7.0 0a3.5 3.5 0 1 0 -7.0 0zM1376.4 542.9a3.5 3.5 0 1 0 7.0 0a3.5 3.5 0 1 0 -7.0 0zM1378.0 542.6a3.5 3.5 0 1 0 7.0 0a3.5 3.5 0 1 0 -7.0 0zM1379.7 542.4a3.5 3.5 0 1 0 7.0 0a3.5 3.5 0 1 0 -7.0 0zM1381.4 542.2a3.5 3.5 0 1 0 7.0 0a3.5 3.5 0 1 0 -7.0 0zM1383.0 542.0a3.5 3.5 0 1 0 7.0 0a3.5 3.5 0 1 0 -7.0 0zM1384.7 541.8a3.5 3.5 0 1 0 7.0 0a3.5 3.5 0 1 0 -7.0 0zM1386.4 541.7a3.5 3.5 0 1 0 7.0 0a3.5 3.5 0 1 0 -7.0 0zM1388.0 541.6a3.5 3.5 0 1 0 7.0 0a3.5 3.5 0 1 0 -7.0 0zM1389.7 541.5a3.5 3.5 0 1 0 7.0 0a3.5 3.5 0 1 0 -7.0 0zM1391.4 541.6a3.5 3.5 0 1 0 7.0 0a3.5 3.5 0 1 0 -7.0 0zM1393.1 541.7a3.5 3.5 0 1 0 7.0 0a3.5 3.5 0 1 0 -7.0 0zM1394.7 541.8a3.5 3.5 0 1 0 7.0 0a3.5 3.5 0 1 0 -7.0 0zM1396.4 542.1a3.5 3.5 0 1 0 7.0 0a3.5 3.5 0 1 0 -7.0 0zM1398.1 542.4a3.5 3.5 0 1 0 7.0 0a3.5 3.5 0 1 0 -7.0 0zM1399.7 542.9a3.5 3.5 0 1 0 7.0 0a3.5 3.5 0 1 0 -7.0 0zM1401.4 543.5a3.5 3.5 0 1 0 7.0 0a3.5 3.5 0 1 0 -7.0 0zM1403.1 544.2a3.5 3.5 0 1 0 7.0 0a3.5 3.5 0 1 0 -7.0 0zM1404.7 545.1a3.5 3.5 0 1 0 7.0 0a3.5 3.5 0 1 0 -7.0 0zM1406.4 546.1a3.5 3.5 0 1 0 7.0 0a3.5 3.5 0 1 0 -7.0 0zM1408.1 547.1a3.5 3.5 0 1 0 7.0 0a3.5 3.5 0 1 0 -7.0 0zM1409.7 548.1a3.5 3.5 0 1 0 7.0 0a3.5 3.5 0 1 0 -7.0 0zM1411.4 549.1a3.5 3.5 0 1 0 7.0 0a3.5 3.5 0 1 0 -7.0 0zM1413.1 549.9a3.5 3.5 0 1 0 7.0 0a3.5 3.5 0 1 0 -7.0 0zM1414.7 550.5a3.5 3.5 0 1 0 7.0 0a3.5 3.5 0 1 0 -7.0 0zM1416.4 550.9a3.5 3.5 0 1 0 7.0 0a3.5 3.5 0 1 0 -7.0 0zM1418.1 551.1a3.5 3.5 0 1 0 7.0 0a3.5 3.5 0 1 0 -7.0 0zM1419.7 551.2a3.5 3.5 0 1 0 7.0 0a3.5 3.5 0 1 0 -7.0 0zM1421.4 551.2a3.5 3.5 0 1 0 7.0 0a3.5 3.5 0 1 0 -7.0 0zM1423.1 551.2a3.5 3.5 0 1 0 7.0 0a3.5 3.5 0 1 0 -7.0 0zM1424.8 551.2a3.5 3.5 0 1 0 7.0 0a3.5 3.5 0 1 0 -7.0 0zM1426.4 551.3a3.5 3.5 0 1 0 7.0 0a3.5 3.5 0 1 0 -7.0 0zM1428.1 551.3a3.5 3.5 0 1 0 7.0 0a3.5 3.5 0 1 0 -7.0 0zM1429.8 551.3a3.5 3.5 0 1 0 7.0 0a3.5 3.5 0 1 0 -7.0 0zM1431.4 551.3a3.5 3.5 0 1 0 7.0 0a3.5 3.5 0 1 0 -7.0 0zM1433.1 551.3a3.5 3.5 0 1 0 7.0 0a3.5 3.5 0 1 0 -7.0 0zM1434.8 551.3a3.5 3.5 0 1 0 7.0 0a3.5 3.5 0 1 0 -7.0 0zM1436.4 551.3a3.5 3.5 0 1 0 7.0 0a3.5 3.5 0 1 0 -7.0 0zM1438.1 551.3a3.5 3.5 0 1 0 7.0 0a3.5 3.5 0 1 0 -7.0 0zM1439.8 551.3a3.5 3.5 0 1 0 7.0 0a3.5 3.5 0 1 0 -7.0 0zM1441.4 551.3a3.5 3.5 0 1 0 7.0 0a3.5 3.5 0 1 0 -7.0 0zM1443.1 551.3a3.5 3.5 0 1 0 7.0 0a3.5 3.5 0 1 0 -7.0 0zM1444.8 551.3a3.5 3.5 0 1 0 7.0 0a3.5 3.5 0 1 0 -7.0 0zM1446.4 551.3a3.5 3.5 0 1 0 7.0 0a3.5 3.5 0 1 0 -7.0 0zM1448.1 551.4a3.5 3.5 0 1 0 7.0 0a3.5 3.5 0 1 0 -7.0 0zM1449.8 551.4a3.5 3.5 0 1 0 7.0 0a3.5 3.5 0 1 0 -7.0 0zM1451.5 551.4a3.5 3.5 0 1 0 7.0 0a3.5 3.5 0 1 0 -7.0 0zM1453.1 551.4a3.5 3.5 0 1 0 7.0 0a3.5 3.5 0 1 0 -7.0 0zM1454.8 551.4a3.5 3.5 0 1 0 7.0 0a3.5 3.5 0 1 0 -7.0 0zM1456.5 551.4a3.5 3.5 0 1 0 7.0 0a3.5 3.5 0 1 0 -7.0 0zM1458.1 551.4a3.5 3.5 0 1 0 7.0 0a3.5 3.5 0 1 0 -7.0 0zM1459.8 551.4a3.5 3.5 0 1 0 7.0 0a3.5 3.5 0 1 0 -7.0 0zM1461.5 551.4a3.5 3.5 0 1 0 7.0 0a3.5 3.5 0 1 0 -7.0 0zM1463.1 551.4a3.5 3.5 0 1 0 7.0 0a3.5 3.5 0 1 0 -7.0 0zM1464.8 551.4a3.5 3.5 0 1 0 7.0 0a3.5 3.5 0 1 0 -7.0 0zM1466.5 551.4a3.5 3.5 0 1 0 7.0 0a3.5 3.5 0 1 0 -7.0 0zM1468.1 551.4a3.5 3.5 0 1 0 7.0 0a3.5 3.5 0 1 0 -7.0 0zM1469.8 551.4a3.5 3.5 0 1 0 7.0 0a3.5 3.5 0 1 0 -7.0 0zM1471.5 551.4a3.5 3.5 0 1 0 7.0 0a3.5 3.5 0 1 0 -7.0 0zM1473.1 551.4a3.5 3.5 0 1 0 7.0 0a3.5 3.5 0 1 0 -7.0 0zM1474.8 551.4a3.5 3.5 0 1 0 7.0 0a3.5 3.5 0 1 0 -7.0 0zM1476.5 551.4a3.5 3.5 0 1 0 7.0 0a3.5 3.5 0 1 0 -7.0 0zM1478.1 551.4a3.5 3.5 0 1 0 7.0 0a3.5 3.5 0 1 0 -7.0 0zM1479.8 551.4a3.5 3.5 0 1 0 7.0 0a3.5 3.5 0 1 0 -7.0 0zM1481.5 551.4a3.5 3.5 0 1 0 7.0 0a3.5 3.5 0 1 0 -7.0 0zM1483.2 551.4a3.5 3.5 0 1 0 7.0 0a3.5 3.5 0 1 0 -7.0 0zM1484.8 551.4a3.5 3.5 0 1 0 7.0 0a3.5 3.5 0 1 0 -7.0 0zM1486.5 551.4a3.5 3.5 0 1 0 7.0 0a3.5 3.5 0 1 0 -7.0 0zM1488.2 551.4a3.5 3.5 0 1 0 7.0 0a3.5 3.5 0 1 0 -7.0 0zM1489.8 551.4a3.5 3.5 0 1 0 7.0 0a3.5 3.5 0 1 0 -7.0 0zM1491.5 551.4a3.5 3.5 0 1 0 7.0 0a3.5 3.5 0 1 0 -7.0 0zM1493.2 551.4a3.5 3.5 0 1 0 7.0 0a3.5 3.5 0 1 0 -7.0 0zM1494.8 551.4a3.5 3.5 0 1 0 7.0 0a3.5 3.5 0 1 0 -7.0 0zM1496.5 551.4a3.5 3.5 0 1 0 7.0 0a3.5 3.5 0 1 0 -7.0 0zM1498.2 551.4a3.5 3.5 0 1 0 7.0 0a3.5 3.5 0 1 0 -7.0 0zM1499.8 551.4a3.5 3.5 0 1 0 7.0 0a3.5 3.5 0 1 0 -7.0 0zM1501.5 551.4a3.5 3.5 0 1 0 7.0 0a3.5 3.5 0 1 0 -7.0 0zM1503.2 551.4a3.5 3.5 0 1 0 7.0 0a3.5 3.5 0 1 0 -7.0 0zM1504.8 551.4a3.5 3.5 0 1 0 7.0 0a3.5 3.5 0 1 0 -7.0 0zM1506.5 551.4a3.5 3.5 0 1 0 7.0 0a3.5 3.5 0 1 0 -7.0 0zM1508.2 551.4a3.5 3.5 0 1 0 7.0 0a3.5 3.5 0 1 0 -7.0 0zM1509.8 551.4a3.5 3.5 0 1 0 7.0 0a3.5 3.5 0 1 0 -7.0 0zM1511.5 551.4a3.5 3.5 0 1 0 7.0 0a3.5 3.5 0 1 0 -7.0 0zM1513.2 551.4a3.5 3.5 0 1 0 7.0 0a3.5 3.5 0 1 0 -7.0 0zM1514.9 551.4a3.5 3.5 0 1 0 7.0 0a3.5 3.5 0 1 0 -7.0 0zM1516.5 551.4a3.5 3.5 0 1 0 7.0 0a3.5 3.5 0 1 0 -7.0 0zM1518.2 551.4a3.5 3.5 0 1 0 7.0 0a3.5 3.5 0 1 0 -7.0 0zM1519.9 551.4a3.5 3.5 0 1 0 7.0 0a3.5 3.5 0 1 0 -7.0 0zM1521.5 551.4a3.5 3.5 0 1 0 7.0 0a3.5 3.5 0 1 0 -7.0 0zM1523.2 551.4a3.5 3.5 0 1 0 7.0 0a3.5 3.5 0 1 0 -7.0 0zM1524.9 551.4a3.5 3.5 0 1 0 7.0 0a3.5 3.5 0 1 0 -7.0 0zM1526.5 551.4a3.5 3.5 0 1 0 7.0 0a3.5 3.5 0 1 0 -7.0 0zM1528.2 551.4a3.5 3.5 0 1 0 7.0 0a3.5 3.5 0 1 0 -7.0 0zM1529.9 551.4a3.5 3.5 0 1 0 7.0 0a3.5 3.5 0 1 0 -7.0 0zM1531.5 551.4a3.5 3.5 0 1 0 7.0 0a3.5 3.5 0 1 0 -7.0 0zM1533.2 551.4a3.5 3.5 0 1 0 7.0 0a3.5 3.5 0 1 0 -7.0 0zM1534.9 551.4a3.5 3.5 0 1 0 7.0 0a3.5 3.5 0 1 0 -7.0 0zM1536.5 551.4a3.5 3.5 0 1 0 7.0 0a3.5 3.5 0 1 0 -7.0 0zM1538.2 551.4a3.5 3.5 0 1 0 7.0 0a3.5 3.5 0 1 0 -7.0 0zM1539.9 551.4a3.5 3.5 0 1 0 7.0 0a3.5 3.5 0 1 0 -7.0 0zM1541.5 551.4a3.5 3.5 0 1 0 7.0 0a3.5 3.5 0 1 0 -7.0 0zM1543.2 551.4a3.5 3.5 0 1 0 7.0 0a3.5 3.5 0 1 0 -7.0 0zM1544.9 551.4a3.5 3.5 0 1 0 7.0 0a3.5 3.5 0 1 0 -7.0 0zM1546.6 551.4a3.5 3.5 0 1 0 7.0 0a3.5 3.5 0 1 0 -7.0 0zM1548.2 551.4a3.5 3.5 0 1 0 7.0 0a3.5 3.5 0 1 0 -7.0 0zM1549.9 551.4a3.5 3.5 0 1 0 7.0 0a3.5 3.5 0 1 0 -7.0 0zM1551.6 551.4a3.5 3.5 0 1 0 7.0 0a3.5 3.5 0 1 0 -7.0 0zM1553.2 551.4a3.5 3.5 0 1 0 7.0 0a3.5 3.5 0 1 0 -7.0 0zM1554.9 551.4a3.5 3.5 0 1 0 7.0 0a3.5 3.5 0 1 0 -7.0 0zM1556.6 551.4a3.5 3.5 0 1 0 7.0 0a3.5 3.5 0 1 0 -7.0 0zM1558.2 551.4a3.5 3.5 0 1 0 7.0 0a3.5 3.5 0 1 0 -7.0 0zM1559.9 551.4a3.5 3.5 0 1 0 7.0 0a3.5 3.5 0 1 0 -7.0 0zM1561.6 551.4a3.5 3.5 0 1 0 7.0 0a3.5 3.5 0 1 0 -7.0 0zM1563.2 551.4a3.5 3.5 0 1 0 7.0 0a3.5 3.5 0 1 0 -7.0 0zM1564.9 551.4a3.5 3.5 0 1 0 7.0 0a3.5 3.5 0 1 0 -7.0 0zM1566.6 551.4a3.5 3.5 0 1 0 7.0 0a3.5 3.5 0 1 0 -7.0 0zM1568.2 551.4a3.5 3.5 0 1 0 7.0 0a3.5 3.5 0 1 0 -7.0 0zM1569.9 551.4a3.5 3.5 0 1 0 7.0 0a3.5 3.5 0 1 0 -7.0 0zM1571.6 551.4a3.5 3.5 0 1 0 7.0 0a3.5 3.5 0 1 0 -7.0 0zM1573.3 551.4a3.5 3.5 0 1 0 7.0 0a3.5 3.5 0 1 0 -7.0 0zM1574.9 551.4a3.5 3.5 0 1 0 7.0 0a3.5 3.5 0 1 0 -7.0 0zM1576.6 551.4a3.5 3.5 0 1 0 7.0 0a3.5 3.5 0 1 0 -7.0 0zM1578.3 551.4a3.5 3.5 0 1 0 7.0 0a3.5 3.5 0 1 0 -7.0 0zM1579.9 551.4a3.5 3.5 0 1 0 7.0 0a3.5 3.5 0 1 0 -7.0 0zM1581.6 551.4a3.5 3.5 0 1 0 7.0 0a3.5 3.5 0 1 0 -7.0 0zM1583.3 551.4a3.5 3.5 0 1 0 7.0 0a3.5 3.5 0 1 0 -7.0 0zM1584.9 551.4a3.5 3.5 0 1 0 7.0 0a3.5 3.5 0 1 0 -7.0 0zM1586.6 551.4a3.5 3.5 0 1 0 7.0 0a3.5 3.5 0 1 0 -7.0 0zM1588.3 551.4a3.5 3.5 0 1 0 7.0 0a3.5 3.5 0 1 0 -7.0 0zM1589.9 551.4a3.5 3.5 0 1 0 7.0 0a3.5 3.5 0 1 0 -7.0 0zM1591.6 551.4a3.5 3.5 0 1 0 7.0 0a3.5 3.5 0 1 0 -7.0 0zM1593.3 551.4a3.5 3.5 0 1 0 7.0 0a3.5 3.5 0 1 0 -7.0 0zM1594.9 551.4a3.5 3.5 0 1 0 7.0 0a3.5 3.5 0 1 0 -7.0 0zM1596.6 551.4a3.5 3.5 0 1 0 7.0 0a3.5 3.5 0 1 0 -7.0 0zM1598.3 551.4a3.5 3.5 0 1 0 7.0 0a3.5 3.5 0 1 0 -7.0 0zM1599.9 551.4a3.5 3.5 0 1 0 7.0 0a3.5 3.5 0 1 0 -7.0 0zM1601.6 551.4a3.5 3.5 0 1 0 7.0 0a3.5 3.5 0 1 0 -7.0 0zM1603.3 551.4a3.5 3.5 0 1 0 7.0 0a3.5 3.5 0 1 0 -7.0 0zM1605.0 551.4a3.5 3.5 0 1 0 7.0 0a3.5 3.5 0 1 0 -7.0 0zM1606.6 551.4a3.5 3.5 0 1 0 7.0 0a3.5 3.5 0 1 0 -7.0 0zM1608.3 551.4a3.5 3.5 0 1 0 7.0 0a3.5 3.5 0 1 0 -7.0 0zM1610.0 551.4a3.5 3.5 0 1 0 7.0 0a3.5 3.5 0 1 0 -7.0 0zM1611.6 551.4a3.5 3.5 0 1 0 7.0 0a3.5 3.5 0 1 0 -7.0 0zM1613.3 551.4a3.5 3.5 0 1 0 7.0 0a3.5 3.5 0 1 0 -7.0 0z"/><path fill="#0000ff" d="M976.1 297.6l4.2 7.2h-8.4zM977.8 291.3l4.2 7.2h-8.4zM979.4 283.9l4.2 7.2h-8.4zM981.1 276.2l4.2 7.2h-8.4zM982.8 268.2l4.2 7.2h-8.4zM984.4 259.7l4.2 7.2h-8.4zM986.1 250.9l4.2 7.2h-8.4zM987.8 241.7l4.2 7.2h-8.4zM989.4 232.2l4.2 7.2h-8.4zM991.1 222.5l4.2 7.2h-8.4zM992.8 212.6l4.2 7.2h-8.4zM994.4 202.6l4.2 7.2h-8.4zM996.1 192.5l4.2 7.2h-8.4zM997.8 182.6l4.2 7.2h-8.4zM999.4 172.9l4.2 7.2h-8.4zM1001.1 163.7l4.2 7.2h-8.4zM1002.8 155.2l4.2 7.2h-8.4zM1004.5 147.4l4.2 7.2h-8.4zM1006.1 140.5l4.2 7.2h-8.4zM1007.8 134.4l4.2 7.2h-8.4zM1009.5 129.1l4.2 7.2h-8.4zM1011.1 124.5l4.2 7.2h-8.4zM1012.8 120.4l4.2 7.2h-8.4zM1014.5 116.7l4.2 7.2h-8.4zM1016.1 112.9l4.2 7.2h-8.4zM1017.8 109.0l4.2 7.2h-8.4zM1019.5 105.8l4.2 7.2h-8.4zM1021.1 104.3l4.2 7.2h-8.4zM1022.8 104.6l4.2 7.2h-8.4zM1024.5 106.0l4.2 7.2h-8.4zM1026.1 107.9l4.2 7.2h-8.4zM1027.8 110.2l4.2 7.2h-8.4zM1029.5 113.0l4.2 7.2h-8.4zM1031.2 116.6l4.2 7.2h-8.4zM1032.8 121.0l4.2 7.2h-8.4zM1034.5 126.3l4.2 7.2h-8.4zM1036.2 131.8l4.2 7.2h-8.4zM1037.8 137.4l4.2 7.2h-8.4zM1039.5 143.0l4.2 7.2h-8.4zM1041.2 148.6l4.2 7.2h-8.4zM1042.8 154.2l4.2 7.2h-8.4zM1044.5 159.8l4.2 7.2h-8.4zM1046.2 165.4l4.2 7.2h-8.4zM1047.8 171.0l4.2 7.2h-8.4zM1049.5 176.6l4.2 7.2h-8.4zM1051.2 182.1l4.2 7.2h-8.4zM1052.8 187.6l4.2 7.2h-8.4zM1054.5 193.1l4.2 7.2h-8.4zM1056.2 198.5l4.2 7.2h-8.4zM1057.8 203.9l4.2 7.2h-8.4zM1059.5 209.3l4.2 7.2h-8.4zM1061.2 214.6l4.2 7.2h-8.4zM1062.9 219.8l4.2 7.2h-8.4zM1064.5 225.0l4.2 7.2h-8.4zM1066.2 230.2l4.2 7.2h-8.4zM1067.9 235.3l4.2 7.2h-8.4zM1069.5 240.3l4.2 7.2h-8.4zM1071.2 245.3l4.2 7.2h-8.4zM1072.9 250.2l4.2 7.2h-8.4zM1074.5 255.1l4.2 7.2h-8.4zM1076.2 259.8l4.2 7.2h-8.4zM1077.9 264.6l4.2 7.2h-8.4zM1079.5 269.2l4.2 7.2h-8.4zM1081.2 273.8l4.2 7.2h-8.4zM1082.9 278.4l4.2 7.2h-8.4zM1084.5 282.8l4.2 7.2h-8.4zM1086.2 287.2l4.2 7.2h-8.4zM1087.9 291.4l4.2 7.2h-8.4zM1089.5 295.6l4.2 7.2h-8.4zM1091.2 299.7l4.2 7.2h-8.4zM1092.9 303.7l4.2 7.2h-8.4zM1094.6 307.5l4.2 7.2h-8.4zM1096.2 311.3l4.2 7.2h-8.4zM1097.9 315.0l4.2 7.2h-8.4zM1099.6 318.5l4.2 7.2h-8.4zM1101.2 322.0l4.2 7.2h-8.4zM1102.9 325.4l4.2 7.2h-8.4zM1104.6 328.7l4.2 7.2h-8.4zM1106.2 331.9l4.2 7.2h-8.4zM1107.9 335.0l4.2 7.2h-8.4zM1109.6 338.0l4.2 7.2h-8.4zM1111.2 341.0l4.2 7.2h-8.4zM1112.9 344.0l4.2 7.2h-8.4zM1114.6 346.9l4.2 7.2h-8.4zM1116.2 349.8l4.2 7.2h-8.4zM1117.9 352.7l4.2 7.2h-8.4zM1119.6 355.5l4.2 7.2h-8.4zM1121.2 358.4l4.2 7.2h-8.4zM1122.9 361.3l4.2 7.2h-8.4zM1124.6 364.2l4.2 7.2h-8.4zM1126.3 367.0l4.2 7.2h-8.4zM1127.9 369.9l4.2 7.2h-8.4zM1129.6 372.6l4.2 7.2h-8.4zM1131.3 375.4l4.2 7.2h-8.4zM1132.9 378.0l4.2 7.2h-8.4zM1134.6 380.6l4.2 7.2h-8.4zM1136.3 383.1l4.2 7.2h-8.4zM1137.9 385.5l4.2 7.2h-8.4zM1139.6 387.8l4.2 7.2h-8.4zM1141.3 390.0l4.2 7.2h-8.4zM1142.9 392.1l4.2 7.2h-8.4zM1144.6 394.1l4.2 7.2h-8.4zM1146.3 396.1l4.2 7.2h-8.4zM1147.9 397.9l4.2 7.2h-8.4zM1149.6 399.8l4.2 7.2h-8.4zM1151.3 401.5l4.2 7.2h-8.4zM1153.0 403.2l4.2 7.2h-8.4zM1154.6 404.9l4.2 7.2h-8.4zM1156.3 406.5l4.2 7.2h-8.4zM1158.0 408.1l4.2 7.2h-8.4zM1159.6 409.6l4.2 7.2h-8.4zM1161.3 411.1l4.2 7.2h-8.4zM1163.0 412.6l4.2 7.2h-8.4zM1164.6 414.0l4.2 7.2h-8.4zM1166.3 415.4l4.2 7.2h-8.4zM1168.0 416.8l4.2 7.2h-8.4zM1169.6 418.2l4.2 7.2h-8.4zM1171.3 419.5l4.2 7.2h-8.4zM1173.0 420.9l4.2 7.2h-8.4zM1174.6 422.2l4.2 7.2h-8.4zM1176.3 423.4l4.2 7.2h-8.4zM1178.0 424.7l4.2 7.2h-8.4zM1179.6 426.0l4.2 7.2h-8.4zM1181.3 427.2l4.2 7.2h-8.4zM1183.0 428.4l4.2 7.2h-8.4zM1184.7 429.6l4.2 7.2h-8.4zM1186.3 430.8l4.2 7.2h-8.4zM1188.0 432.0l4.2 7.2h-8.4zM1189.7 433.2l4.2 7.2h-8.4zM1191.3 434.4l4.2 7.2h-8.4zM1193.0 435.5l4.2 7.2h-8.4zM1194.7 436.7l4.2 7.2h-8.4zM1196.3 437.8l4.2 7.2h-8.4zM1198.0 439.0l4.2 7.2h-8.4zM1199.7 440.1l4.2 7.2h-8.4zM1201.3 441.2l4.2 7.2h-8.4zM1203.0 442.3l4.2 7.2h-8.4zM1204.7 443.4l4.2 7.2h-8.4zM1206.3 444.5l4.2 7.2h-8.4zM1208.0 445.6l4.2 7.2h-8.4zM1209.7 446.6l4.2 7.2h-8.4zM1211.3 447.7l4.2 7.2h-8.4zM1213.0 448.7l4.2 7.2h-8.4zM1214.7 449.8l4.2 7.2h-8.4zM1216.4 450.8l4.2 7.2h-8.4zM1218.0 451.8l4.2 7.2h-8.4zM1219.7 452.8l4.2 7.2h-8.4zM1221.4 453.8l4.2 7.2h-8.4zM1223.0 454.8l4.2 7.2h-8.4zM1224.7 455.7l4.2 7.2h-8.4zM1226.4 456.7l4.2 7.2h-8.4zM1228.0 457.6l4.2 7.2h-8.4zM1229.7 458.6l4.2 7.2h-8.4zM1231.4 459.5l4.2 7.2h-8.4zM1233.0 460.4l4.2 7.2h-8.4zM1234.7 461.3l4.2 7.2h-8.4zM1236.4 462.2l4.2 7.2h-8.4zM1238.0 463.1l4.2 7.2h-8.4zM1239.7 463.9l4.2 7.2h-8.4zM1241.4 464.8l4.2 7.2h-8.4zM1243.1 465.6l4.2 7.2h-8.4zM1244.7 466.5l4.2 7.2h-8.4zM1246.4 467.3l4.2 7.2h-8.4zM1248.1 468.1l4.2 7.2h-8.4zM1249.7 468.9l4.2 7.2h-8.4zM1251.4 469.7l4.2 7.2h-8.4zM1253.1 470.5l4.2 7.2h-8.4zM1254.7 471.2l4.2 7.2h-8.4zM1256.4 471.9l4.2 7.2h-8.4zM1258.1 472.7l4.2 7.2h-8.4zM1259.7 473.4l4.2 7.2h-8.4zM1261.4 474.1l4.2 7.2h-8.4zM1263.1 474.7l4.2 7.2h-8.4zM1264.7 475.4l4.2 7.2h-8.4zM1266.4 476.0l4.2 7.2h-8.4zM1268.1 476.7l4.2 7.2h-8.4zM1269.7 477.3l4.2 7.2h-8.4zM1271.4 477.8l4.2 7.2h-8.4zM1273.1 478.4l4.2 7.2h-8.4zM1274.8 479.0l4.2 7.2h-8.4zM1276.4 479.5l4.2 7.2h-8.4zM1278.1 480.0l4.2 7.2h-8.4zM1279.8 480.5l4.2 7.2h-8.4zM1281.4 481.0l4.2 7.2h-8.4zM1283.1 481.4l4.2 7.2h-8.4zM1284.8 481.6l4.2 7.2h-8.4zM1286.4 481.7l4.2 7.2h-8.4zM1288.1 481.3l4.2 7.2h-8.4zM1289.8 480.4l4.2 7.2h-8.4zM1291.4 478.9l4.2 7.2h-8.4zM1293.1 477.0l4.2 7.2h-8.4zM1294.8 474.9l4.2 7.2h-8.4zM1296.4 473.0l4.2 7.2h-8.4zM1298.1 471.4l4.2 7.2h-8.4zM1299.8 469.8l4.2 7.2h-8.4zM1301.4 468.3l4.2 7.2h-8.4zM1303.1 466.7l4.2 7.2h-8.4zM1304.8 464.9l4.2 7.2h-8.4zM1306.5 462.5l4.2 7.2h-8.4zM1308.1 459.5l4.2 7.2h-8.4zM1309.8 456.4l4.2 7.2h-8.4zM1311.5 453.6l4.2 7.2h-8.4zM1313.1 451.3l4.2 7.2h-8.4zM1314.8 449.3l4.2 7.2h-8.4zM1316.5 447.5l4.2 7.2h-8.4zM1318.1 445.9l4.2 7.2h-8.4zM1319.8 444.5l4.2 7.2h-8.4zM1321.5 443.3l4.2 7.2h-8.4zM1323.1 442.2l4.2 7.2h-8.4zM1324.8 441.2l4.2 7.2h-8.4zM1326.5 440.4l4.2 7.2h-8.4zM1328.1 439.7l4.2 7.2h-8.4zM1329.8 439.1l4.2 7.2h-8.4zM1331.5 438.7l4.2 7.2h-8.4zM1333.1 438.4l4.2 7.2h-8.4zM1334.8 438.3l4.2 7.2h-8.4zM1336.5 438.4l4.2 7.2h-8.4zM1338.2 438.7l4.2 7.2h-8.4zM1339.8 439.2l4.2 7.2h-8.4zM1341.5 439.9l4.2 7.2h-8.4zM1343.2 440.8l4.2 7.2h-8.4zM1344.8 441.8l4.2 7.2h-8.4zM1346.5 443.0l4.2 7.2h-8.4zM1348.2 444.3l4.2 7.2h-8.4zM1349.8 445.7l4.2 7.2h-8.4zM1351.5 447.1l4.2 7.2h-8.4zM1353.2 448.5l4.2 7.2h-8.4zM1354.8 449.9l4.2 7.2h-8.4zM1356.5 451.3l4.2 7.2h-8.4zM1358.2 452.6l4.2 7.2h-8.4zM1359.8 453.8l4.2 7.2h-8.4zM1361.5 455.0l4.2 7.2h-8.4zM1363.2 456.0l4.2 7.2h-8.4zM1364.9 456.8l4.2 7.2h-8.4zM1366.5 457.6l4.2 7.2h-8.4zM1368.2 458.2l4.2 7.2h-8.4zM1369.9 458.6l4.2 7.2h-8.4zM1371.5 459.0l4.2 7.2h-8.4zM1373.2 459.2l4.2 7.2h-8.4zM1374.9 459.3l4.2 7.2h-8.4zM1376.5 459.3l4.2 7.2h-8.4zM1378.2 459.1l4.2 7.2h-8.4zM1379.9 458.8l4.2 7.2h-8.4zM1381.5 458.2l4.2 7.2h-8.4zM1383.2 457.5l4.2 7.2h-8.4zM1384.9 456.5l4.2 7.2h-8.4zM1386.5 455.1l4.2 7.2h-8.4zM1388.2 453.2l4.2 7.2h-8.4zM1389.9 450.9l4.2 7.2h-8.4zM1391.5 448.1l4.2 7.2h-8.4zM1393.2 444.9l4.2 7.2h-8.4zM1394.9 441.4l4.2 7.2h-8.4zM1396.6 437.8l4.2 7.2h-8.4zM1398.2 434.2l4.2 7.2h-8.4zM1399.9 430.6l4.2 7.2h-8.4zM1401.6 426.9l4.2 7.2h-8.4zM1403.2 423.1l4.2 7.2h-8.4zM1404.9 419.5l4.2 7.2h-8.4zM1406.6 416.2l4.2 7.2h-8.4zM1408.2 413.7l4.2 7.2h-8.4zM1409.9 412.5l4.2 7.2h-8.4zM1411.6 412.8l4.2 7.2h-8.4zM1413.2 414.0l4.2 7.2h-8.4zM1414.9 415.4l4.2 7.2h-8.4zM1416.6 416.8l4.2 7.2h-8.4zM1418.2 418.3l4.2 7.2h-8.4zM1419.9 419.8l4.2 7.2h-8.4zM1421.6 421.3l4.2 7.2h-8.4zM1423.2 422.8l4.2 7.2h-8.4zM1424.9 424.3l4.2 7.2h-8.4zM1426.6 425.8l4.2 7.2h-8.4zM1428.3 427.4l4.2 7.2h-8.4zM1429.9 428.9l4.2 7.2h-8.4zM1431.6 430.4l4.2 7.2h-8.4zM1433.3 432.0l4.2 7.2h-8.4zM1434.9 433.5l4.2 7.2h-8.4zM1436.6 435.1l4.2 7.2h-8.4zM1438.3 436.7l4.2 7.2h-8.4zM1439.9 438.3l4.2 7.2h-8.4zM1441.6 439.9l4.2 7.2h-8.4zM1443.3 441.5l4.2 7.2h-8.4zM1444.9 443.1l4.2 7.2h-8.4zM1446.6 444.8l4.2 7.2h-8.4zM1448.3 446.5l4.2 7.2h-8.4zM1449.9 448.1l4.2 7.2h-8.4zM1451.6 449.8l4.2 7.2h-8.4zM1453.3 451.5l4.2 7.2h-8.4zM1455.0 453.2l4.2 7.2h-8.4zM1456.6 454.9l4.2 7.2h-8.4zM1458.3 456.5l4.2 7.2h-8.4zM1460.0 458.1l4.2 7.2h-8.4zM1461.6 459.7l4.2 7.2h-8.4zM1463.3 461.3l4.2 7.2h-8.4zM1465.0 462.8l4.2 7.2h-8.4zM1466.6 464.3l4.2 7.2h-8.4zM1468.3 465.7l4.2 7.2h-8.4zM1470.0 467.1l4.2 7.2h-8.4zM1471.6 468.4l4.2 7.2h-8.4zM1473.3 469.7l4.2 7.2h-8.4zM1475.0 470.9l4.2 7.2h-8.4zM1476.6 472.1l4.2 7.2h-8.4zM1478.3 473.2l4.2 7.2h-8.4zM1480.0 474.2l4.2 7.2h-8.4zM1481.6 475.2l4.2 7.2h-8.4zM1483.3 476.2l4.2 7.2h-8.4zM1485.0 477.1l4.2 7.2h-8.4zM1486.7 478.0l4.2 7.2h-8.4zM1488.3 478.9l4.2 7.2h-8.4zM1490.0 479.7l4.2 7.2h-8.4zM1491.7 480.4l4.2 7.2h-8.4zM1493.3 481.2l4.2 7.2h-8.4zM1495.0 481.9l4.2 7.2h-8.4zM1496.7 482.6l4.2 7.2h-8.4zM1498.3 483.3l4.2 7.2h-8.4zM1500.0 483.9l4.2 7.2h-8.4zM1501.7 484.5l4.2 7.2h-8.4zM1503.3 485.1l4.2 7.2h-8.4zM1505.0 485.7l4.2 7.2h-8.4zM1506.7 486.2l4.2 7.2h-8.4zM1508.3 486.8l4.2 7.2h-8.4zM1510.0 487.3l4.2 7.2h-8.4zM1511.7 487.8l4.2 7.2h-8.4zM1513.3 488.3l4.2 7.2h-8.4zM1515.0 488.7l4.2 7.2h-8.4zM1516.7 489.2l4.2 7.2h-8.4zM1518.4 489.6l4.2 7.2h-8.4zM1520.0 490.1l4.2 7.2h-8.4zM1521.7 490.5l4.2 7.2h-8.4zM1523.4 490.9l4.2 7.2h-8.4zM1525.0 491.3l4.2 7.2h-8.4zM1526.7 491.7l4.2 7.2h-8.4zM1528.4 492.0l4.2 7.2h-8.4zM1530.0 492.4l4.2 7.2h-8.4zM1531.7 492.8l4.2 7.2h-8.4zM1533.4 493.1l4.2 7.2h-8.4zM1535.0 493.5l4.2 7.2h-8.4zM1536.7 493.8l4.2 7.2h-8.4zM1538.4 494.2l4.2 7.2h-8.4zM1540.0 494.5l4.2 7.2h-8.4zM1541.7 494.9l4.2 7.2h-8.4zM1543.4 495.2l4.2 7.2h-8.4zM1545.0 495.5l4.2 7.2h-8.4zM1546.7 495.9l4.2 7.2h-8.4zM1548.4 496.2l4.2 7.2h-8.4zM1550.1 496.5l4.2 7.2h-8.4zM1551.7 496.8l4.2 7.2h-8.4zM1553.4 497.1l4.2 7.2h-8.4zM1555.1 497.5l4.2 7.2h-8.4zM1556.7 497.8l4.2 7.2h-8.4zM1558.4 498.1l4.2 7.2h-8.4zM1560.1 498.4l4.2 7.2h-8.4zM1561.7 498.7l4.2 7.2h-8.4zM1563.4 499.0l4.2 7.2h-8.4zM1565.1 499.3l4.2 7.2h-8.4zM1566.7 499.5l4.2 7.2h-8.4zM1568.4 499.8l4.2 7.2h-8.4zM1570.1 500.1l4.2 7.2h-8.4zM1571.7 500.4l4.2 7.2h-8.4zM1573.4 500.6l4.2 7.2h-8.4zM1575.1 500.9l4.2 7.2h-8.4zM1576.8 501.1l4.2 7.2h-8.4zM1578.4 501.4l4.2 7.2h-8.4zM1580.1 501.6l4.2 7.2h-8.4zM1581.8 501.8l4.2 7.2h-8.4zM1583.4 502.0l4.2 7.2h-8.4zM1585.1 502.2l4.2 7.2h-8.4zM1586.8 502.4l4.2 7.2h-8.4zM1588.4 502.6l4.2 7.2h-8.4zM1590.1 502.8l4.2 7.2h-8.4zM1591.8 503.0l4.2 7.2h-8.4zM1593.4 503.1l4.2 7.2h-8.4zM1595.1 503.3l4.2 7.2h-8.4zM1596.8 503.4l4.2 7.2h-8.4zM1598.4 503.6l4.2 7.2h-8.4zM1600.1 503.7l4.2 7.2h-8.4zM1601.8 503.8l4.2 7.2h-8.4zM1603.4 503.9l4.2 7.2h-8.4zM1605.1 504.0l4.2 7.2h-8.4zM1606.8 504.1l4.2 7.2h-8.4zM1608.5 504.2l4.2 7.2h-8.4zM1610.1 504.2l4.2 7.2h-8.4zM1611.8 504.3l4.2 7.2h-8.4zM1613.5 504.3l4.2 7.2h-8.4zM1615.1 504.3l4.2 7.2h-8.4zM1616.8 504.3l4.2 7.2h-8.4z"/><path fill="#008080" d="M976.1 333.9l4.2 -7.2h-8.4zM977.8 328.7l4.2 -7.2h-8.4zM979.4 322.9l4.2 -7.2h-8.4zM981.1 317.2l4.2 -7.2h-8.4zM982.8 311.5l4.2 -7.2h-8.4zM984.4 305.8l4.2 -7.2h-8.4zM986.1 300.3l4.2 -7.2h-8.4zM987.8 294.9l4.2 -7.2h-8.4zM989.4 289.6l4.2 -7.2h-8.4zM991.1 284.5l4.2 -7.2h-8.4zM992.8 279.6l4.2 -7.2h-8.4zM994.4 274.8l4.2 -7.2h-8.4zM996.1 270.5l4.2 -7.2h-8.4zM997.8 267.0l4.2 -7.2h-8.4zM999.4 264.0l4.2 -7.2h-8.4zM1001.1 261.6l4.2 -7.2h-8.4zM1002.8 259.7l4.2 -7.2h-8.4zM1004.5 258.3l4.2 -7.2h-8.4zM1006.1 257.6l4.2 -7.2h-8.4zM1007.8 257.6l4.2 -7.2h-8.4zM1009.5 258.2l4.2 -7.2h-8.4zM1011.1 259.4l4.2 -7.2h-8.4zM1012.8 261.4l4.2 -7.2h-8.4zM1014.5 264.2l4.2 -7.2h-8.4zM1016.1 268.0l4.2 -7.2h-8.4zM1017.8 272.4l4.2 -7.2h-8.4zM1019.5 277.5l4.2 -7.2h-8.4zM1021.1 283.5l4.2 -7.2h-8.4zM1022.8 290.6l4.2 -7.2h-8.4zM1024.5 299.1l4.2 -7.2h-8.4zM1026.1 308.5l4.2 -7.2h-8.4zM1027.8 317.5l4.2 -7.2h-8.4zM1029.5 325.4l4.2 -7.2h-8.4zM1031.2 332.8l4.2 -7.2h-8.4zM1032.8 339.9l4.2 -7.2h-8.4zM1034.5 346.9l4.2 -7.2h-8.4zM1036.2 354.0l4.2 -7.2h-8.4zM1037.8 361.5l4.2 -7.2h-8.4zM1039.5 369.3l4.2 -7.2h-8.4zM1041.2 377.2l4.2 -7.2h-8.4zM1042.8 385.1l4.2 -7.2h-8.4zM1044.5 392.9l4.2 -7.2h-8.4zM1046.2 400.3l4.2 -7.2h-8.4zM1047.8 407.4l4.2 -7.2h-8.4zM1049.5 413.9l4.2 -7.2h-8.4zM1051.2 420.1l4.2 -7.2h-8.4zM1052.8 425.8l4.2 -7.2h-8.4zM1054.5 431.1l4.2 -7.2h-8.4zM1056.2 436.0l4.2 -7.2h-8.4zM1057.8 440.7l4.2 -7.2h-8.4zM1059.5 445.1l4.2 -7.2h-8.4zM1061.2 449.3l4.2 -7.2h-8.4zM1062.9 453.2l4.2 -7.2h-8.4zM1064.5 456.9l4.2 -7.2h-8.4zM1066.2 460.5l4.2 -7.2h-8.4zM1067.9 463.8l4.2 -7.2h-8.4zM1069.5 467.1l4.2 -7.2h-8.4zM1071.2 470.1l4.2 -7.2h-8.4zM1072.9 473.1l4.2 -7.2h-8.4zM1074.5 475.9l4.2 -7.2h-8.4zM1076.2 478.5l4.2 -7.2h-8.4zM1077.9 481.1l4.2 -7.2h-8.4zM1079.5 483.6l4.2 -7.2h-8.4zM1081.2 486.0l4.2 -7.2h-8.4zM1082.9 488.2l4.2 -7.2h-8.4zM1084.5 490.4l4.2 -7.2h-8.4zM1086.2 492.5l4.2 -7.2h-8.4zM1087.9 494.5l4.2 -7.2h-8.4zM1089.5 496.4l4.2 -7.2h-8.4zM1091.2 498.3l4.2 -7.2h-8.4zM1092.9 500.0l4.2 -7.2h-8.4zM1094.6 501.7l4.2 -7.2h-8.4zM1096.2 503.4l4.2 -7.2h-8.4zM1097.9 505.0l4.2 -7.2h-8.4zM1099.6 506.5l4.2 -7.2h-8.4zM1101.2 507.9l4.2 -7.2h-8.4zM1102.9 509.3l4.2 -7.2h-8.4zM1104.6 510.6l4.2 -7.2h-8.4zM1106.2 511.9l4.2 -7.2h-8.4zM1107.9 513.2l4.2 -7.2h-8.4zM1109.6 514.3l4.2 -7.2h-8.4zM1111.2 515.5l4.2 -7.2h-8.4zM1112.9 516.6l4.2 -7.2h-8.4zM1114.6 517.6l4.2 -7.2h-8.4zM1116.2 518.6l4.2 -7.2h-8.4zM1117.9 519.6l4.2 -7.2h-8.4zM1119.6 520.5l4.2 -7.2h-8.4zM1121.2 521.4l4.2 -7.2h-8.4zM1122.9 522.3l4.2 -7.2h-8.4zM1124.6 523.1l4.2 -7.2h-8.4zM1126.3 523.9l4.2 -7.2h-8.4zM1127.9 524.7l4.2 -7.2h-8.4zM1129.6 525.4l4.2 -7.2h-8.4zM1131.3 526.2l4.2 -7.2h-8.4zM1132.9 526.9l4.2 -7.2h-8.4zM1134.6 527.6l4.2 -7.2h-8.4zM1136.3 528.2l4.2 -7.2h-8.4zM1137.9 528.9l4.2 -7.2h-8.4zM1139.6 529.5l4.2 -7.2h-8.4zM1141.3 530.1l4.2 -7.2h-8.4zM1142.9 530.7l4.2 -7.2h-8.4zM1144.6 531.2l4.2 -7.2h-8.4zM1146.3 531.8l4.2 -7.2h-8.4zM1147.9 532.3l4.2 -7.2h-8.4zM1149.6 532.9l4.2 -7.2h-8.4zM1151.3 533.4l4.2 -7.2h-8.4zM1153.0 533.9l4.2 -7.2h-8.4zM1154.6 534.4l4.2 -7.2h-8.4zM1156.3 534.8l4.2 -7.2h-8.4zM1158.0 535.3l4.2 -7.2h-8.4zM1159.6 535.7l4.2 -7.2h-8.4zM1161.3 536.2l4.2 -7.2h-8.4zM1163.0 536.6l4.2 -7.2h-8.4zM1164.6 537.0l4.2 -7.2h-8.4zM1166.3 537.4l4.2 -7.2h-8.4zM1168.0 537.8l4.2 -7.2h-8.4zM1169.6 538.2l4.2 -7.2h-8.4zM1171.3 538.6l4.2 -7.2h-8.4zM1173.0 539.0l4.2 -7.2h-8.4zM1174.6 539.3l4.2 -7.2h-8.4zM1176.3 539.7l4.2 -7.2h-8.4zM1178.0 540.0l4.2 -7.2h-8.4zM1179.6 540.3l4.2 -7.2h-8.4zM1181.3 540.6l4.2 -7.2h-8.4zM1183.0 540.9l4.2 -7.2h-8.4zM1184.7 541.2l4.2 -7.2h-8.4zM1186.3 541.5l4.2 -7.2h-8.4zM1188.0 541.8l4.2 -7.2h-8.4zM1189.7 542.0l4.2 -7.2h-8.4zM1191.3 542.3l4.2 -7.2h-8.4zM1193.0 542.5l4.2 -7.2h-8.4zM1194.7 542.8l4.2 -7.2h-8.4zM1196.3 543.0l4.2 -7.2h-8.4zM1198.0 543.2l4.2 -7.2h-8.4zM1199.7 543.4l4.2 -7.2h-8.4zM1201.3 543.6l4.2 -7.2h-8.4zM1203.0 543.8l4.2 -7.2h-8.4zM1204.7 543.9l4.2 -7.2h-8.4zM1206.3 544.1l4.2 -7.2h-8.4zM1208.0 544.2l4.2 -7.2h-8.4zM1209.7 544.4l4.2 -7.2h-8.4zM1211.3 544.5l4.2 -7.2h-8.4zM1213.0 544.6l4.2 -7.2h-8.4zM1214.7 544.7l4.2 -7.2h-8.4zM1216.4 544.8l4.2 -7.2h-8.4zM1218.0 544.9l4.2 -7.2h-8.4zM1219.7 545.0l4.2 -7.2h-8.4zM1221.4 545.0l4.2 -7.2h-8.4zM1223.0 545.1l4.2 -7.2h-8.4zM1224.7 545.1l4.2 -7.2h-8.4zM1226.4 545.1l4.2 -7.2h-8.4zM1228.0 545.2l4.2 -7.2h-8.4zM1229.7 545.2l4.2 -7.2h-8.4zM1231.4 545.2l4.2 -7.2h-8.4zM1233.0 545.2l4.2 -7.2h-8.4zM1234.7 545.1l4.2 -7.2h-8.4zM1236.4 545.1l4.2 -7.2h-8.4zM1238.0 545.1l4.2 -7.2h-8.4zM1239.7 545.0l4.2 -7.2h-8.4zM1241.4 545.0l4.2 -7.2h-8.4zM1243.1 544.9l4.2 -7.2h-8.4zM1244.7 544.8l4.2 -7.2h-8.4zM1246.4 544.7l4.2 -7.2h-8.4zM1248.1 544.6l4.2 -7.2h-8.4zM1249.7 544.5l4.2 -7.2h-8.4zM1251.4 544.4l4.2 -7.2h-8.4zM1253.1 544.2l4.2 -7.2h-8.4zM1254.7 544.1l4.2 -7.2h-8.4zM1256.4 543.9l4.2 -7.2h-8.4zM1258.1 543.8l4.2 -7.2h-8.4zM1259.7 543.6l4.2 -7.2h-8.4zM1261.4 543.4l4.2 -7.2h-8.4zM1263.1 543.2l4.2 -7.2h-8.4zM1264.7 543.0l4.2 -7.2h-8.4zM1266.4 542.8l4.2 -7.2h-8.4zM1268.1 542.6l4.2 -7.2h-8.4zM1269.7 542.3l4.2 -7.2h-8.4zM1271.4 542.1l4.2 -7.2h-8.4zM1273.1 541.8l4.2 -7.2h-8.4zM1274.8 541.6l4.2 -7.2h-8.4zM1276.4 541.3l4.2 -7.2h-8.4zM1278.1 541.0l4.2 -7.2h-8.4zM1279.8 540.7l4.2 -7.2h-8.4zM1281.4 540.4l4.2 -7.2h-8.4zM1283.1 540.1l4.2 -7.2h-8.4zM1284.8 539.7l4.2 -7.2h-8.4zM1286.4 539.3l4.2 -7.2h-8.4zM1288.1 538.7l4.2 -7.2h-8.4zM1289.8 538.1l4.2 -7.2h-8.4zM1291.4 537.3l4.2 -7.2h-8.4zM1293.1 536.5l4.2 -7.2h-8.4zM1294.8 535.5l4.2 -7.2h-8.4zM1296.4 534.4l4.2 -7.2h-8.4zM1298.1 533.3l4.2 -7.2h-8.4zM1299.8 532.3l4.2 -7.2h-8.4zM1301.4 531.3l4.2 -7.2h-8.4zM1303.1 530.4l4.2 -7.2h-8.4zM1304.8 529.7l4.2 -7.2h-8.4zM1306.5 529.0l4.2 -7.2h-8.4zM1308.1 528.6l4.2 -7.2h-8.4zM1309.8 528.3l4.2 -7.2h-8.4zM1311.5 528.1l4.2 -7.2h-8.4zM1313.1 528.1l4.2 -7.2h-8.4zM1314.8 528.2l4.2 -7.2h-8.4zM1316.5 528.3l4.2 -7.2h-8.4zM1318.1 528.6l4.2 -7.2h-8.4zM1319.8 529.0l4.2 -7.2h-8.4zM1321.5 529.5l4.2 -7.2h-8.4zM1323.1 530.0l4.2 -7.2h-8.4zM1324.8 530.7l4.2 -7.2h-8.4zM1326.5 531.4l4.2 -7.2h-8.4zM1328.1 532.2l4.2 -7.2h-8.4zM1329.8 533.0l4.2 -7.2h-8.4zM1331.5 533.9l4.2 -7.2h-8.4zM1333.1 534.7l4.2 -7.2h-8.4zM1334.8 535.6l4.2 -7.2h-8.4zM1336.5 536.5l4.2 -7.2h-8.4zM1338.2 537.3l4.2 -7.2h-8.4zM1339.8 538.1l4.2 -7.2h-8.4zM1341.5 538.8l4.2 -7.2h-8.4zM1343.2 539.5l4.2 -7.2h-8.4zM1344.8 540.1l4.2 -7.2h-8.4zM1346.5 540.6l4.2 -7.2h-8.4zM1348.2 541.1l4.2 -7.2h-8.4zM1349.8 541.6l4.2 -7.2h-8.4zM1351.5 541.9l4.2 -7.2h-8.4zM1353.2 542.2l4.2 -7.2h-8.4zM1354.8 542.5l4.2 -7.2h-8.4zM1356.5 542.7l4.2 -7.2h-8.4zM1358.2 542.8l4.2 -7.2h-8.4zM1359.8 542.9l4.2 -7.2h-8.4zM1361.5 542.8l4.2 -7.2h-8.4zM1363.2 542.8l4.2 -7.2h-8.4zM1364.9 542.6l4.2 -7.2h-8.4zM1366.5 542.3l4.2 -7.2h-8.4zM1368.2 542.0l4.2 -7.2h-8.4zM1369.9 541.6l4.2 -7.2h-8.4zM1371.5 541.2l4.2 -7.2h-8.4zM1373.2 540.7l4.2 -7.2h-8.4zM1374.9 540.1l4.2 -7.2h-8.4zM1376.5 539.6l4.2 -7.2h-8.4zM1378.2 539.0l4.2 -7.2h-8.4zM1379.9 538.5l4.2 -7.2h-8.4zM1381.5 538.0l4.2 -7.2h-8.4zM1383.2 537.5l4.2 -7.2h-8.4zM1384.9 537.1l4.2 -7.2h-8.4zM1386.5 536.7l4.2 -7.2h-8.4zM1388.2 536.4l4.2 -7.2h-8.4zM1389.9 536.2l4.2 -7.2h-8.4zM1391.5 536.1l4.2 -7.2h-8.4zM1393.2 536.1l4.2 -7.2h-8.4zM1394.9 536.1l4.2 -7.2h-8.4zM1396.6 536.3l4.2 -7.2h-8.4zM1398.2 536.6l4.2 -7.2h-8.4zM1399.9 537.0l4.2 -7.2h-8.4zM1401.6 537.4l4.2 -7.2h-8.4zM1403.2 538.0l4.2 -7.2h-8.4zM1404.9 538.7l4.2 -7.2h-8.4zM1406.6 539.6l4.2 -7.2h-8.4zM1408.2 540.6l4.2 -7.2h-8.4zM1409.9 541.7l4.2 -7.2h-8.4zM1411.6 542.9l4.2 -7.2h-8.4zM1413.2 544.1l4.2 -7.2h-8.4zM1414.9 545.5l4.2 -7.2h-8.4zM1416.6 546.8l4.2 -7.2h-8.4zM1418.2 548.2l4.2 -7.2h-8.4zM1419.9 549.5l4.2 -7.2h-8.4zM1421.6 550.6l4.2 -7.2h-8.4zM1423.2 551.6l4.2 -7.2h-8.4zM1424.9 552.4l4.2 -7.2h-8.4zM1426.6 553.0l4.2 -7.2h-8.4zM1428.3 553.6l4.2 -7.2h-8.4zM1429.9 554.0l4.2 -7.2h-8.4zM1431.6 554.4l4.2 -7.2h-8.4zM1433.3 554.7l4.2 -7.2h-8.4zM1434.9 554.9l4.2 -7.2h-8.4zM1436.6 555.1l4.2 -7.2h-8.4zM1438.3 555.2l4.2 -7.2h-8.4zM1439.9 555.3l4.2 -7.2h-8.4zM1441.6 555.4l4.2 -7.2h-8.4zM1443.3 555.5l4.2 -7.2h-8.4zM1444.9 555.5l4.2 -7.2h-8.4zM1446.6 555.6l4.2 -7.2h-8.4zM1448.3 555.6l4.2 -7.2h-8.4zM1449.9 555.7l4.2 -7.2h-8.4zM1451.6 555.7l4.2 -7.2h-8.4zM1453.3 555.8l4.2 -7.2h-8.4zM1455.0 555.8l4.2 -7.2h-8.4zM1456.6 555.9l4.2 -7.2h-8.4zM1458.3 555.9l4.2 -7.2h-8.4zM1460.0 555.9l4.2 -7.2h-8.4zM1461.6 556.0l4.2 -7.2h-8.4zM1463.3 556.0l4.2 -7.2h-8.4zM1465.0 556.0l4.2 -7.2h-8.4zM1466.6 556.0l4.2 -7.2h-8.4zM1468.3 556.1l4.2 -7.2h-8.4zM1470.0 556.1l4.2 -7.2h-8.4zM1471.6 556.1l4.2 -7.2h-8.4zM1473.3 556.1l4.2 -7.2h-8.4zM1475.0 556.1l4.2 -7.2h-8.4zM1476.6 556.1l4.2 -7.2h-8.4zM1478.3 556.1l4.2 -7.2h-8.4zM1480.0 556.2l4.2 -7.2h-8.4zM1481.6 556.2l4.2 -7.2h-8.4zM1483.3 556.2l4.2 -7.2h-8.4zM1485.0 556.2l4.2 -7.2h-8.4zM1486.7 556.2l4.2 -7.2h-8.4zM1488.3 556.2l4.2 -7.2h-8.4zM1490.0 556.2l4.2 -7.2h-8.4zM1491.7 556.2l4.2 -7.2h-8.4zM1493.3 556.2l4.2 -7.2h-8.4zM1495.0 556.2l4.2 -7.2h-8.4zM1496.7 556.2l4.2 -7.2h-8.4zM1498.3 556.2l4.2 -7.2h-8.4zM1500.0 556.2l4.2 -7.2h-8.4zM1501.7 556.2l4.2 -7.2h-8.4zM1503.3 556.2l4.2 -7.2h-8.4zM1505.0 556.2l4.2 -7.2h-8.4zM1506.7 556.2l4.2 -7.2h-8.4zM1508.3 556.2l4.2 -7.2h-8.4zM1510.0 556.2l4.2 -7.2h-8.4zM1511.7 556.2l4.2 -7.2h-8.4zM1513.3 556.2l4.2 -7.2h-8.4zM1515.0 556.2l4.2 -7.2h-8.4zM1516.7 556.2l4.2 -7.2h-8.4zM1518.4 556.2l4.2 -7.2h-8.4zM1520.0 556.2l4.2 -7.2h-8.4zM1521.7 556.2l4.2 -7.2h-8.4zM1523.4 556.2l4.2 -7.2h-8.4zM1525.0 556.2l4.2 -7.2h-8.4zM1526.7 556.2l4.2 -7.2h-8.4zM1528.4 556.2l4.2 -7.2h-8.4zM1530.0 556.2l4.2 -7.2h-8.4zM1531.7 556.2l4.2 -7.2h-8.4zM1533.4 556.2l4.2 -7.2h-8.4zM1535.0 556.2l4.2 -7.2h-8.4zM1536.7 556.2l4.2 -7.2h-8.4zM1538.4 556.2l4.2 -7.2h-8.4zM1540.0 556.2l4.2 -7.2h-8.4zM1541.7 556.2l4.2 -7.2h-8.4zM1543.4 556.2l4.2 -7.2h-8.4zM1545.0 556.2l4.2 -7.2h-8.4zM1546.7 556.2l4.2 -7.2h-8.4zM1548.4 556.2l4.2 -7.2h-8.4zM1550.1 556.2l4.2 -7.2h-8.4zM1551.7 556.2l4.2 -7.2h-8.4zM1553.4 556.2l4.2 -7.2h-8.4zM1555.1 556.2l4.2 -7.2h-8.4zM1556.7 556.2l4.2 -7.2h-8.4zM1558.4 556.2l4.2 -7.2h-8.4zM1560.1 556.2l4.2 -7.2h-8.4zM1561.7 556.2l4.2 -7.2h-8.4zM1563.4 556.2l4.2 -7.2h-8.4zM1565.1 556.2l4.2 -7.2h-8.4zM1566.7 556.2l4.2 -7.2h-8.4zM1568.4 556.2l4.2 -7.2h-8.4zM1570.1 556.2l4.2 -7.2h-8.4zM1571.7 556.2l4.2 -7.2h-8.4zM1573.4 556.2l4.2 -7.2h-8.4zM1575.1 556.2l4.2 -7.2h-8.4zM1576.8 556.2l4.2 -7.2h-8.4zM1578.4 556.2l4.2 -7.2h-8.4zM1580.1 556.2l4.2 -7.2h-8.4zM1581.8 556.2l4.2 -7.2h-8.4zM1583.4 556.2l4.2 -7.2h-8.4zM1585.1 556.2l4.2 -7.2h-8.4zM1586.8 556.2l4.2 -7.2h-8.4zM1588.4 556.2l4.2 -7.2h-8.4zM1590.1 556.2l4.2 -7.2h-8.4zM1591.8 556.2l4.2 -7.2h-8.4zM1593.4 556.2l4.2 -7.2h-8.4zM1595.1 556.2l4.2 -7.2h-8.4zM1596.8 556.2l4.2 -7.2h-8.4zM1598.4 556.2l4.2 -7.2h-8.4zM1600.1 556.2l4.2 -7.2h-8.4zM1601.8 556.2l4.2 -7.2h-8.4zM1603.4 556.2l4.2 -7.2h-8.4zM1605.1 556.2l4.2 -7.2h-8.4zM1606.8 556.2l4.2 -7.2h-8.4zM1608.5 556.2l4.2 -7.2h-8.4zM1610.1 556.2l4.2 -7.2h-8.4zM1611.8 556.2l4.2 -7.2h-8.4zM1613.5 556.2l4.2 -7.2h-8.4zM1615.1 556.2l4.2 -7.2h-8.4zM1616.8 556.2l4.2 -7.2h-8.4z"/></g>
<rect x="464.5" y="228.3" width="244.10000000000002" height="198.0" fill="#fff" stroke="#666" stroke-width="1.25" stroke-linejoin="round"/>
<path fill="#000" d="M498.2 251.2h6.2v6.2h-6.2z"/>
<text class="lg" x="535.2" y="262.6" style="font-size:30.8px">T</text>
<text class="lg" x="555.0" y="274.3" style="font-size:16.5px">P</text>
<text class="lg" x="574.1" y="262.6" style="font-size:30.8px">TF modle</text>
<path fill="#f00" d="M497.8 302.2a3.5 3.5 0 1 0 7.0 0a3.5 3.5 0 1 0 -7.0 0z"/>
<text class="lg" x="535.2" y="310.5" style="font-size:30.8px">T</text>
<text class="lg" x="555.0" y="322.2" style="font-size:16.5px">P</text>
<text class="lg" x="574.1" y="310.5" style="font-size:30.8px">IF modle</text>
<path fill="#00f" d="M501.3 345.8l4.2 7.2h-8.4z"/>
<text class="lg" x="535.2" y="358.9" style="font-size:30.8px">T</text>
<text class="lg" x="555.0" y="370.59999999999997" style="font-size:16.5px">S</text>
<text class="lg" x="574.1" y="358.9" style="font-size:30.8px">TF modle</text>
<path fill="#008080" d="M501.3 403.1l4.2 -7.2h-8.4z"/>
<text class="lg" x="535.2" y="406.6" style="font-size:30.8px">T</text>
<text class="lg" x="555.0" y="418.3" style="font-size:16.5px">S</text>
<text class="lg" x="574.1" y="406.6" style="font-size:30.8px">IF modle</text>
<rect x="1219.5" y="111.6" width="251.79999999999995" height="200.70000000000002" fill="#fff" stroke="#666" stroke-width="1.25" stroke-linejoin="round"/>
<path fill="#000" d="M1257.0 136.5h6.2v6.2h-6.2z"/>
<text class="lg" x="1295.2" y="147.9" style="font-size:29.8px">R</text>
<text class="lg" x="1316.8" y="159.5" style="font-size:16.2px">P</text>
<text class="lg" x="1335.9" y="147.9" style="font-size:29.8px">TF model</text>
<path fill="#f00" d="M1256.6 187.3a3.5 3.5 0 1 0 7.0 0a3.5 3.5 0 1 0 -7.0 0z"/>
<text class="lg" x="1295.2" y="195.6" style="font-size:29.8px">R</text>
<text class="lg" x="1316.8" y="207.2" style="font-size:16.2px">P</text>
<text class="lg" x="1335.9" y="195.6" style="font-size:29.8px">IF model</text>
<path fill="#00f" d="M1260.1 230.2l4.2 7.2h-8.4z"/>
<text class="lg" x="1295.2" y="243.3" style="font-size:29.8px">R</text>
<text class="lg" x="1316.8" y="254.9" style="font-size:16.2px">S</text>
<text class="lg" x="1335.9" y="243.3" style="font-size:29.8px">TF model</text>
<path fill="#008080" d="M1260.1 287.5l4.2 -7.2h-8.4z"/>
<text class="lg" x="1295.2" y="291.0" style="font-size:29.8px">R</text>
<text class="lg" x="1316.8" y="302.6" style="font-size:16.2px">S</text>
<text class="lg" x="1335.9" y="291.0" style="font-size:29.8px">IF model</text>
<text class="ttl" x="301.3" y="651.3">Wavelength (nm)</text>
<text class="ttl" x="1139.9" y="649.6">Wavelength (nm)</text>
<text class="ttl" style="font-size:39.82px" transform="translate(28.0 499.5) rotate(-90)">Transmittance (%)</text>
<text class="ttl" transform="translate(874.5 469.6) rotate(-90)">Reflectance (%)</text>
<text class="pl" transform="translate(1.8 28.6) scale(1 0.965)">(a)</text>
<text class="pl" transform="translate(840.7 33.1) scale(1 0.96)">(b)</text>
</svg>
</body></html>
